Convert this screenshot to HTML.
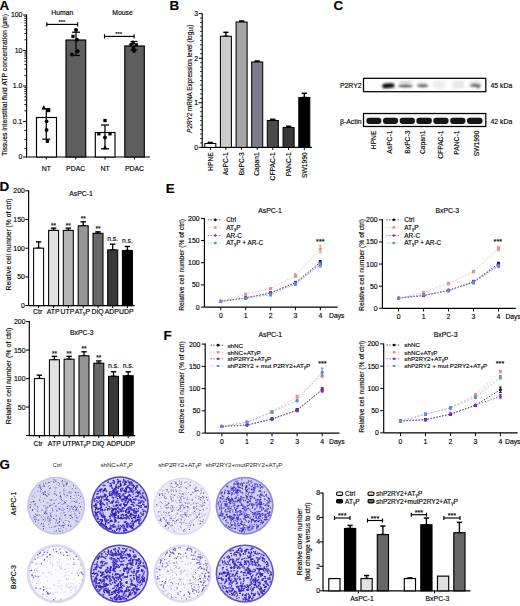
<!DOCTYPE html>
<html><head><meta charset="utf-8"><style>
html,body{margin:0;padding:0;background:#fff;width:520px;height:606px;overflow:hidden;}
svg{display:block;}
text{stroke:#000;stroke-width:0.14px;}
text[fill='#222']{stroke:none;}
</style></head><body>
<svg width="520" height="606" viewBox="0 0 520 606" font-family='"Liberation Sans", sans-serif'><defs>
<filter id="blur1" x="-20%" y="-80%" width="140%" height="260%"><feGaussianBlur stdDeviation="1.0"/></filter>
<filter id="blur2" x="-20%" y="-80%" width="140%" height="260%"><feGaussianBlur stdDeviation="0.6"/></filter>
<filter id="blur3" x="-20%" y="-80%" width="140%" height="260%"><feGaussianBlur stdDeviation="0.85"/></filter>
<filter id="soft" x="-10%" y="-10%" width="120%" height="120%"><feGaussianBlur stdDeviation="0.35"/></filter>
</defs>
<text x="-0.6" y="9.7" font-size="13.4" font-weight="bold">A</text>
<line x1="26.60" y1="14.50" x2="26.60" y2="157.50" stroke="#000" stroke-width="1.15"/>
<line x1="26.60" y1="157.00" x2="150.00" y2="157.00" stroke="#000" stroke-width="1.15"/>
<line x1="23.10" y1="15.00" x2="26.60" y2="15.00" stroke="#000" stroke-width="1"/>
<line x1="23.10" y1="50.50" x2="26.60" y2="50.50" stroke="#000" stroke-width="1"/>
<line x1="23.10" y1="86.00" x2="26.60" y2="86.00" stroke="#000" stroke-width="1"/>
<line x1="23.10" y1="121.50" x2="26.60" y2="121.50" stroke="#000" stroke-width="1"/>
<text x="22.4" y="17.45" font-size="6.9" text-anchor="end">100</text>
<text x="22.4" y="52.95" font-size="6.9" text-anchor="end">10</text>
<text x="22.4" y="88.45" font-size="6.9" text-anchor="end">1.0</text>
<text x="22.4" y="123.95" font-size="6.9" text-anchor="end">0.1</text>
<text x="22.4" y="159.45" font-size="6.9" text-anchor="end">0</text>
<line x1="23.10" y1="157.00" x2="26.60" y2="157.00" stroke="#000" stroke-width="1"/>
<line x1="24.30" y1="39.81" x2="26.60" y2="39.81" stroke="#000" stroke-width="0.85"/>
<line x1="24.30" y1="33.56" x2="26.60" y2="33.56" stroke="#000" stroke-width="0.85"/>
<line x1="24.30" y1="29.13" x2="26.60" y2="29.13" stroke="#000" stroke-width="0.85"/>
<line x1="24.30" y1="25.69" x2="26.60" y2="25.69" stroke="#000" stroke-width="0.85"/>
<line x1="24.30" y1="22.88" x2="26.60" y2="22.88" stroke="#000" stroke-width="0.85"/>
<line x1="24.30" y1="20.50" x2="26.60" y2="20.50" stroke="#000" stroke-width="0.85"/>
<line x1="24.30" y1="18.44" x2="26.60" y2="18.44" stroke="#000" stroke-width="0.85"/>
<line x1="24.30" y1="16.62" x2="26.60" y2="16.62" stroke="#000" stroke-width="0.85"/>
<line x1="24.30" y1="75.31" x2="26.60" y2="75.31" stroke="#000" stroke-width="0.85"/>
<line x1="24.30" y1="69.06" x2="26.60" y2="69.06" stroke="#000" stroke-width="0.85"/>
<line x1="24.30" y1="64.63" x2="26.60" y2="64.63" stroke="#000" stroke-width="0.85"/>
<line x1="24.30" y1="61.19" x2="26.60" y2="61.19" stroke="#000" stroke-width="0.85"/>
<line x1="24.30" y1="58.38" x2="26.60" y2="58.38" stroke="#000" stroke-width="0.85"/>
<line x1="24.30" y1="56.00" x2="26.60" y2="56.00" stroke="#000" stroke-width="0.85"/>
<line x1="24.30" y1="53.94" x2="26.60" y2="53.94" stroke="#000" stroke-width="0.85"/>
<line x1="24.30" y1="52.12" x2="26.60" y2="52.12" stroke="#000" stroke-width="0.85"/>
<line x1="24.30" y1="110.81" x2="26.60" y2="110.81" stroke="#000" stroke-width="0.85"/>
<line x1="24.30" y1="104.56" x2="26.60" y2="104.56" stroke="#000" stroke-width="0.85"/>
<line x1="24.30" y1="100.13" x2="26.60" y2="100.13" stroke="#000" stroke-width="0.85"/>
<line x1="24.30" y1="96.69" x2="26.60" y2="96.69" stroke="#000" stroke-width="0.85"/>
<line x1="24.30" y1="93.88" x2="26.60" y2="93.88" stroke="#000" stroke-width="0.85"/>
<line x1="24.30" y1="91.50" x2="26.60" y2="91.50" stroke="#000" stroke-width="0.85"/>
<line x1="24.30" y1="89.44" x2="26.60" y2="89.44" stroke="#000" stroke-width="0.85"/>
<line x1="24.30" y1="87.62" x2="26.60" y2="87.62" stroke="#000" stroke-width="0.85"/>
<line x1="24.30" y1="130.50" x2="26.60" y2="130.50" stroke="#000" stroke-width="0.85"/>
<line x1="24.30" y1="139.50" x2="26.60" y2="139.50" stroke="#000" stroke-width="0.85"/>
<line x1="24.30" y1="148.50" x2="26.60" y2="148.50" stroke="#000" stroke-width="0.85"/>
<text x="7.2" y="85" font-size="6.85" text-anchor="middle" transform="rotate(-90 7.2 85)">Tissues interstitial fluid ATP concentration (μm)</text>
<rect x="36.50" y="117.50" width="20.00" height="39.50" fill="#fff" stroke="#000" stroke-width="1.15"/>
<rect x="66.00" y="40.00" width="19.70" height="117.00" fill="#5e5e5e" stroke="#000" stroke-width="1.15"/>
<rect x="95.30" y="132.50" width="19.70" height="24.50" fill="#fff" stroke="#000" stroke-width="1.15"/>
<rect x="124.80" y="46.00" width="19.50" height="111.00" fill="#5e5e5e" stroke="#000" stroke-width="1.15"/>
<line x1="46.30" y1="108.80" x2="46.30" y2="139.20" stroke="#000" stroke-width="1.25"/>
<line x1="42.30" y1="108.80" x2="50.30" y2="108.80" stroke="#000" stroke-width="1.25"/>
<line x1="42.30" y1="139.20" x2="50.30" y2="139.20" stroke="#000" stroke-width="1.25"/>
<path d="M43.80 105.22L46.08 109.21L41.52 109.21Z" fill="#000"/>
<rect x="46.95" y="108.85" width="3.3" height="3.3" fill="#000"/>
<circle cx="46.60" cy="121.30" r="1.9" fill="#000"/>
<circle cx="46.60" cy="130.00" r="1.9" fill="#000"/>
<rect x="45.75" y="139.65" width="3.3" height="3.3" fill="#000"/>
<line x1="76.00" y1="32.20" x2="76.00" y2="55.50" stroke="#000" stroke-width="1.25"/>
<line x1="72.00" y1="32.20" x2="80.00" y2="32.20" stroke="#000" stroke-width="1.25"/>
<line x1="72.00" y1="55.50" x2="80.00" y2="55.50" stroke="#000" stroke-width="1.25"/>
<circle cx="76.00" cy="30.00" r="2.0" fill="#000"/>
<rect x="71.35" y="34.75" width="3.3" height="3.3" fill="#000"/>
<circle cx="77.00" cy="39.80" r="2.0" fill="#000"/>
<circle cx="77.50" cy="51.30" r="2.0" fill="#000"/>
<circle cx="72.00" cy="54.50" r="2.0" fill="#000"/>
<line x1="105.00" y1="125.00" x2="105.00" y2="148.80" stroke="#000" stroke-width="1.25"/>
<line x1="101.00" y1="125.00" x2="109.00" y2="125.00" stroke="#000" stroke-width="1.25"/>
<line x1="101.00" y1="148.80" x2="109.00" y2="148.80" stroke="#000" stroke-width="1.25"/>
<rect x="103.35" y="118.85" width="3.3" height="3.3" fill="#000"/>
<rect x="97.15" y="132.15" width="3.3" height="3.3" fill="#000"/>
<rect x="108.35" y="132.15" width="3.3" height="3.3" fill="#000"/>
<circle cx="105.00" cy="137.50" r="2.0" fill="#000"/>
<path d="M105.00 145.22L107.28 149.21L102.72 149.21Z" fill="#000"/>
<line x1="134.00" y1="41.50" x2="134.00" y2="50.00" stroke="#000" stroke-width="1.25"/>
<line x1="130.50" y1="41.50" x2="137.50" y2="41.50" stroke="#000" stroke-width="1.25"/>
<line x1="130.50" y1="50.00" x2="137.50" y2="50.00" stroke="#000" stroke-width="1.25"/>
<path d="M133.00 39.92L135.28 43.91L130.72 43.91Z" fill="#000"/>
<circle cx="131.00" cy="44.80" r="1.9" fill="#000"/>
<rect x="134.95" y="43.25" width="3.1" height="3.1" fill="#000"/>
<circle cx="133.50" cy="48.50" r="1.9" fill="#000"/>
<circle cx="134.00" cy="51.00" r="1.9" fill="#000"/>
<line x1="46.80" y1="24.40" x2="77.70" y2="24.40" stroke="#000" stroke-width="1.15"/>
<line x1="46.80" y1="22.20" x2="46.80" y2="26.60" stroke="#000" stroke-width="1.15"/>
<line x1="77.70" y1="22.20" x2="77.70" y2="26.60" stroke="#000" stroke-width="1.15"/>
<text x="61.8" y="24.3" font-size="5.8" text-anchor="middle">***</text>
<line x1="104.50" y1="36.40" x2="134.10" y2="36.40" stroke="#000" stroke-width="1.15"/>
<line x1="104.50" y1="34.20" x2="104.50" y2="38.60" stroke="#000" stroke-width="1.15"/>
<line x1="134.10" y1="34.20" x2="134.10" y2="38.60" stroke="#000" stroke-width="1.15"/>
<text x="118.7" y="36.3" font-size="5.8" text-anchor="middle">***</text>
<text x="62.3" y="15" font-size="6.8" text-anchor="middle">Human</text>
<text x="122.5" y="15" font-size="6.8" text-anchor="middle">Mouse</text>
<line x1="46.30" y1="157.00" x2="46.30" y2="159.50" stroke="#000" stroke-width="1"/>
<text x="46.3" y="170.5" font-size="6.9" text-anchor="middle">NT</text>
<line x1="75.70" y1="157.00" x2="75.70" y2="159.50" stroke="#000" stroke-width="1"/>
<text x="75.7" y="170.5" font-size="6.9" text-anchor="middle">PDAC</text>
<line x1="105.00" y1="157.00" x2="105.00" y2="159.50" stroke="#000" stroke-width="1"/>
<text x="105" y="170.5" font-size="6.9" text-anchor="middle">NT</text>
<line x1="134.50" y1="157.00" x2="134.50" y2="159.50" stroke="#000" stroke-width="1"/>
<text x="134.5" y="170.5" font-size="6.9" text-anchor="middle">PDAC</text>
<text x="169.6" y="10" font-size="13.4" font-weight="bold">B</text>
<line x1="202.20" y1="13.50" x2="202.20" y2="147.40" stroke="#000" stroke-width="1.15"/>
<line x1="202.20" y1="147.40" x2="312.00" y2="147.40" stroke="#000" stroke-width="1.15"/>
<line x1="198.70" y1="147.40" x2="202.20" y2="147.40" stroke="#000" stroke-width="1"/>
<text x="198" y="149.85" font-size="6.9" text-anchor="end">0</text>
<line x1="200.00" y1="142.94" x2="202.20" y2="142.94" stroke="#000" stroke-width="0.75"/>
<line x1="200.00" y1="138.48" x2="202.20" y2="138.48" stroke="#000" stroke-width="0.75"/>
<line x1="200.00" y1="134.02" x2="202.20" y2="134.02" stroke="#000" stroke-width="0.75"/>
<line x1="200.00" y1="129.56" x2="202.20" y2="129.56" stroke="#000" stroke-width="0.75"/>
<line x1="200.00" y1="125.10" x2="202.20" y2="125.10" stroke="#000" stroke-width="0.75"/>
<line x1="200.00" y1="120.64" x2="202.20" y2="120.64" stroke="#000" stroke-width="0.75"/>
<line x1="200.00" y1="116.18" x2="202.20" y2="116.18" stroke="#000" stroke-width="0.75"/>
<line x1="200.00" y1="111.72" x2="202.20" y2="111.72" stroke="#000" stroke-width="0.75"/>
<line x1="200.00" y1="107.26" x2="202.20" y2="107.26" stroke="#000" stroke-width="0.75"/>
<line x1="198.70" y1="102.80" x2="202.20" y2="102.80" stroke="#000" stroke-width="1"/>
<text x="198" y="105.25000000000001" font-size="6.9" text-anchor="end">1</text>
<line x1="200.00" y1="98.34" x2="202.20" y2="98.34" stroke="#000" stroke-width="0.75"/>
<line x1="200.00" y1="93.88" x2="202.20" y2="93.88" stroke="#000" stroke-width="0.75"/>
<line x1="200.00" y1="89.42" x2="202.20" y2="89.42" stroke="#000" stroke-width="0.75"/>
<line x1="200.00" y1="84.96" x2="202.20" y2="84.96" stroke="#000" stroke-width="0.75"/>
<line x1="200.00" y1="80.50" x2="202.20" y2="80.50" stroke="#000" stroke-width="0.75"/>
<line x1="200.00" y1="76.04" x2="202.20" y2="76.04" stroke="#000" stroke-width="0.75"/>
<line x1="200.00" y1="71.58" x2="202.20" y2="71.58" stroke="#000" stroke-width="0.75"/>
<line x1="200.00" y1="67.12" x2="202.20" y2="67.12" stroke="#000" stroke-width="0.75"/>
<line x1="200.00" y1="62.66" x2="202.20" y2="62.66" stroke="#000" stroke-width="0.75"/>
<line x1="198.70" y1="58.20" x2="202.20" y2="58.20" stroke="#000" stroke-width="1"/>
<text x="198" y="60.650000000000006" font-size="6.9" text-anchor="end">2</text>
<line x1="200.00" y1="53.74" x2="202.20" y2="53.74" stroke="#000" stroke-width="0.75"/>
<line x1="200.00" y1="49.28" x2="202.20" y2="49.28" stroke="#000" stroke-width="0.75"/>
<line x1="200.00" y1="44.82" x2="202.20" y2="44.82" stroke="#000" stroke-width="0.75"/>
<line x1="200.00" y1="40.36" x2="202.20" y2="40.36" stroke="#000" stroke-width="0.75"/>
<line x1="200.00" y1="35.90" x2="202.20" y2="35.90" stroke="#000" stroke-width="0.75"/>
<line x1="200.00" y1="31.44" x2="202.20" y2="31.44" stroke="#000" stroke-width="0.75"/>
<line x1="200.00" y1="26.98" x2="202.20" y2="26.98" stroke="#000" stroke-width="0.75"/>
<line x1="200.00" y1="22.52" x2="202.20" y2="22.52" stroke="#000" stroke-width="0.75"/>
<line x1="200.00" y1="18.06" x2="202.20" y2="18.06" stroke="#000" stroke-width="0.75"/>
<line x1="198.70" y1="13.60" x2="202.20" y2="13.60" stroke="#000" stroke-width="1"/>
<text x="198" y="16.049999999999994" font-size="6.9" text-anchor="end">3</text>
<text x="191.6" y="78.7" font-size="6.4" text-anchor="middle" transform="rotate(-90 191.6 78.7)"><tspan font-style="italic">P2RY2</tspan> mRNA Expression level (log<tspan font-size="4.5" dy="1.5">10</tspan><tspan dy="-1.5">)</tspan></text>
<line x1="210.30" y1="142.40" x2="210.30" y2="143.50" stroke="#000" stroke-width="1.4"/>
<line x1="207.70" y1="142.40" x2="212.90" y2="142.40" stroke="#000" stroke-width="1.5"/>
<line x1="207.70" y1="143.50" x2="212.90" y2="143.50" stroke="#000" stroke-width="1.5"/>
<rect x="204.80" y="143.50" width="11.00" height="3.90" fill="#ffffff" stroke="#000" stroke-width="1.05"/>
<line x1="210.30" y1="147.40" x2="210.30" y2="149.90" stroke="#000" stroke-width="1"/>
<text x="212.60000000000002" y="152.3" font-size="6.7" text-anchor="end" transform="rotate(-90 212.60000000000002 152.3)">HPNE</text>
<line x1="225.90" y1="32.30" x2="225.90" y2="36.30" stroke="#000" stroke-width="1.4"/>
<line x1="223.30" y1="32.30" x2="228.50" y2="32.30" stroke="#000" stroke-width="1.5"/>
<line x1="223.30" y1="36.30" x2="228.50" y2="36.30" stroke="#000" stroke-width="1.5"/>
<rect x="220.40" y="36.30" width="11.00" height="111.10" fill="#cbcbcb" stroke="#000" stroke-width="1.05"/>
<line x1="225.90" y1="147.40" x2="225.90" y2="149.90" stroke="#000" stroke-width="1"/>
<text x="228.20000000000002" y="152.3" font-size="6.7" text-anchor="end" transform="rotate(-90 228.20000000000002 152.3)">AsPC-1</text>
<line x1="241.60" y1="21.00" x2="241.60" y2="22.00" stroke="#000" stroke-width="1.4"/>
<line x1="239.00" y1="21.00" x2="244.20" y2="21.00" stroke="#000" stroke-width="1.5"/>
<line x1="239.00" y1="22.00" x2="244.20" y2="22.00" stroke="#000" stroke-width="1.5"/>
<rect x="236.10" y="22.00" width="11.00" height="125.40" fill="#a5a5a5" stroke="#000" stroke-width="1.05"/>
<line x1="241.60" y1="147.40" x2="241.60" y2="149.90" stroke="#000" stroke-width="1"/>
<text x="243.9" y="152.3" font-size="6.7" text-anchor="end" transform="rotate(-90 243.9 152.3)">BxPC-3</text>
<line x1="257.20" y1="61.00" x2="257.20" y2="62.00" stroke="#000" stroke-width="1.4"/>
<line x1="254.60" y1="61.00" x2="259.80" y2="61.00" stroke="#000" stroke-width="1.5"/>
<line x1="254.60" y1="62.00" x2="259.80" y2="62.00" stroke="#000" stroke-width="1.5"/>
<rect x="251.70" y="62.00" width="11.00" height="85.40" fill="#7c7c8e" stroke="#000" stroke-width="1.05"/>
<line x1="257.20" y1="147.40" x2="257.20" y2="149.90" stroke="#000" stroke-width="1"/>
<text x="259.5" y="152.3" font-size="6.7" text-anchor="end" transform="rotate(-90 259.5 152.3)">Capan1</text>
<line x1="272.80" y1="119.30" x2="272.80" y2="120.50" stroke="#000" stroke-width="1.4"/>
<line x1="270.20" y1="119.30" x2="275.40" y2="119.30" stroke="#000" stroke-width="1.5"/>
<line x1="270.20" y1="120.50" x2="275.40" y2="120.50" stroke="#000" stroke-width="1.5"/>
<rect x="267.30" y="120.50" width="11.00" height="26.90" fill="#4a4a4a" stroke="#000" stroke-width="1.05"/>
<line x1="272.80" y1="147.40" x2="272.80" y2="149.90" stroke="#000" stroke-width="1"/>
<text x="275.1" y="152.3" font-size="6.7" text-anchor="end" transform="rotate(-90 275.1 152.3)">CFPAC-1</text>
<line x1="288.60" y1="126.30" x2="288.60" y2="127.50" stroke="#000" stroke-width="1.4"/>
<line x1="286.00" y1="126.30" x2="291.20" y2="126.30" stroke="#000" stroke-width="1.5"/>
<line x1="286.00" y1="127.50" x2="291.20" y2="127.50" stroke="#000" stroke-width="1.5"/>
<rect x="283.10" y="127.50" width="11.00" height="19.90" fill="#383838" stroke="#000" stroke-width="1.05"/>
<line x1="288.60" y1="147.40" x2="288.60" y2="149.90" stroke="#000" stroke-width="1"/>
<text x="290.90000000000003" y="152.3" font-size="6.7" text-anchor="end" transform="rotate(-90 290.90000000000003 152.3)">PANC-1</text>
<line x1="304.30" y1="93.30" x2="304.30" y2="97.50" stroke="#000" stroke-width="1.4"/>
<line x1="301.70" y1="93.30" x2="306.90" y2="93.30" stroke="#000" stroke-width="1.5"/>
<line x1="301.70" y1="97.50" x2="306.90" y2="97.50" stroke="#000" stroke-width="1.5"/>
<rect x="298.80" y="97.50" width="11.00" height="49.90" fill="#000000" stroke="#000" stroke-width="1.05"/>
<line x1="304.30" y1="147.40" x2="304.30" y2="149.90" stroke="#000" stroke-width="1"/>
<text x="306.6" y="152.3" font-size="6.7" text-anchor="end" transform="rotate(-90 306.6 152.3)">SW1990</text>
<text x="333.6" y="10" font-size="13.4" font-weight="bold">C</text>
<rect x="363.50" y="78.30" width="122.30" height="13.40" fill="#fdfdfd" stroke="none" stroke-width="0"/>
<rect x="363.50" y="113.50" width="122.30" height="13.00" fill="#f6f6f6" stroke="none" stroke-width="0"/>
<g filter="url(#blur3)">
<path d="M382.5 84.2 Q388 82.6 394 83.6 L394.5 87.2 Q388 88.6 382.5 88 Z" fill="#111"/>
<ellipse cx="405.5" cy="82.6" rx="7.2" ry="1.7" fill="#d4d4d4"/>
<ellipse cx="405.5" cy="85.9" rx="7.4" ry="1.25" fill="#3a3a3a"/>
<ellipse cx="422.6" cy="82.8" rx="5.5" ry="1.4" fill="#e4e4e4"/>
<ellipse cx="422.6" cy="85.6" rx="5.6" ry="1.3" fill="#3e3e3e"/>
<rect x="433" y="81" width="12" height="7.5" rx="3" fill="#ececec"/>
<rect x="452.5" y="81" width="11.5" height="7.5" rx="3" fill="#e8e8e8"/>
<ellipse cx="475.3" cy="82.8" rx="5.8" ry="1.5" fill="#d8d8d8"/>
<ellipse cx="475.3" cy="85.3" rx="5.8" ry="1.2" fill="#333"/>
<circle cx="478.2" cy="87.6" r="1" fill="#222"/>
</g>
<g filter="url(#blur2)">
<rect x="366.4" y="117.8" width="14.9" height="6.1" rx="2.8" fill="#141414"/>
<rect x="383" y="117.8" width="15.0" height="6.1" rx="2.8" fill="#141414"/>
<rect x="399.7" y="117.8" width="15.2" height="6.1" rx="2.8" fill="#141414"/>
<rect x="416.4" y="117.8" width="15.4" height="6.1" rx="2.8" fill="#141414"/>
<rect x="433.3" y="117.8" width="15.3" height="6.1" rx="2.8" fill="#141414"/>
<rect x="450.2" y="117.8" width="15.2" height="6.1" rx="2.8" fill="#141414"/>
<rect x="467" y="117.8" width="15.5" height="6.1" rx="2.8" fill="#141414"/>
</g>
<rect x="363.50" y="78.30" width="122.30" height="13.40" fill="none" stroke="#000" stroke-width="1.25"/>
<rect x="363.50" y="113.50" width="122.30" height="13.00" fill="none" stroke="#000" stroke-width="1.25"/>
<text x="361.6" y="88.3" font-size="6.9" text-anchor="end">P2RY2</text>
<text x="361.6" y="123.5" font-size="6.9" text-anchor="end">β-Actin</text>
<text x="490.5" y="88.3" font-size="6.9">45 kDa</text>
<text x="490.5" y="124" font-size="6.9">42 kDa</text>
<text x="376.1" y="130.6" font-size="6.7" text-anchor="end" transform="rotate(-90 376.1 130.6)">HPNE</text>
<text x="392.3" y="130.6" font-size="6.7" text-anchor="end" transform="rotate(-90 392.3 130.6)">AsPC-1</text>
<text x="409.8" y="130.6" font-size="6.7" text-anchor="end" transform="rotate(-90 409.8 130.6)">BxPC-3</text>
<text x="425.1" y="130.6" font-size="6.7" text-anchor="end" transform="rotate(-90 425.1 130.6)">Capan1</text>
<text x="442.90000000000003" y="130.6" font-size="6.7" text-anchor="end" transform="rotate(-90 442.90000000000003 130.6)">CFPAC-1</text>
<text x="459.1" y="130.6" font-size="6.7" text-anchor="end" transform="rotate(-90 459.1 130.6)">PANC-1</text>
<text x="479.0" y="130.6" font-size="6.7" text-anchor="end" transform="rotate(-90 479.0 130.6)">SW1990</text>
<text x="-0.4" y="190.8" font-size="13.4" font-weight="bold">D</text>
<line x1="28.60" y1="190.30" x2="28.60" y2="305.60" stroke="#000" stroke-width="1.15"/>
<line x1="28.60" y1="305.60" x2="134.50" y2="305.60" stroke="#000" stroke-width="1.15"/>
<line x1="25.30" y1="305.60" x2="28.60" y2="305.60" stroke="#000" stroke-width="1"/>
<text x="24.8" y="308.05" font-size="6.9" text-anchor="end">0</text>
<line x1="25.30" y1="276.90" x2="28.60" y2="276.90" stroke="#000" stroke-width="1"/>
<text x="24.8" y="279.35" font-size="6.9" text-anchor="end">50</text>
<line x1="25.30" y1="248.20" x2="28.60" y2="248.20" stroke="#000" stroke-width="1"/>
<text x="24.8" y="250.65" font-size="6.9" text-anchor="end">100</text>
<line x1="25.30" y1="219.50" x2="28.60" y2="219.50" stroke="#000" stroke-width="1"/>
<text x="24.8" y="221.95" font-size="6.9" text-anchor="end">150</text>
<line x1="25.30" y1="190.80" x2="28.60" y2="190.80" stroke="#000" stroke-width="1"/>
<text x="24.8" y="193.25" font-size="6.9" text-anchor="end">200</text>
<text x="81" y="196.3" font-size="6.9" text-anchor="middle">AsPC-1</text>
<text x="11.1" y="244.5" font-size="6.75" text-anchor="middle" transform="rotate(-90 11.1 244.5)">Relative cell number (% of ctrl)</text>
<line x1="38.60" y1="241.89" x2="38.60" y2="248.20" stroke="#000" stroke-width="1.3"/>
<line x1="35.90" y1="241.89" x2="41.30" y2="241.89" stroke="#000" stroke-width="1.4"/>
<line x1="35.90" y1="248.20" x2="41.30" y2="248.20" stroke="#000" stroke-width="1.4"/>
<rect x="33.60" y="248.20" width="10.00" height="57.40" fill="#ffffff" stroke="#000" stroke-width="1.05"/>
<line x1="38.60" y1="305.60" x2="38.60" y2="308.10" stroke="#000" stroke-width="1"/>
<line x1="53.60" y1="228.11" x2="53.60" y2="230.41" stroke="#000" stroke-width="1.3"/>
<line x1="50.90" y1="228.11" x2="56.30" y2="228.11" stroke="#000" stroke-width="1.4"/>
<line x1="50.90" y1="230.41" x2="56.30" y2="230.41" stroke="#000" stroke-width="1.4"/>
<rect x="48.60" y="230.41" width="10.00" height="75.19" fill="#e2e2e2" stroke="#000" stroke-width="1.05"/>
<line x1="53.60" y1="305.60" x2="53.60" y2="308.10" stroke="#000" stroke-width="1"/>
<text x="53.6" y="227.51000000000002" font-size="6.4" text-anchor="middle">**</text>
<line x1="68.30" y1="228.11" x2="68.30" y2="230.41" stroke="#000" stroke-width="1.3"/>
<line x1="65.60" y1="228.11" x2="71.00" y2="228.11" stroke="#000" stroke-width="1.4"/>
<line x1="65.60" y1="230.41" x2="71.00" y2="230.41" stroke="#000" stroke-width="1.4"/>
<rect x="63.30" y="230.41" width="10.00" height="75.19" fill="#b4b4b4" stroke="#000" stroke-width="1.05"/>
<line x1="68.30" y1="305.60" x2="68.30" y2="308.10" stroke="#000" stroke-width="1"/>
<text x="68.3" y="227.51000000000002" font-size="6.4" text-anchor="middle">**</text>
<line x1="83.20" y1="221.80" x2="83.20" y2="225.81" stroke="#000" stroke-width="1.3"/>
<line x1="80.50" y1="221.80" x2="85.90" y2="221.80" stroke="#000" stroke-width="1.4"/>
<line x1="80.50" y1="225.81" x2="85.90" y2="225.81" stroke="#000" stroke-width="1.4"/>
<rect x="78.20" y="225.81" width="10.00" height="79.79" fill="#959595" stroke="#000" stroke-width="1.05"/>
<line x1="83.20" y1="305.60" x2="83.20" y2="308.10" stroke="#000" stroke-width="1"/>
<text x="83.2" y="221.196" font-size="6.4" text-anchor="middle">**</text>
<line x1="98.00" y1="231.84" x2="98.00" y2="233.28" stroke="#000" stroke-width="1.3"/>
<line x1="95.30" y1="231.84" x2="100.70" y2="231.84" stroke="#000" stroke-width="1.4"/>
<line x1="95.30" y1="233.28" x2="100.70" y2="233.28" stroke="#000" stroke-width="1.4"/>
<rect x="93.00" y="233.28" width="10.00" height="72.32" fill="#686868" stroke="#000" stroke-width="1.05"/>
<line x1="98.00" y1="305.60" x2="98.00" y2="308.10" stroke="#000" stroke-width="1"/>
<text x="98" y="231.241" font-size="6.4" text-anchor="middle">**</text>
<line x1="112.70" y1="244.18" x2="112.70" y2="249.92" stroke="#000" stroke-width="1.3"/>
<line x1="110.00" y1="244.18" x2="115.40" y2="244.18" stroke="#000" stroke-width="1.4"/>
<line x1="110.00" y1="249.92" x2="115.40" y2="249.92" stroke="#000" stroke-width="1.4"/>
<rect x="107.70" y="249.92" width="10.00" height="55.68" fill="#383838" stroke="#000" stroke-width="1.05"/>
<line x1="112.70" y1="305.60" x2="112.70" y2="308.10" stroke="#000" stroke-width="1"/>
<text x="112.7" y="240.782" font-size="6.8" text-anchor="middle">n.s.</text>
<line x1="127.40" y1="246.48" x2="127.40" y2="250.50" stroke="#000" stroke-width="1.3"/>
<line x1="124.70" y1="246.48" x2="130.10" y2="246.48" stroke="#000" stroke-width="1.4"/>
<line x1="124.70" y1="250.50" x2="130.10" y2="250.50" stroke="#000" stroke-width="1.4"/>
<rect x="122.40" y="250.50" width="10.00" height="55.10" fill="#000000" stroke="#000" stroke-width="1.05"/>
<line x1="127.40" y1="305.60" x2="127.40" y2="308.10" stroke="#000" stroke-width="1"/>
<text x="127.4" y="243.078" font-size="6.8" text-anchor="middle">n.s.</text>
<text x="37.6" y="314.1" font-size="6.9" text-anchor="middle">Ctr</text>
<text x="53.2" y="314.1" font-size="6.9" text-anchor="middle">ATP</text>
<text x="67.4" y="314.1" font-size="6.9" text-anchor="middle">UTP</text>
<text x="82.4" y="314.1" font-size="6.9" text-anchor="middle">AT<tspan font-size="72%" dy="0.9">γ</tspan><tspan dy="-0.9">P</tspan></text>
<text x="97.6" y="314.1" font-size="6.9" text-anchor="middle">DIQ</text>
<text x="111.8" y="314.1" font-size="6.9" text-anchor="middle">ADP</text>
<text x="126.4" y="314.1" font-size="6.9" text-anchor="middle">UDP</text>
<line x1="29.30" y1="321.10" x2="29.30" y2="435.60" stroke="#000" stroke-width="1.15"/>
<line x1="29.30" y1="435.60" x2="135.30" y2="435.60" stroke="#000" stroke-width="1.15"/>
<line x1="26.00" y1="435.60" x2="29.30" y2="435.60" stroke="#000" stroke-width="1"/>
<line x1="26.00" y1="407.10" x2="29.30" y2="407.10" stroke="#000" stroke-width="1"/>
<text x="25.5" y="409.55" font-size="6.9" text-anchor="end">50</text>
<line x1="26.00" y1="378.60" x2="29.30" y2="378.60" stroke="#000" stroke-width="1"/>
<text x="25.5" y="381.05" font-size="6.9" text-anchor="end">100</text>
<line x1="26.00" y1="350.10" x2="29.30" y2="350.10" stroke="#000" stroke-width="1"/>
<text x="25.5" y="352.55" font-size="6.9" text-anchor="end">150</text>
<line x1="26.00" y1="321.60" x2="29.30" y2="321.60" stroke="#000" stroke-width="1"/>
<text x="25.5" y="324.05" font-size="6.9" text-anchor="end">200</text>
<text x="81.8" y="334.8" font-size="6.9" text-anchor="middle">BxPC-3</text>
<text x="11.1" y="376" font-size="7.1" text-anchor="middle" transform="rotate(-90 11.1 376)">Relative cell number (% of ctrl)</text>
<line x1="39.40" y1="375.18" x2="39.40" y2="378.60" stroke="#000" stroke-width="1.3"/>
<line x1="36.70" y1="375.18" x2="42.10" y2="375.18" stroke="#000" stroke-width="1.4"/>
<line x1="36.70" y1="378.60" x2="42.10" y2="378.60" stroke="#000" stroke-width="1.4"/>
<rect x="34.40" y="378.60" width="10.00" height="57.00" fill="#ffffff" stroke="#000" stroke-width="1.05"/>
<line x1="39.40" y1="435.60" x2="39.40" y2="438.10" stroke="#000" stroke-width="1"/>
<line x1="54.40" y1="356.37" x2="54.40" y2="359.79" stroke="#000" stroke-width="1.3"/>
<line x1="51.70" y1="356.37" x2="57.10" y2="356.37" stroke="#000" stroke-width="1.4"/>
<line x1="51.70" y1="359.79" x2="57.10" y2="359.79" stroke="#000" stroke-width="1.4"/>
<rect x="49.40" y="359.79" width="10.00" height="75.81" fill="#e2e2e2" stroke="#000" stroke-width="1.05"/>
<line x1="54.40" y1="435.60" x2="54.40" y2="438.10" stroke="#000" stroke-width="1"/>
<text x="54.4" y="355.77" font-size="6.4" text-anchor="middle">**</text>
<line x1="69.10" y1="356.37" x2="69.10" y2="359.22" stroke="#000" stroke-width="1.3"/>
<line x1="66.40" y1="356.37" x2="71.80" y2="356.37" stroke="#000" stroke-width="1.4"/>
<line x1="66.40" y1="359.22" x2="71.80" y2="359.22" stroke="#000" stroke-width="1.4"/>
<rect x="64.10" y="359.22" width="10.00" height="76.38" fill="#b4b4b4" stroke="#000" stroke-width="1.05"/>
<line x1="69.10" y1="435.60" x2="69.10" y2="438.10" stroke="#000" stroke-width="1"/>
<text x="69.1" y="355.77" font-size="6.4" text-anchor="middle">**</text>
<line x1="84.00" y1="351.81" x2="84.00" y2="355.80" stroke="#000" stroke-width="1.3"/>
<line x1="81.30" y1="351.81" x2="86.70" y2="351.81" stroke="#000" stroke-width="1.4"/>
<line x1="81.30" y1="355.80" x2="86.70" y2="355.80" stroke="#000" stroke-width="1.4"/>
<rect x="79.00" y="355.80" width="10.00" height="79.80" fill="#959595" stroke="#000" stroke-width="1.05"/>
<line x1="84.00" y1="435.60" x2="84.00" y2="438.10" stroke="#000" stroke-width="1"/>
<text x="84.0" y="351.21000000000004" font-size="6.4" text-anchor="middle">**</text>
<line x1="98.80" y1="360.93" x2="98.80" y2="363.21" stroke="#000" stroke-width="1.3"/>
<line x1="96.10" y1="360.93" x2="101.50" y2="360.93" stroke="#000" stroke-width="1.4"/>
<line x1="96.10" y1="363.21" x2="101.50" y2="363.21" stroke="#000" stroke-width="1.4"/>
<rect x="93.80" y="363.21" width="10.00" height="72.39" fill="#686868" stroke="#000" stroke-width="1.05"/>
<line x1="98.80" y1="435.60" x2="98.80" y2="438.10" stroke="#000" stroke-width="1"/>
<text x="98.8" y="360.33000000000004" font-size="6.4" text-anchor="middle">**</text>
<line x1="113.50" y1="371.76" x2="113.50" y2="376.32" stroke="#000" stroke-width="1.3"/>
<line x1="110.80" y1="371.76" x2="116.20" y2="371.76" stroke="#000" stroke-width="1.4"/>
<line x1="110.80" y1="376.32" x2="116.20" y2="376.32" stroke="#000" stroke-width="1.4"/>
<rect x="108.50" y="376.32" width="10.00" height="59.28" fill="#383838" stroke="#000" stroke-width="1.05"/>
<line x1="113.50" y1="435.60" x2="113.50" y2="438.10" stroke="#000" stroke-width="1"/>
<text x="113.5" y="368.36000000000007" font-size="6.8" text-anchor="middle">n.s.</text>
<line x1="128.20" y1="371.76" x2="128.20" y2="375.75" stroke="#000" stroke-width="1.3"/>
<line x1="125.50" y1="371.76" x2="130.90" y2="371.76" stroke="#000" stroke-width="1.4"/>
<line x1="125.50" y1="375.75" x2="130.90" y2="375.75" stroke="#000" stroke-width="1.4"/>
<rect x="123.20" y="375.75" width="10.00" height="59.85" fill="#000000" stroke="#000" stroke-width="1.05"/>
<line x1="128.20" y1="435.60" x2="128.20" y2="438.10" stroke="#000" stroke-width="1"/>
<text x="128.2" y="368.36000000000007" font-size="6.8" text-anchor="middle">n.s.</text>
<text x="38" y="445.8" font-size="6.9" text-anchor="middle">Ctr</text>
<text x="54.3" y="445.8" font-size="6.9" text-anchor="middle">ATP</text>
<text x="69.3" y="445.8" font-size="6.9" text-anchor="middle">UTP</text>
<text x="83" y="445.8" font-size="6.9" text-anchor="middle">AT<tspan font-size="72%" dy="0.9">γ</tspan><tspan dy="-0.9">P</tspan></text>
<text x="98.3" y="445.8" font-size="6.9" text-anchor="middle">DIQ</text>
<text x="113.5" y="445.8" font-size="6.9" text-anchor="middle">ADP</text>
<text x="127.9" y="445.8" font-size="6.9" text-anchor="middle">UDP</text>
<text x="165.8" y="192.8" font-size="13.4" font-weight="bold">E</text>
<line x1="204.40" y1="217.90" x2="204.40" y2="307.10" stroke="#000" stroke-width="1.15"/>
<line x1="204.40" y1="307.10" x2="337.60" y2="307.10" stroke="#000" stroke-width="1.15"/>
<line x1="200.90" y1="307.10" x2="204.40" y2="307.10" stroke="#000" stroke-width="1"/>
<text x="199.6" y="309.55" font-size="6.9" text-anchor="end">0</text>
<line x1="200.90" y1="284.93" x2="204.40" y2="284.93" stroke="#000" stroke-width="1"/>
<text x="199.6" y="287.375" font-size="6.9" text-anchor="end">50</text>
<line x1="200.90" y1="262.75" x2="204.40" y2="262.75" stroke="#000" stroke-width="1"/>
<text x="199.6" y="265.2" font-size="6.9" text-anchor="end">100</text>
<line x1="200.90" y1="240.58" x2="204.40" y2="240.58" stroke="#000" stroke-width="1"/>
<text x="199.6" y="243.025" font-size="6.9" text-anchor="end">150</text>
<line x1="200.90" y1="218.40" x2="204.40" y2="218.40" stroke="#000" stroke-width="1"/>
<text x="199.6" y="220.85" font-size="6.9" text-anchor="end">200</text>
<line x1="220.80" y1="307.10" x2="220.80" y2="310.30" stroke="#000" stroke-width="1"/>
<text x="220.8" y="317.70000000000005" font-size="6.9" text-anchor="middle">0</text>
<line x1="245.70" y1="307.10" x2="245.70" y2="310.30" stroke="#000" stroke-width="1"/>
<text x="245.7" y="317.70000000000005" font-size="6.9" text-anchor="middle">1</text>
<line x1="270.60" y1="307.10" x2="270.60" y2="310.30" stroke="#000" stroke-width="1"/>
<text x="270.6" y="317.70000000000005" font-size="6.9" text-anchor="middle">2</text>
<line x1="295.40" y1="307.10" x2="295.40" y2="310.30" stroke="#000" stroke-width="1"/>
<text x="295.4" y="317.70000000000005" font-size="6.9" text-anchor="middle">3</text>
<line x1="320.30" y1="307.10" x2="320.30" y2="310.30" stroke="#000" stroke-width="1"/>
<text x="320.3" y="317.70000000000005" font-size="6.9" text-anchor="middle">4</text>
<text x="329.0" y="317.70000000000005" font-size="6.8">Days</text>
<text x="184.3" y="264.9" font-size="6.75" text-anchor="middle" transform="rotate(-90 184.3 264.9)">Relative cell number (% of ctrl)</text>
<text x="270" y="213.3" font-size="6.9" text-anchor="middle">AsPC-1</text>
<text x="320.3" y="243.8" font-size="7.2" text-anchor="middle">***</text>
<path d="M220.8 301.3 L245.7 297.8 L270.6 292.9 L295.4 282.7 L320.3 262.3" fill="none" stroke="#222" stroke-width="0.85" stroke-dasharray="1.4,1.6"/>
<path d="M220.8 301.3 L245.7 294.2 L270.6 288.5 L295.4 275.6 L320.3 249.0" fill="none" stroke="#f2b4ac" stroke-width="0.85" stroke-dasharray="2,1.5"/>
<path d="M220.8 301.3 L245.7 298.2 L270.6 292.9 L295.4 283.2 L320.3 264.1" fill="none" stroke="#8a45c8" stroke-width="0.85" stroke-dasharray="1.4,1.6"/>
<path d="M220.8 301.3 L245.7 298.2 L270.6 294.7 L295.4 284.0 L320.3 265.0" fill="none" stroke="#98b8e6" stroke-width="0.85" stroke-dasharray="2,1.5"/>
<circle cx="220.80" cy="301.33" r="1.6" fill="#111111"/>
<line x1="245.70" y1="296.90" x2="245.70" y2="298.67" stroke="#111111" stroke-width="1.0"/>
<line x1="244.30" y1="296.90" x2="247.10" y2="296.90" stroke="#111111" stroke-width="1.0"/>
<line x1="244.30" y1="298.67" x2="247.10" y2="298.67" stroke="#111111" stroke-width="1.0"/>
<circle cx="245.70" cy="297.79" r="1.6" fill="#111111"/>
<line x1="270.60" y1="292.02" x2="270.60" y2="293.80" stroke="#111111" stroke-width="1.0"/>
<line x1="269.20" y1="292.02" x2="272.00" y2="292.02" stroke="#111111" stroke-width="1.0"/>
<line x1="269.20" y1="293.80" x2="272.00" y2="293.80" stroke="#111111" stroke-width="1.0"/>
<circle cx="270.60" cy="292.91" r="1.6" fill="#111111"/>
<line x1="295.40" y1="281.38" x2="295.40" y2="284.04" stroke="#111111" stroke-width="1.0"/>
<line x1="294.00" y1="281.38" x2="296.80" y2="281.38" stroke="#111111" stroke-width="1.0"/>
<line x1="294.00" y1="284.04" x2="296.80" y2="284.04" stroke="#111111" stroke-width="1.0"/>
<circle cx="295.40" cy="282.71" r="1.6" fill="#111111"/>
<line x1="320.30" y1="260.53" x2="320.30" y2="264.08" stroke="#111111" stroke-width="1.0"/>
<line x1="318.90" y1="260.53" x2="321.70" y2="260.53" stroke="#111111" stroke-width="1.0"/>
<line x1="318.90" y1="264.08" x2="321.70" y2="264.08" stroke="#111111" stroke-width="1.0"/>
<circle cx="320.30" cy="262.31" r="1.6" fill="#111111"/>
<rect x="219.30" y="299.83" width="3.0" height="3.0" fill="#ec8f86"/>
<line x1="245.70" y1="293.35" x2="245.70" y2="295.13" stroke="#ec8f86" stroke-width="1.0"/>
<line x1="244.30" y1="293.35" x2="247.10" y2="293.35" stroke="#ec8f86" stroke-width="1.0"/>
<line x1="244.30" y1="295.13" x2="247.10" y2="295.13" stroke="#ec8f86" stroke-width="1.0"/>
<rect x="244.20" y="292.74" width="3.0" height="3.0" fill="#ec8f86"/>
<line x1="270.60" y1="287.59" x2="270.60" y2="289.36" stroke="#ec8f86" stroke-width="1.0"/>
<line x1="269.20" y1="287.59" x2="272.00" y2="287.59" stroke="#ec8f86" stroke-width="1.0"/>
<line x1="269.20" y1="289.36" x2="272.00" y2="289.36" stroke="#ec8f86" stroke-width="1.0"/>
<rect x="269.10" y="286.97" width="3.0" height="3.0" fill="#ec8f86"/>
<line x1="295.40" y1="273.84" x2="295.40" y2="277.39" stroke="#ec8f86" stroke-width="1.0"/>
<line x1="294.00" y1="273.84" x2="296.80" y2="273.84" stroke="#ec8f86" stroke-width="1.0"/>
<line x1="294.00" y1="277.39" x2="296.80" y2="277.39" stroke="#ec8f86" stroke-width="1.0"/>
<rect x="293.90" y="274.11" width="3.0" height="3.0" fill="#ec8f86"/>
<line x1="320.30" y1="245.45" x2="320.30" y2="252.55" stroke="#ec8f86" stroke-width="1.0"/>
<line x1="318.90" y1="245.45" x2="321.70" y2="245.45" stroke="#ec8f86" stroke-width="1.0"/>
<line x1="318.90" y1="252.55" x2="321.70" y2="252.55" stroke="#ec8f86" stroke-width="1.0"/>
<rect x="318.80" y="247.50" width="3.0" height="3.0" fill="#ec8f86"/>
<path d="M220.80 299.43L222.70 301.33L220.80 303.23L218.90 301.33Z" fill="#7b2fc4"/>
<line x1="245.70" y1="297.34" x2="245.70" y2="299.12" stroke="#7b2fc4" stroke-width="1.0"/>
<line x1="244.30" y1="297.34" x2="247.10" y2="297.34" stroke="#7b2fc4" stroke-width="1.0"/>
<line x1="244.30" y1="299.12" x2="247.10" y2="299.12" stroke="#7b2fc4" stroke-width="1.0"/>
<path d="M245.70 296.33L247.60 298.23L245.70 300.13L243.80 298.23Z" fill="#7b2fc4"/>
<line x1="270.60" y1="292.02" x2="270.60" y2="293.80" stroke="#7b2fc4" stroke-width="1.0"/>
<line x1="269.20" y1="292.02" x2="272.00" y2="292.02" stroke="#7b2fc4" stroke-width="1.0"/>
<line x1="269.20" y1="293.80" x2="272.00" y2="293.80" stroke="#7b2fc4" stroke-width="1.0"/>
<path d="M270.60 291.01L272.50 292.91L270.60 294.81L268.70 292.91Z" fill="#7b2fc4"/>
<line x1="295.40" y1="281.82" x2="295.40" y2="284.48" stroke="#7b2fc4" stroke-width="1.0"/>
<line x1="294.00" y1="281.82" x2="296.80" y2="281.82" stroke="#7b2fc4" stroke-width="1.0"/>
<line x1="294.00" y1="284.48" x2="296.80" y2="284.48" stroke="#7b2fc4" stroke-width="1.0"/>
<path d="M295.40 281.25L297.30 283.15L295.40 285.05L293.50 283.15Z" fill="#7b2fc4"/>
<line x1="320.30" y1="262.75" x2="320.30" y2="265.41" stroke="#7b2fc4" stroke-width="1.0"/>
<line x1="318.90" y1="262.75" x2="321.70" y2="262.75" stroke="#7b2fc4" stroke-width="1.0"/>
<line x1="318.90" y1="265.41" x2="321.70" y2="265.41" stroke="#7b2fc4" stroke-width="1.0"/>
<path d="M320.30 262.18L322.20 264.08L320.30 265.98L318.40 264.08Z" fill="#7b2fc4"/>
<circle cx="220.80" cy="301.33" r="1.6" fill="#5b8fe0"/>
<line x1="245.70" y1="297.34" x2="245.70" y2="299.12" stroke="#5b8fe0" stroke-width="1.0"/>
<line x1="244.30" y1="297.34" x2="247.10" y2="297.34" stroke="#5b8fe0" stroke-width="1.0"/>
<line x1="244.30" y1="299.12" x2="247.10" y2="299.12" stroke="#5b8fe0" stroke-width="1.0"/>
<circle cx="245.70" cy="298.23" r="1.6" fill="#5b8fe0"/>
<line x1="270.60" y1="293.35" x2="270.60" y2="296.01" stroke="#5b8fe0" stroke-width="1.0"/>
<line x1="269.20" y1="293.35" x2="272.00" y2="293.35" stroke="#5b8fe0" stroke-width="1.0"/>
<line x1="269.20" y1="296.01" x2="272.00" y2="296.01" stroke="#5b8fe0" stroke-width="1.0"/>
<circle cx="270.60" cy="294.68" r="1.6" fill="#5b8fe0"/>
<line x1="295.40" y1="282.71" x2="295.40" y2="285.37" stroke="#5b8fe0" stroke-width="1.0"/>
<line x1="294.00" y1="282.71" x2="296.80" y2="282.71" stroke="#5b8fe0" stroke-width="1.0"/>
<line x1="294.00" y1="285.37" x2="296.80" y2="285.37" stroke="#5b8fe0" stroke-width="1.0"/>
<circle cx="295.40" cy="284.04" r="1.6" fill="#5b8fe0"/>
<line x1="320.30" y1="262.75" x2="320.30" y2="267.19" stroke="#5b8fe0" stroke-width="1.0"/>
<line x1="318.90" y1="262.75" x2="321.70" y2="262.75" stroke="#5b8fe0" stroke-width="1.0"/>
<line x1="318.90" y1="267.19" x2="321.70" y2="267.19" stroke="#5b8fe0" stroke-width="1.0"/>
<circle cx="320.30" cy="264.97" r="1.6" fill="#5b8fe0"/>
<line x1="207.80" y1="219.80" x2="221.30" y2="219.80" stroke="#222" stroke-width="0.8" stroke-dasharray="1.4,1.4"/>
<circle cx="215.30" cy="219.80" r="1.36" fill="#111111"/>
<text x="226.2" y="222.10" font-size="6.45">Ctrl</text>
<line x1="207.80" y1="227.50" x2="221.30" y2="227.50" stroke="#f2b4ac" stroke-width="0.8" stroke-dasharray="1.4,1.4"/>
<rect x="214.03" y="226.22" width="2.55" height="2.55" fill="#ec8f86"/>
<text x="226.2" y="229.80" font-size="6.45">AT<tspan font-size="72%" dy="0.9">γ</tspan><tspan dy="-0.9">P</tspan></text>
<line x1="207.80" y1="235.50" x2="221.30" y2="235.50" stroke="#8a45c8" stroke-width="0.8" stroke-dasharray="1.4,1.4"/>
<path d="M215.30 233.88L216.92 235.50L215.30 237.12L213.69 235.50Z" fill="#7b2fc4"/>
<text x="226.2" y="237.80" font-size="6.45">AR-C</text>
<line x1="207.80" y1="243.10" x2="221.30" y2="243.10" stroke="#98b8e6" stroke-width="0.8" stroke-dasharray="1.4,1.4"/>
<circle cx="215.30" cy="243.10" r="1.36" fill="#5b8fe0"/>
<text x="226.2" y="245.40" font-size="6.45">AT<tspan font-size="72%" dy="0.9">γ</tspan><tspan dy="-0.9">P</tspan> + AR-C</text>
<line x1="382.40" y1="219.30" x2="382.40" y2="308.30" stroke="#000" stroke-width="1.15"/>
<line x1="382.40" y1="308.30" x2="515.80" y2="308.30" stroke="#000" stroke-width="1.15"/>
<line x1="378.90" y1="308.30" x2="382.40" y2="308.30" stroke="#000" stroke-width="1"/>
<text x="377.59999999999997" y="310.75" font-size="6.9" text-anchor="end">0</text>
<line x1="378.90" y1="286.18" x2="382.40" y2="286.18" stroke="#000" stroke-width="1"/>
<text x="377.59999999999997" y="288.625" font-size="6.9" text-anchor="end">50</text>
<line x1="378.90" y1="264.05" x2="382.40" y2="264.05" stroke="#000" stroke-width="1"/>
<text x="377.59999999999997" y="266.5" font-size="6.9" text-anchor="end">100</text>
<line x1="378.90" y1="241.93" x2="382.40" y2="241.93" stroke="#000" stroke-width="1"/>
<text x="377.59999999999997" y="244.375" font-size="6.9" text-anchor="end">150</text>
<line x1="378.90" y1="219.80" x2="382.40" y2="219.80" stroke="#000" stroke-width="1"/>
<text x="377.59999999999997" y="222.25" font-size="6.9" text-anchor="end">200</text>
<line x1="398.60" y1="308.30" x2="398.60" y2="311.50" stroke="#000" stroke-width="1"/>
<text x="398.6" y="318.90000000000003" font-size="6.9" text-anchor="middle">0</text>
<line x1="423.60" y1="308.30" x2="423.60" y2="311.50" stroke="#000" stroke-width="1"/>
<text x="423.6" y="318.90000000000003" font-size="6.9" text-anchor="middle">1</text>
<line x1="448.50" y1="308.30" x2="448.50" y2="311.50" stroke="#000" stroke-width="1"/>
<text x="448.5" y="318.90000000000003" font-size="6.9" text-anchor="middle">2</text>
<line x1="473.50" y1="308.30" x2="473.50" y2="311.50" stroke="#000" stroke-width="1"/>
<text x="473.5" y="318.90000000000003" font-size="6.9" text-anchor="middle">3</text>
<line x1="498.50" y1="308.30" x2="498.50" y2="311.50" stroke="#000" stroke-width="1"/>
<text x="498.5" y="318.90000000000003" font-size="6.9" text-anchor="middle">4</text>
<text x="505.4" y="318.90000000000003" font-size="6.8">Days</text>
<text x="363.8" y="265" font-size="6.75" text-anchor="middle" transform="rotate(-90 363.8 265)">Relative cell number (% of ctrl)</text>
<text x="447.3" y="213.2" font-size="6.9" text-anchor="middle">BxPC-3</text>
<text x="497.8" y="243.8" font-size="7.2" text-anchor="middle">***</text>
<path d="M398.6 298.1 L423.6 295.5 L448.5 290.6 L473.5 281.8 L498.5 263.6" fill="none" stroke="#222" stroke-width="0.85" stroke-dasharray="1.4,1.6"/>
<path d="M398.6 298.1 L423.6 292.4 L448.5 283.5 L473.5 271.6 L498.5 248.6" fill="none" stroke="#f2b4ac" stroke-width="0.85" stroke-dasharray="2,1.5"/>
<path d="M398.6 298.1 L423.6 295.5 L448.5 290.2 L473.5 281.8 L498.5 265.4" fill="none" stroke="#8a45c8" stroke-width="0.85" stroke-dasharray="1.4,1.6"/>
<path d="M398.6 298.1 L423.6 294.6 L448.5 291.0 L473.5 282.6 L498.5 266.3" fill="none" stroke="#98b8e6" stroke-width="0.85" stroke-dasharray="2,1.5"/>
<circle cx="398.60" cy="298.12" r="1.6" fill="#111111"/>
<line x1="423.60" y1="294.58" x2="423.60" y2="296.35" stroke="#111111" stroke-width="1.0"/>
<line x1="422.20" y1="294.58" x2="425.00" y2="294.58" stroke="#111111" stroke-width="1.0"/>
<line x1="422.20" y1="296.35" x2="425.00" y2="296.35" stroke="#111111" stroke-width="1.0"/>
<circle cx="423.60" cy="295.47" r="1.6" fill="#111111"/>
<line x1="448.50" y1="289.72" x2="448.50" y2="291.49" stroke="#111111" stroke-width="1.0"/>
<line x1="447.10" y1="289.72" x2="449.90" y2="289.72" stroke="#111111" stroke-width="1.0"/>
<line x1="447.10" y1="291.49" x2="449.90" y2="291.49" stroke="#111111" stroke-width="1.0"/>
<circle cx="448.50" cy="290.60" r="1.6" fill="#111111"/>
<line x1="473.50" y1="280.42" x2="473.50" y2="283.08" stroke="#111111" stroke-width="1.0"/>
<line x1="472.10" y1="280.42" x2="474.90" y2="280.42" stroke="#111111" stroke-width="1.0"/>
<line x1="472.10" y1="283.08" x2="474.90" y2="283.08" stroke="#111111" stroke-width="1.0"/>
<circle cx="473.50" cy="281.75" r="1.6" fill="#111111"/>
<line x1="498.50" y1="262.28" x2="498.50" y2="264.94" stroke="#111111" stroke-width="1.0"/>
<line x1="497.10" y1="262.28" x2="499.90" y2="262.28" stroke="#111111" stroke-width="1.0"/>
<line x1="497.10" y1="264.94" x2="499.90" y2="264.94" stroke="#111111" stroke-width="1.0"/>
<circle cx="498.50" cy="263.61" r="1.6" fill="#111111"/>
<rect x="397.10" y="296.62" width="3.0" height="3.0" fill="#ec8f86"/>
<line x1="423.60" y1="291.49" x2="423.60" y2="293.25" stroke="#ec8f86" stroke-width="1.0"/>
<line x1="422.20" y1="291.49" x2="425.00" y2="291.49" stroke="#ec8f86" stroke-width="1.0"/>
<line x1="422.20" y1="293.25" x2="425.00" y2="293.25" stroke="#ec8f86" stroke-width="1.0"/>
<rect x="422.10" y="290.87" width="3.0" height="3.0" fill="#ec8f86"/>
<line x1="448.50" y1="282.19" x2="448.50" y2="284.85" stroke="#ec8f86" stroke-width="1.0"/>
<line x1="447.10" y1="282.19" x2="449.90" y2="282.19" stroke="#ec8f86" stroke-width="1.0"/>
<line x1="447.10" y1="284.85" x2="449.90" y2="284.85" stroke="#ec8f86" stroke-width="1.0"/>
<rect x="447.00" y="282.02" width="3.0" height="3.0" fill="#ec8f86"/>
<line x1="473.50" y1="270.25" x2="473.50" y2="272.90" stroke="#ec8f86" stroke-width="1.0"/>
<line x1="472.10" y1="270.25" x2="474.90" y2="270.25" stroke="#ec8f86" stroke-width="1.0"/>
<line x1="472.10" y1="272.90" x2="474.90" y2="272.90" stroke="#ec8f86" stroke-width="1.0"/>
<rect x="472.00" y="270.07" width="3.0" height="3.0" fill="#ec8f86"/>
<line x1="498.50" y1="246.35" x2="498.50" y2="250.78" stroke="#ec8f86" stroke-width="1.0"/>
<line x1="497.10" y1="246.35" x2="499.90" y2="246.35" stroke="#ec8f86" stroke-width="1.0"/>
<line x1="497.10" y1="250.78" x2="499.90" y2="250.78" stroke="#ec8f86" stroke-width="1.0"/>
<rect x="497.00" y="247.06" width="3.0" height="3.0" fill="#ec8f86"/>
<path d="M398.60 296.22L400.50 298.12L398.60 300.02L396.70 298.12Z" fill="#7b2fc4"/>
<line x1="423.60" y1="294.58" x2="423.60" y2="296.35" stroke="#7b2fc4" stroke-width="1.0"/>
<line x1="422.20" y1="294.58" x2="425.00" y2="294.58" stroke="#7b2fc4" stroke-width="1.0"/>
<line x1="422.20" y1="296.35" x2="425.00" y2="296.35" stroke="#7b2fc4" stroke-width="1.0"/>
<path d="M423.60 293.57L425.50 295.47L423.60 297.37L421.70 295.47Z" fill="#7b2fc4"/>
<line x1="448.50" y1="289.27" x2="448.50" y2="291.04" stroke="#7b2fc4" stroke-width="1.0"/>
<line x1="447.10" y1="289.27" x2="449.90" y2="289.27" stroke="#7b2fc4" stroke-width="1.0"/>
<line x1="447.10" y1="291.04" x2="449.90" y2="291.04" stroke="#7b2fc4" stroke-width="1.0"/>
<path d="M448.50 288.26L450.40 290.16L448.50 292.06L446.60 290.16Z" fill="#7b2fc4"/>
<line x1="473.50" y1="280.42" x2="473.50" y2="283.08" stroke="#7b2fc4" stroke-width="1.0"/>
<line x1="472.10" y1="280.42" x2="474.90" y2="280.42" stroke="#7b2fc4" stroke-width="1.0"/>
<line x1="472.10" y1="283.08" x2="474.90" y2="283.08" stroke="#7b2fc4" stroke-width="1.0"/>
<path d="M473.50 279.85L475.40 281.75L473.50 283.65L471.60 281.75Z" fill="#7b2fc4"/>
<line x1="498.50" y1="264.05" x2="498.50" y2="266.70" stroke="#7b2fc4" stroke-width="1.0"/>
<line x1="497.10" y1="264.05" x2="499.90" y2="264.05" stroke="#7b2fc4" stroke-width="1.0"/>
<line x1="497.10" y1="266.70" x2="499.90" y2="266.70" stroke="#7b2fc4" stroke-width="1.0"/>
<path d="M498.50 263.48L500.40 265.38L498.50 267.28L496.60 265.38Z" fill="#7b2fc4"/>
<circle cx="398.60" cy="298.12" r="1.6" fill="#5b8fe0"/>
<line x1="423.60" y1="293.70" x2="423.60" y2="295.47" stroke="#5b8fe0" stroke-width="1.0"/>
<line x1="422.20" y1="293.70" x2="425.00" y2="293.70" stroke="#5b8fe0" stroke-width="1.0"/>
<line x1="422.20" y1="295.47" x2="425.00" y2="295.47" stroke="#5b8fe0" stroke-width="1.0"/>
<circle cx="423.60" cy="294.58" r="1.6" fill="#5b8fe0"/>
<line x1="448.50" y1="290.16" x2="448.50" y2="291.93" stroke="#5b8fe0" stroke-width="1.0"/>
<line x1="447.10" y1="290.16" x2="449.90" y2="290.16" stroke="#5b8fe0" stroke-width="1.0"/>
<line x1="447.10" y1="291.93" x2="449.90" y2="291.93" stroke="#5b8fe0" stroke-width="1.0"/>
<circle cx="448.50" cy="291.04" r="1.6" fill="#5b8fe0"/>
<line x1="473.50" y1="281.31" x2="473.50" y2="283.96" stroke="#5b8fe0" stroke-width="1.0"/>
<line x1="472.10" y1="281.31" x2="474.90" y2="281.31" stroke="#5b8fe0" stroke-width="1.0"/>
<line x1="472.10" y1="283.96" x2="474.90" y2="283.96" stroke="#5b8fe0" stroke-width="1.0"/>
<circle cx="473.50" cy="282.63" r="1.6" fill="#5b8fe0"/>
<line x1="498.50" y1="264.94" x2="498.50" y2="267.59" stroke="#5b8fe0" stroke-width="1.0"/>
<line x1="497.10" y1="264.94" x2="499.90" y2="264.94" stroke="#5b8fe0" stroke-width="1.0"/>
<line x1="497.10" y1="267.59" x2="499.90" y2="267.59" stroke="#5b8fe0" stroke-width="1.0"/>
<circle cx="498.50" cy="266.26" r="1.6" fill="#5b8fe0"/>
<line x1="386.30" y1="219.80" x2="399.80" y2="219.80" stroke="#222" stroke-width="0.8" stroke-dasharray="1.4,1.4"/>
<circle cx="393.80" cy="219.80" r="1.36" fill="#111111"/>
<text x="404.3" y="222.10" font-size="6.45">Ctrl</text>
<line x1="386.30" y1="227.50" x2="399.80" y2="227.50" stroke="#f2b4ac" stroke-width="0.8" stroke-dasharray="1.4,1.4"/>
<rect x="392.53" y="226.22" width="2.55" height="2.55" fill="#ec8f86"/>
<text x="404.3" y="229.80" font-size="6.45">AT<tspan font-size="72%" dy="0.9">γ</tspan><tspan dy="-0.9">P</tspan></text>
<line x1="386.30" y1="235.50" x2="399.80" y2="235.50" stroke="#8a45c8" stroke-width="0.8" stroke-dasharray="1.4,1.4"/>
<path d="M393.80 233.88L395.42 235.50L393.80 237.12L392.19 235.50Z" fill="#7b2fc4"/>
<text x="404.3" y="237.80" font-size="6.45">AR-C</text>
<line x1="386.30" y1="243.10" x2="399.80" y2="243.10" stroke="#98b8e6" stroke-width="0.8" stroke-dasharray="1.4,1.4"/>
<circle cx="393.80" cy="243.10" r="1.36" fill="#5b8fe0"/>
<text x="404.3" y="245.40" font-size="6.45">AT<tspan font-size="72%" dy="0.9">γ</tspan><tspan dy="-0.9">P</tspan> + AR-C</text>
<text x="163.4" y="340.4" font-size="13.4" font-weight="bold">F</text>
<line x1="205.20" y1="343.60" x2="205.20" y2="433.10" stroke="#000" stroke-width="1.15"/>
<line x1="205.20" y1="433.10" x2="339.50" y2="433.10" stroke="#000" stroke-width="1.15"/>
<line x1="201.70" y1="433.10" x2="205.20" y2="433.10" stroke="#000" stroke-width="1"/>
<text x="200.39999999999998" y="435.55" font-size="6.9" text-anchor="end">0</text>
<line x1="201.70" y1="410.85" x2="205.20" y2="410.85" stroke="#000" stroke-width="1"/>
<text x="200.39999999999998" y="413.3" font-size="6.9" text-anchor="end">50</text>
<line x1="201.70" y1="388.60" x2="205.20" y2="388.60" stroke="#000" stroke-width="1"/>
<text x="200.39999999999998" y="391.05" font-size="6.9" text-anchor="end">100</text>
<line x1="201.70" y1="366.35" x2="205.20" y2="366.35" stroke="#000" stroke-width="1"/>
<text x="200.39999999999998" y="368.8" font-size="6.9" text-anchor="end">150</text>
<line x1="201.70" y1="344.10" x2="205.20" y2="344.10" stroke="#000" stroke-width="1"/>
<text x="200.39999999999998" y="346.55" font-size="6.9" text-anchor="end">200</text>
<line x1="221.90" y1="433.10" x2="221.90" y2="436.30" stroke="#000" stroke-width="1"/>
<text x="221.9" y="443.70000000000005" font-size="6.9" text-anchor="middle">0</text>
<line x1="247.00" y1="433.10" x2="247.00" y2="436.30" stroke="#000" stroke-width="1"/>
<text x="247" y="443.70000000000005" font-size="6.9" text-anchor="middle">1</text>
<line x1="272.00" y1="433.10" x2="272.00" y2="436.30" stroke="#000" stroke-width="1"/>
<text x="272" y="443.70000000000005" font-size="6.9" text-anchor="middle">2</text>
<line x1="297.10" y1="433.10" x2="297.10" y2="436.30" stroke="#000" stroke-width="1"/>
<text x="297.1" y="443.70000000000005" font-size="6.9" text-anchor="middle">3</text>
<line x1="322.20" y1="433.10" x2="322.20" y2="436.30" stroke="#000" stroke-width="1"/>
<text x="322.2" y="443.70000000000005" font-size="6.9" text-anchor="middle">4</text>
<text x="329.09999999999997" y="443.70000000000005" font-size="6.8">Days</text>
<text x="183.8" y="387.3" font-size="6.75" text-anchor="middle" transform="rotate(-90 183.8 387.3)">Relative cell number (% of ctrl)</text>
<text x="270.3" y="337.3" font-size="6.9" text-anchor="middle">AsPC-1</text>
<text x="322.4" y="366.29999999999995" font-size="7.2" text-anchor="middle">***</text>
<path d="M221.9 426.4 L247.0 425.1 L272.0 418.9 L297.1 410.0 L322.2 389.5" fill="none" stroke="#222" stroke-width="0.85" stroke-dasharray="1.4,1.6"/>
<path d="M221.9 426.4 L247.0 422.0 L272.0 411.7 L297.1 396.6 L322.2 375.2" fill="none" stroke="#f2b4ac" stroke-width="0.85" stroke-dasharray="2,1.5"/>
<path d="M221.9 426.4 L247.0 425.1 L272.0 419.3 L297.1 410.4 L322.2 389.9" fill="none" stroke="#8a45c8" stroke-width="0.85" stroke-dasharray="1.4,1.6"/>
<path d="M221.9 426.4 L247.0 422.4 L272.0 412.2 L297.1 400.6 L322.2 372.1" fill="none" stroke="#98b8e6" stroke-width="0.85" stroke-dasharray="2,1.5"/>
<circle cx="221.90" cy="426.43" r="1.6" fill="#111111"/>
<circle cx="247.00" cy="425.09" r="1.6" fill="#111111"/>
<line x1="272.00" y1="417.97" x2="272.00" y2="419.75" stroke="#111111" stroke-width="1.0"/>
<line x1="270.60" y1="417.97" x2="273.40" y2="417.97" stroke="#111111" stroke-width="1.0"/>
<line x1="270.60" y1="419.75" x2="273.40" y2="419.75" stroke="#111111" stroke-width="1.0"/>
<circle cx="272.00" cy="418.86" r="1.6" fill="#111111"/>
<line x1="297.10" y1="408.63" x2="297.10" y2="411.30" stroke="#111111" stroke-width="1.0"/>
<line x1="295.70" y1="408.63" x2="298.50" y2="408.63" stroke="#111111" stroke-width="1.0"/>
<line x1="295.70" y1="411.30" x2="298.50" y2="411.30" stroke="#111111" stroke-width="1.0"/>
<circle cx="297.10" cy="409.96" r="1.6" fill="#111111"/>
<line x1="322.20" y1="387.71" x2="322.20" y2="391.27" stroke="#111111" stroke-width="1.0"/>
<line x1="320.80" y1="387.71" x2="323.60" y2="387.71" stroke="#111111" stroke-width="1.0"/>
<line x1="320.80" y1="391.27" x2="323.60" y2="391.27" stroke="#111111" stroke-width="1.0"/>
<circle cx="322.20" cy="389.49" r="1.6" fill="#111111"/>
<rect x="220.40" y="424.93" width="3.0" height="3.0" fill="#ec8f86"/>
<line x1="247.00" y1="421.09" x2="247.00" y2="422.87" stroke="#ec8f86" stroke-width="1.0"/>
<line x1="245.60" y1="421.09" x2="248.40" y2="421.09" stroke="#ec8f86" stroke-width="1.0"/>
<line x1="245.60" y1="422.87" x2="248.40" y2="422.87" stroke="#ec8f86" stroke-width="1.0"/>
<rect x="245.50" y="420.48" width="3.0" height="3.0" fill="#ec8f86"/>
<line x1="272.00" y1="410.41" x2="272.00" y2="413.07" stroke="#ec8f86" stroke-width="1.0"/>
<line x1="270.60" y1="410.41" x2="273.40" y2="410.41" stroke="#ec8f86" stroke-width="1.0"/>
<line x1="270.60" y1="413.07" x2="273.40" y2="413.07" stroke="#ec8f86" stroke-width="1.0"/>
<rect x="270.50" y="410.24" width="3.0" height="3.0" fill="#ec8f86"/>
<line x1="297.10" y1="395.28" x2="297.10" y2="397.94" stroke="#ec8f86" stroke-width="1.0"/>
<line x1="295.70" y1="395.28" x2="298.50" y2="395.28" stroke="#ec8f86" stroke-width="1.0"/>
<line x1="295.70" y1="397.94" x2="298.50" y2="397.94" stroke="#ec8f86" stroke-width="1.0"/>
<rect x="295.60" y="395.11" width="3.0" height="3.0" fill="#ec8f86"/>
<line x1="322.20" y1="372.58" x2="322.20" y2="377.92" stroke="#ec8f86" stroke-width="1.0"/>
<line x1="320.80" y1="372.58" x2="323.60" y2="372.58" stroke="#ec8f86" stroke-width="1.0"/>
<line x1="320.80" y1="377.92" x2="323.60" y2="377.92" stroke="#ec8f86" stroke-width="1.0"/>
<rect x="320.70" y="373.75" width="3.0" height="3.0" fill="#ec8f86"/>
<path d="M221.90 424.53L223.80 426.43L221.90 428.32L220.00 426.43Z" fill="#7b2fc4"/>
<path d="M247.00 423.19L248.90 425.09L247.00 426.99L245.10 425.09Z" fill="#7b2fc4"/>
<line x1="272.00" y1="418.42" x2="272.00" y2="420.19" stroke="#7b2fc4" stroke-width="1.0"/>
<line x1="270.60" y1="418.42" x2="273.40" y2="418.42" stroke="#7b2fc4" stroke-width="1.0"/>
<line x1="270.60" y1="420.19" x2="273.40" y2="420.19" stroke="#7b2fc4" stroke-width="1.0"/>
<path d="M272.00 417.41L273.90 419.31L272.00 421.20L270.10 419.31Z" fill="#7b2fc4"/>
<line x1="297.10" y1="409.07" x2="297.10" y2="411.74" stroke="#7b2fc4" stroke-width="1.0"/>
<line x1="295.70" y1="409.07" x2="298.50" y2="409.07" stroke="#7b2fc4" stroke-width="1.0"/>
<line x1="295.70" y1="411.74" x2="298.50" y2="411.74" stroke="#7b2fc4" stroke-width="1.0"/>
<path d="M297.10 408.51L299.00 410.41L297.10 412.31L295.20 410.41Z" fill="#7b2fc4"/>
<line x1="322.20" y1="387.71" x2="322.20" y2="392.16" stroke="#7b2fc4" stroke-width="1.0"/>
<line x1="320.80" y1="387.71" x2="323.60" y2="387.71" stroke="#7b2fc4" stroke-width="1.0"/>
<line x1="320.80" y1="392.16" x2="323.60" y2="392.16" stroke="#7b2fc4" stroke-width="1.0"/>
<path d="M322.20 388.04L324.10 389.94L322.20 391.83L320.30 389.94Z" fill="#7b2fc4"/>
<circle cx="221.90" cy="426.43" r="1.6" fill="#5b8fe0"/>
<line x1="247.00" y1="421.53" x2="247.00" y2="423.31" stroke="#5b8fe0" stroke-width="1.0"/>
<line x1="245.60" y1="421.53" x2="248.40" y2="421.53" stroke="#5b8fe0" stroke-width="1.0"/>
<line x1="245.60" y1="423.31" x2="248.40" y2="423.31" stroke="#5b8fe0" stroke-width="1.0"/>
<circle cx="247.00" cy="422.42" r="1.6" fill="#5b8fe0"/>
<line x1="272.00" y1="411.30" x2="272.00" y2="413.07" stroke="#5b8fe0" stroke-width="1.0"/>
<line x1="270.60" y1="411.30" x2="273.40" y2="411.30" stroke="#5b8fe0" stroke-width="1.0"/>
<line x1="270.60" y1="413.07" x2="273.40" y2="413.07" stroke="#5b8fe0" stroke-width="1.0"/>
<circle cx="272.00" cy="412.19" r="1.6" fill="#5b8fe0"/>
<line x1="297.10" y1="399.28" x2="297.10" y2="401.95" stroke="#5b8fe0" stroke-width="1.0"/>
<line x1="295.70" y1="399.28" x2="298.50" y2="399.28" stroke="#5b8fe0" stroke-width="1.0"/>
<line x1="295.70" y1="401.95" x2="298.50" y2="401.95" stroke="#5b8fe0" stroke-width="1.0"/>
<circle cx="297.10" cy="400.62" r="1.6" fill="#5b8fe0"/>
<line x1="322.20" y1="368.13" x2="322.20" y2="376.14" stroke="#5b8fe0" stroke-width="1.0"/>
<line x1="320.80" y1="368.13" x2="323.60" y2="368.13" stroke="#5b8fe0" stroke-width="1.0"/>
<line x1="320.80" y1="376.14" x2="323.60" y2="376.14" stroke="#5b8fe0" stroke-width="1.0"/>
<circle cx="322.20" cy="372.13" r="1.6" fill="#5b8fe0"/>
<line x1="210.60" y1="345.20" x2="224.10" y2="345.20" stroke="#222" stroke-width="0.8" stroke-dasharray="1.4,1.4"/>
<circle cx="218.10" cy="345.20" r="1.36" fill="#111111"/>
<text x="227.4" y="347.50" font-size="6.25">shNC</text>
<line x1="210.60" y1="352.20" x2="224.10" y2="352.20" stroke="#f2b4ac" stroke-width="0.8" stroke-dasharray="1.4,1.4"/>
<rect x="216.82" y="350.93" width="2.55" height="2.55" fill="#ec8f86"/>
<text x="227.4" y="354.50" font-size="6.25">shNC+AT<tspan font-size="72%" dy="0.9">γ</tspan><tspan dy="-0.9">P</tspan></text>
<line x1="210.60" y1="358.80" x2="224.10" y2="358.80" stroke="#8a45c8" stroke-width="0.8" stroke-dasharray="1.4,1.4"/>
<path d="M218.10 357.19L219.72 358.80L218.10 360.42L216.48 358.80Z" fill="#7b2fc4"/>
<text x="227.4" y="361.10" font-size="6.25">shP2RY2+AT<tspan font-size="72%" dy="0.9">γ</tspan><tspan dy="-0.9">P</tspan></text>
<line x1="210.60" y1="366.00" x2="224.10" y2="366.00" stroke="#98b8e6" stroke-width="0.8" stroke-dasharray="1.4,1.4"/>
<circle cx="218.10" cy="366.00" r="1.36" fill="#5b8fe0"/>
<text x="227.4" y="368.30" font-size="6.25">shP2RY2 + mut P2RY2+AT<tspan font-size="72%" dy="0.9">γ</tspan><tspan dy="-0.9">P</tspan></text>
<line x1="383.70" y1="343.40" x2="383.70" y2="432.90" stroke="#000" stroke-width="1.15"/>
<line x1="383.70" y1="432.90" x2="517.70" y2="432.90" stroke="#000" stroke-width="1.15"/>
<line x1="380.20" y1="432.90" x2="383.70" y2="432.90" stroke="#000" stroke-width="1"/>
<text x="378.9" y="435.34999999999997" font-size="6.9" text-anchor="end">0</text>
<line x1="380.20" y1="410.65" x2="383.70" y2="410.65" stroke="#000" stroke-width="1"/>
<text x="378.9" y="413.09999999999997" font-size="6.9" text-anchor="end">50</text>
<line x1="380.20" y1="388.40" x2="383.70" y2="388.40" stroke="#000" stroke-width="1"/>
<text x="378.9" y="390.84999999999997" font-size="6.9" text-anchor="end">100</text>
<line x1="380.20" y1="366.15" x2="383.70" y2="366.15" stroke="#000" stroke-width="1"/>
<text x="378.9" y="368.59999999999997" font-size="6.9" text-anchor="end">150</text>
<line x1="380.20" y1="343.90" x2="383.70" y2="343.90" stroke="#000" stroke-width="1"/>
<text x="378.9" y="346.34999999999997" font-size="6.9" text-anchor="end">200</text>
<line x1="400.50" y1="432.90" x2="400.50" y2="436.10" stroke="#000" stroke-width="1"/>
<text x="400.5" y="443.5" font-size="6.9" text-anchor="middle">0</text>
<line x1="425.50" y1="432.90" x2="425.50" y2="436.10" stroke="#000" stroke-width="1"/>
<text x="425.5" y="443.5" font-size="6.9" text-anchor="middle">1</text>
<line x1="450.50" y1="432.90" x2="450.50" y2="436.10" stroke="#000" stroke-width="1"/>
<text x="450.5" y="443.5" font-size="6.9" text-anchor="middle">2</text>
<line x1="475.40" y1="432.90" x2="475.40" y2="436.10" stroke="#000" stroke-width="1"/>
<text x="475.4" y="443.5" font-size="6.9" text-anchor="middle">3</text>
<line x1="500.40" y1="432.90" x2="500.40" y2="436.10" stroke="#000" stroke-width="1"/>
<text x="500.4" y="443.5" font-size="6.9" text-anchor="middle">4</text>
<text x="505.0" y="443.5" font-size="6.8">Days</text>
<text x="364.2" y="386.8" font-size="6.75" text-anchor="middle" transform="rotate(-90 364.2 386.8)">Relative cell number (% of ctrl)</text>
<text x="445.6" y="337.3" font-size="6.9" text-anchor="middle">BxPC-3</text>
<text x="500" y="366.29999999999995" font-size="7.2" text-anchor="middle">***</text>
<path d="M400.5 420.9 L425.5 419.5 L450.5 414.2 L475.4 405.3 L500.4 389.7" fill="none" stroke="#222" stroke-width="0.85" stroke-dasharray="1.4,1.6"/>
<path d="M400.5 420.9 L425.5 414.2 L450.5 407.5 L475.4 395.1 L500.4 371.5" fill="none" stroke="#f2b4ac" stroke-width="0.85" stroke-dasharray="2,1.5"/>
<path d="M400.5 420.9 L425.5 420.0 L450.5 414.2 L475.4 405.3 L500.4 396.4" fill="none" stroke="#8a45c8" stroke-width="0.85" stroke-dasharray="1.4,1.6"/>
<path d="M400.5 420.9 L425.5 414.2 L450.5 408.0 L475.4 397.3 L500.4 377.3" fill="none" stroke="#98b8e6" stroke-width="0.85" stroke-dasharray="2,1.5"/>
<line x1="400.50" y1="420.00" x2="400.50" y2="421.77" stroke="#111111" stroke-width="1.0"/>
<line x1="399.10" y1="420.00" x2="401.90" y2="420.00" stroke="#111111" stroke-width="1.0"/>
<line x1="399.10" y1="421.77" x2="401.90" y2="421.77" stroke="#111111" stroke-width="1.0"/>
<circle cx="400.50" cy="420.88" r="1.6" fill="#111111"/>
<line x1="425.50" y1="418.66" x2="425.50" y2="420.44" stroke="#111111" stroke-width="1.0"/>
<line x1="424.10" y1="418.66" x2="426.90" y2="418.66" stroke="#111111" stroke-width="1.0"/>
<line x1="424.10" y1="420.44" x2="426.90" y2="420.44" stroke="#111111" stroke-width="1.0"/>
<circle cx="425.50" cy="419.55" r="1.6" fill="#111111"/>
<line x1="450.50" y1="413.32" x2="450.50" y2="415.10" stroke="#111111" stroke-width="1.0"/>
<line x1="449.10" y1="413.32" x2="451.90" y2="413.32" stroke="#111111" stroke-width="1.0"/>
<line x1="449.10" y1="415.10" x2="451.90" y2="415.10" stroke="#111111" stroke-width="1.0"/>
<circle cx="450.50" cy="414.21" r="1.6" fill="#111111"/>
<line x1="475.40" y1="404.42" x2="475.40" y2="406.20" stroke="#111111" stroke-width="1.0"/>
<line x1="474.00" y1="404.42" x2="476.80" y2="404.42" stroke="#111111" stroke-width="1.0"/>
<line x1="474.00" y1="406.20" x2="476.80" y2="406.20" stroke="#111111" stroke-width="1.0"/>
<circle cx="475.40" cy="405.31" r="1.6" fill="#111111"/>
<line x1="500.40" y1="387.06" x2="500.40" y2="392.40" stroke="#111111" stroke-width="1.0"/>
<line x1="499.00" y1="387.06" x2="501.80" y2="387.06" stroke="#111111" stroke-width="1.0"/>
<line x1="499.00" y1="392.40" x2="501.80" y2="392.40" stroke="#111111" stroke-width="1.0"/>
<circle cx="500.40" cy="389.73" r="1.6" fill="#111111"/>
<line x1="400.50" y1="420.00" x2="400.50" y2="421.77" stroke="#ec8f86" stroke-width="1.0"/>
<line x1="399.10" y1="420.00" x2="401.90" y2="420.00" stroke="#ec8f86" stroke-width="1.0"/>
<line x1="399.10" y1="421.77" x2="401.90" y2="421.77" stroke="#ec8f86" stroke-width="1.0"/>
<rect x="399.00" y="419.38" width="3.0" height="3.0" fill="#ec8f86"/>
<line x1="425.50" y1="413.32" x2="425.50" y2="415.10" stroke="#ec8f86" stroke-width="1.0"/>
<line x1="424.10" y1="413.32" x2="426.90" y2="413.32" stroke="#ec8f86" stroke-width="1.0"/>
<line x1="424.10" y1="415.10" x2="426.90" y2="415.10" stroke="#ec8f86" stroke-width="1.0"/>
<rect x="424.00" y="412.71" width="3.0" height="3.0" fill="#ec8f86"/>
<line x1="450.50" y1="406.64" x2="450.50" y2="408.42" stroke="#ec8f86" stroke-width="1.0"/>
<line x1="449.10" y1="406.64" x2="451.90" y2="406.64" stroke="#ec8f86" stroke-width="1.0"/>
<line x1="449.10" y1="408.42" x2="451.90" y2="408.42" stroke="#ec8f86" stroke-width="1.0"/>
<rect x="449.00" y="406.03" width="3.0" height="3.0" fill="#ec8f86"/>
<line x1="475.40" y1="393.74" x2="475.40" y2="396.41" stroke="#ec8f86" stroke-width="1.0"/>
<line x1="474.00" y1="393.74" x2="476.80" y2="393.74" stroke="#ec8f86" stroke-width="1.0"/>
<line x1="474.00" y1="396.41" x2="476.80" y2="396.41" stroke="#ec8f86" stroke-width="1.0"/>
<rect x="473.90" y="393.57" width="3.0" height="3.0" fill="#ec8f86"/>
<line x1="500.40" y1="370.15" x2="500.40" y2="372.82" stroke="#ec8f86" stroke-width="1.0"/>
<line x1="499.00" y1="370.15" x2="501.80" y2="370.15" stroke="#ec8f86" stroke-width="1.0"/>
<line x1="499.00" y1="372.82" x2="501.80" y2="372.82" stroke="#ec8f86" stroke-width="1.0"/>
<rect x="498.90" y="369.99" width="3.0" height="3.0" fill="#ec8f86"/>
<line x1="400.50" y1="420.00" x2="400.50" y2="421.77" stroke="#7b2fc4" stroke-width="1.0"/>
<line x1="399.10" y1="420.00" x2="401.90" y2="420.00" stroke="#7b2fc4" stroke-width="1.0"/>
<line x1="399.10" y1="421.77" x2="401.90" y2="421.77" stroke="#7b2fc4" stroke-width="1.0"/>
<path d="M400.50 418.99L402.40 420.88L400.50 422.78L398.60 420.88Z" fill="#7b2fc4"/>
<line x1="425.50" y1="419.11" x2="425.50" y2="420.88" stroke="#7b2fc4" stroke-width="1.0"/>
<line x1="424.10" y1="419.11" x2="426.90" y2="419.11" stroke="#7b2fc4" stroke-width="1.0"/>
<line x1="424.10" y1="420.88" x2="426.90" y2="420.88" stroke="#7b2fc4" stroke-width="1.0"/>
<path d="M425.50 418.10L427.40 420.00L425.50 421.89L423.60 420.00Z" fill="#7b2fc4"/>
<line x1="450.50" y1="413.32" x2="450.50" y2="415.10" stroke="#7b2fc4" stroke-width="1.0"/>
<line x1="449.10" y1="413.32" x2="451.90" y2="413.32" stroke="#7b2fc4" stroke-width="1.0"/>
<line x1="449.10" y1="415.10" x2="451.90" y2="415.10" stroke="#7b2fc4" stroke-width="1.0"/>
<path d="M450.50 412.31L452.40 414.21L450.50 416.11L448.60 414.21Z" fill="#7b2fc4"/>
<line x1="475.40" y1="404.42" x2="475.40" y2="406.20" stroke="#7b2fc4" stroke-width="1.0"/>
<line x1="474.00" y1="404.42" x2="476.80" y2="404.42" stroke="#7b2fc4" stroke-width="1.0"/>
<line x1="474.00" y1="406.20" x2="476.80" y2="406.20" stroke="#7b2fc4" stroke-width="1.0"/>
<path d="M475.40 403.41L477.30 405.31L475.40 407.21L473.50 405.31Z" fill="#7b2fc4"/>
<line x1="500.40" y1="394.63" x2="500.40" y2="398.19" stroke="#7b2fc4" stroke-width="1.0"/>
<line x1="499.00" y1="394.63" x2="501.80" y2="394.63" stroke="#7b2fc4" stroke-width="1.0"/>
<line x1="499.00" y1="398.19" x2="501.80" y2="398.19" stroke="#7b2fc4" stroke-width="1.0"/>
<path d="M500.40 394.51L502.30 396.41L500.40 398.31L498.50 396.41Z" fill="#7b2fc4"/>
<line x1="400.50" y1="420.00" x2="400.50" y2="421.77" stroke="#5b8fe0" stroke-width="1.0"/>
<line x1="399.10" y1="420.00" x2="401.90" y2="420.00" stroke="#5b8fe0" stroke-width="1.0"/>
<line x1="399.10" y1="421.77" x2="401.90" y2="421.77" stroke="#5b8fe0" stroke-width="1.0"/>
<circle cx="400.50" cy="420.88" r="1.6" fill="#5b8fe0"/>
<line x1="425.50" y1="412.88" x2="425.50" y2="415.54" stroke="#5b8fe0" stroke-width="1.0"/>
<line x1="424.10" y1="412.88" x2="426.90" y2="412.88" stroke="#5b8fe0" stroke-width="1.0"/>
<line x1="424.10" y1="415.54" x2="426.90" y2="415.54" stroke="#5b8fe0" stroke-width="1.0"/>
<circle cx="425.50" cy="414.21" r="1.6" fill="#5b8fe0"/>
<line x1="450.50" y1="406.64" x2="450.50" y2="409.31" stroke="#5b8fe0" stroke-width="1.0"/>
<line x1="449.10" y1="406.64" x2="451.90" y2="406.64" stroke="#5b8fe0" stroke-width="1.0"/>
<line x1="449.10" y1="409.31" x2="451.90" y2="409.31" stroke="#5b8fe0" stroke-width="1.0"/>
<circle cx="450.50" cy="407.98" r="1.6" fill="#5b8fe0"/>
<line x1="475.40" y1="395.96" x2="475.40" y2="398.63" stroke="#5b8fe0" stroke-width="1.0"/>
<line x1="474.00" y1="395.96" x2="476.80" y2="395.96" stroke="#5b8fe0" stroke-width="1.0"/>
<line x1="474.00" y1="398.63" x2="476.80" y2="398.63" stroke="#5b8fe0" stroke-width="1.0"/>
<circle cx="475.40" cy="397.30" r="1.6" fill="#5b8fe0"/>
<line x1="500.40" y1="375.50" x2="500.40" y2="379.05" stroke="#5b8fe0" stroke-width="1.0"/>
<line x1="499.00" y1="375.50" x2="501.80" y2="375.50" stroke="#5b8fe0" stroke-width="1.0"/>
<line x1="499.00" y1="379.05" x2="501.80" y2="379.05" stroke="#5b8fe0" stroke-width="1.0"/>
<circle cx="500.40" cy="377.27" r="1.6" fill="#5b8fe0"/>
<line x1="386.60" y1="345.00" x2="400.10" y2="345.00" stroke="#222" stroke-width="0.8" stroke-dasharray="1.4,1.4"/>
<circle cx="394.10" cy="345.00" r="1.36" fill="#111111"/>
<text x="404.3" y="347.30" font-size="6.25">shNC</text>
<line x1="386.60" y1="352.20" x2="400.10" y2="352.20" stroke="#f2b4ac" stroke-width="0.8" stroke-dasharray="1.4,1.4"/>
<rect x="392.83" y="350.93" width="2.55" height="2.55" fill="#ec8f86"/>
<text x="404.3" y="354.50" font-size="6.25">shNC+AT<tspan font-size="72%" dy="0.9">γ</tspan><tspan dy="-0.9">P</tspan></text>
<line x1="386.60" y1="358.80" x2="400.10" y2="358.80" stroke="#8a45c8" stroke-width="0.8" stroke-dasharray="1.4,1.4"/>
<path d="M394.10 357.19L395.72 358.80L394.10 360.42L392.49 358.80Z" fill="#7b2fc4"/>
<text x="404.3" y="361.10" font-size="6.25">shP2RY2+AT<tspan font-size="72%" dy="0.9">γ</tspan><tspan dy="-0.9">P</tspan></text>
<line x1="386.60" y1="366.00" x2="400.10" y2="366.00" stroke="#98b8e6" stroke-width="0.8" stroke-dasharray="1.4,1.4"/>
<circle cx="394.10" cy="366.00" r="1.36" fill="#5b8fe0"/>
<text x="404.3" y="368.30" font-size="6.25">shP2RY2 + mut P2RY2+AT<tspan font-size="72%" dy="0.9">γ</tspan><tspan dy="-0.9">P</tspan></text>
<text x="-0.5" y="468.9" font-size="13.4" font-weight="bold">G</text>
<text x="57.2" y="466.8" font-size="5.6" text-anchor="middle" fill="#222">Ctrl</text>
<text x="116.7" y="467" font-size="6.1" text-anchor="middle" fill="#222">shNC+AT<tspan font-size="72%" dy="0.9">γ</tspan><tspan dy="-0.9">P</tspan></text>
<text x="180" y="467" font-size="6.2" text-anchor="middle" fill="#222">shP2RY2+AT<tspan font-size="72%" dy="0.9">γ</tspan><tspan dy="-0.9">P</tspan></text>
<text x="243.9" y="467" font-size="6.2" text-anchor="middle" fill="#222">shP2RY2+mutP2RY2+AT<tspan font-size="72%" dy="0.9">γ</tspan><tspan dy="-0.9">P</tspan></text>
<text x="15.6" y="503.5" font-size="6.9" text-anchor="middle" transform="rotate(-90 15.6 503.5)">AsPC-1</text>
<text x="15.6" y="577" font-size="6.9" text-anchor="middle" transform="rotate(-90 15.6 577)">BxPC-3</text>
<circle cx="56.2" cy="505.7" r="29.0" fill="#c4c4e6"/>
<circle cx="56.2" cy="505.7" r="27.4" fill="#dadaf2"/>
<path d="M51.6 514.9l-0.0 0.0M40.6 502.1l0.1 0.0M73.1 509.8l0.0 0.0M34.8 516.7l0.1 0.0M38.3 487.3l-0.0 0.1M61.8 504.9l-0.1 0.0M61.8 512.8l0.1 0.2M64.7 524.0l-0.0 0.1M49.9 503.7l0.1 0.0M48.9 490.1l0.1 0.1M42.4 509.9l-0.2 0.1M56.9 525.7l-0.0 0.3M54.4 491.7l-0.0 0.0M36.2 517.0l0.1 0.1M77.1 511.0l-0.1 0.1M66.7 495.3l-0.1 0.1M40.6 497.1l-0.2 0.1M35.0 509.2l0.2 0.0M40.4 484.7l-0.1 0.0M39.9 519.9l0.1 0.0M60.6 513.6l0.2 0.0M65.2 515.2l0.1 0.2M71.7 514.3l-0.0 0.3M66.5 483.4l0.1 0.1M40.5 524.9l-0.0 0.0M61.9 517.1l0.1 0.1M44.7 498.5l0.1 0.0M42.7 520.2l-0.2 0.0M35.6 503.7l-0.0 0.0M75.0 491.9l-0.2 0.1M43.2 516.1l0.2 0.1M62.5 508.3l0.0 0.0M53.0 510.8l0.0 0.0M69.0 515.2l0.3 0.0M48.5 499.0l0.1 0.1M50.1 512.7l-0.3 0.1M38.3 509.6l0.0 0.0M48.7 517.0l-0.0 0.0M81.7 509.4l-0.0 0.0M52.0 504.5l-0.0 0.3M70.6 489.0l0.1 0.1M67.8 525.8l-0.0 0.2M50.2 516.6l-0.2 0.2M70.4 486.8l-0.2 0.1M59.0 524.5l0.0 0.0M69.9 508.1l0.1 0.2M73.2 500.9l-0.3 0.1M71.5 501.3l0.1 0.0M60.1 517.0l-0.1 0.2M66.0 490.3l-0.1 0.2M74.7 516.6l-0.2 0.1M56.2 487.4l0.2 0.1M44.5 526.2l-0.1 0.0M35.3 520.6l-0.0 0.0M63.4 513.0l-0.2 0.1M70.8 524.8l-0.2 0.0M44.7 521.5l0.0 0.0M77.1 501.8l-0.0 0.3M33.7 515.7l-0.1 0.0M56.0 520.0l0.1 0.1M55.2 522.8l0.3 0.1M45.4 519.9l-0.1 0.3M34.0 517.8l-0.0 0.2M52.6 505.2l0.0 0.1M79.8 506.3l0.1 0.1M53.1 486.2l0.1 0.1M34.2 497.7l0.2 0.1M56.3 519.6l-0.1 0.1M34.9 497.0l-0.1 0.0M41.9 493.5l-0.0 0.2M37.8 511.4l0.0 0.3M48.4 482.2l-0.1 0.0M32.3 496.3l-0.0 0.0M68.9 517.8l0.1 0.0M75.6 515.3l-0.2 0.2M68.8 524.1l-0.0 0.0M75.4 488.3l0.2 0.2M41.4 516.7l-0.2 0.0M65.4 520.4l-0.0 0.1M61.2 519.7l-0.0 0.0M39.7 499.9l0.1 0.0M42.7 492.4l0.3 0.1M62.4 480.4l0.1 0.0M78.8 511.4l0.0 0.0M33.9 517.5l-0.1 0.0M71.2 526.1l-0.0 0.2M61.6 509.1l-0.1 0.1M79.2 516.9l-0.1 0.2M77.3 518.0l0.3 0.1M41.5 510.1l-0.0 0.3M55.1 515.1l-0.0 0.1M64.4 512.4l0.1 0.0M50.7 519.2l-0.1 0.1M45.1 505.7l0.0 0.0M56.2 509.0l-0.1 0.1M63.0 522.6l-0.0 0.0M63.5 489.9l0.0 0.3M41.5 517.4l-0.2 0.2M43.0 525.8l-0.1 0.2M43.3 514.5l0.0 0.0M76.7 515.5l0.0 0.0M77.1 518.0l-0.2 0.1M53.6 518.4l0.1 0.1M65.9 520.4l0.2 0.2M75.4 502.4l0.2 0.2M50.4 520.4l0.1 0.0M37.7 508.7l0.1 0.1M69.8 506.1l0.1 0.0M60.0 506.7l0.0 0.1M39.7 495.9l-0.1 0.1M51.0 481.5l0.0 0.1M66.4 504.7l-0.1 0.1M79.4 512.3l-0.2 0.1M53.8 482.0l0.1 0.1M32.1 505.0l-0.2 0.1M34.7 493.1l-0.1 0.2M56.8 510.3l0.1 0.0M75.3 520.5l-0.0 0.2M40.9 490.2l0.0 0.0M62.9 483.9l-0.0 0.2M52.5 500.0l-0.1 0.1M68.3 511.8l-0.0 0.0M54.5 479.7l0.0 0.1M34.6 508.6l-0.1 0.1M51.6 500.0l0.1 0.0M55.6 491.1l-0.0 0.0M68.9 510.8l-0.1 0.2M49.8 493.0l-0.0 0.1M47.3 507.6l-0.1 0.0M81.5 502.2l0.1 0.0M67.2 482.2l0.0 0.1M62.6 530.6l0.1 0.1M68.2 520.6l-0.0 0.0M64.2 488.7l-0.2 0.1M59.1 530.5l0.0 0.0M74.7 506.1l0.0 0.1M66.0 517.7l0.1 0.2M79.1 506.0l-0.0 0.0M76.2 495.8l-0.1 0.0M44.7 517.6l-0.2 0.0M45.1 519.0l0.0 0.0M75.6 520.1l0.2 0.2M56.3 519.3l-0.0 0.1M38.1 524.1l-0.2 0.1M39.0 487.2l-0.2 0.0M55.1 499.9l-0.1 0.1M56.6 484.5l0.0 0.0M64.6 501.5l0.0 0.1M49.5 527.4l-0.1 0.0M48.1 493.7l-0.0 0.1M61.5 514.9l0.2 0.2M43.8 505.9l-0.3 0.1M46.8 508.8l0.0 0.0M51.8 512.4l0.1 0.1M33.7 495.2l-0.1 0.1M39.8 515.5l0.0 0.1M69.1 511.0l-0.0 0.0M35.3 505.3l-0.1 0.0M54.5 518.7l0.0 0.1M79.5 498.8l-0.0 0.0M78.0 510.2l-0.1 0.0M55.9 505.5l0.1 0.3M67.4 484.0l-0.1 0.0M64.2 512.3l-0.0 0.2M77.1 497.6l-0.1 0.2M37.3 510.9l0.2 0.0M59.0 530.9l-0.0 0.1M65.4 515.2l-0.1 0.2M61.5 510.2l-0.0 0.2M46.7 513.8l-0.0 0.0M50.5 522.7l-0.2 0.0M69.8 493.6l0.1 0.0M77.7 500.3l0.0 0.0M34.5 505.9l0.0 0.1M43.6 483.7l0.0 0.0M47.2 520.3l-0.0 0.0M62.8 484.0l-0.0 0.1M70.7 502.9l-0.1 0.0M60.3 528.4l0.2 0.2M44.8 506.0l0.1 0.1M43.2 483.5l0.1 0.1M62.2 531.1l0.0 0.0M71.6 511.8l-0.3 0.1M53.3 479.5l-0.1 0.0M66.3 529.2l-0.0 0.0M47.9 491.7l0.0 0.1M56.9 506.9l0.1 0.1M65.1 503.1l-0.1 0.0M41.3 524.5l-0.1 0.1M73.5 511.2l0.1 0.3M61.8 520.6l-0.0 0.0M36.1 518.3l-0.0 0.0M62.6 507.1l-0.1 0.0M55.8 480.7l0.0 0.1M76.2 500.3l0.1 0.2M50.6 518.4l0.2 0.0M74.4 495.2l-0.0 0.0M58.0 523.8l-0.3 0.0M46.2 514.4l0.0 0.1M66.4 500.8l-0.2 0.1" stroke="#8482d0" stroke-width="0.9" stroke-linecap="round" fill="none"/>
<path d="M66.4 484.9l-0.0 0.1M49.5 520.1l-0.0 0.0M63.6 527.4l0.0 0.0M75.4 509.8l0.2 0.3M75.7 488.2l0.0 0.0M71.5 516.3l-0.1 0.1M57.9 522.7l-0.1 0.3M55.9 481.4l-0.0 0.0M63.9 493.7l-0.0 0.1M55.3 494.0l0.1 0.1M70.4 526.1l-0.0 0.1M35.3 521.7l-0.0 0.1M63.9 485.8l-0.0 0.0M32.6 509.5l-0.3 0.2M70.0 509.3l0.1 0.0M76.1 502.3l-0.1 0.0M68.0 492.5l0.2 0.2M64.3 502.8l-0.1 0.2M59.4 521.4l0.1 0.0M55.6 526.1l-0.0 0.1M71.3 506.8l-0.0 0.1M51.7 516.7l-0.2 0.1M64.0 509.0l0.1 0.2M51.1 499.6l0.2 0.1M44.3 513.2l0.2 0.3M48.6 524.1l0.1 0.2M73.5 485.8l0.0 0.1M54.6 493.9l0.4 0.0M35.0 516.7l0.1 0.3M45.9 508.3l0.2 0.0M40.2 486.2l0.2 0.1M43.3 519.3l0.1 0.1M31.0 502.3l0.2 0.1M65.0 481.3l0.0 0.0M80.6 496.6l0.0 0.0M70.9 498.3l-0.2 0.1M61.0 496.3l-0.1 0.1M36.2 519.4l-0.1 0.0M59.5 522.1l-0.0 0.2M65.6 514.9l-0.2 0.3M75.3 510.8l-0.0 0.0M61.0 498.0l-0.1 0.2M46.0 495.2l0.1 0.2M37.1 515.3l0.0 0.2M76.7 508.7l0.0 0.1M58.2 482.5l0.0 0.1M47.7 507.1l0.2 0.1M70.9 515.3l-0.0 0.0M51.2 500.0l-0.2 0.2M50.1 505.3l-0.0 0.2M65.5 502.7l-0.4 0.2M53.5 482.0l0.3 0.2M30.4 507.0l-0.1 0.0M62.3 481.0l0.1 0.0M56.6 495.2l-0.1 0.0M60.2 496.5l-0.0 0.4M59.7 518.8l-0.0 0.1M67.2 508.3l0.3 0.2M45.5 483.1l0.3 0.2M70.6 518.4l-0.1 0.1M69.9 491.6l-0.1 0.3M77.0 521.8l-0.1 0.1M60.2 492.7l-0.2 0.0M41.5 523.5l0.0 0.1M56.0 499.9l-0.1 0.1M39.4 485.6l-0.1 0.3M55.8 506.7l0.1 0.0M43.3 494.1l-0.0 0.4M64.7 515.0l-0.0 0.0M71.9 506.0l0.1 0.0M59.4 525.6l-0.0 0.1M43.2 492.9l0.3 0.2M56.6 515.9l0.2 0.1M72.3 488.8l0.0 0.1M77.3 507.2l-0.0 0.1M45.5 491.8l-0.3 0.1M56.4 530.8l0.2 0.0M45.5 512.9l0.3 0.1M75.7 507.2l-0.1 0.0M62.6 525.3l-0.0 0.3M60.5 495.5l0.1 0.1M80.0 513.2l-0.2 0.2M80.4 506.7l-0.1 0.1M55.3 488.0l0.0 0.0M56.8 510.9l0.1 0.3M48.0 482.9l-0.1 0.1M39.8 499.9l-0.2 0.1M54.2 526.8l-0.1 0.0M58.6 503.5l0.1 0.1M55.2 480.1l-0.1 0.1M67.2 495.4l0.3 0.2M41.2 489.6l-0.2 0.3M32.5 510.3l-0.2 0.3M35.5 514.3l-0.0 0.1M61.1 525.9l0.4 0.1M58.9 509.1l0.4 0.1M50.6 513.9l0.0 0.0M48.8 486.0l-0.2 0.2M74.8 513.8l0.1 0.3M66.8 483.1l0.3 0.1M78.2 492.6l0.1 0.0M59.9 508.9l-0.3 0.1M40.2 487.8l-0.0 0.1M62.9 510.5l-0.1 0.1M49.0 521.3l0.1 0.0M51.7 527.6l0.1 0.1M74.5 501.5l-0.2 0.1M72.8 509.0l0.1 0.3M43.5 523.9l-0.0 0.1M61.4 499.6l-0.1 0.0M68.1 505.8l-0.3 0.3M74.7 506.2l0.0 0.3M63.6 522.7l0.2 0.3M54.5 531.3l0.1 0.1M50.4 488.0l0.2 0.1M76.7 517.1l-0.2 0.3M45.3 494.4l0.0 0.2M62.2 500.8l-0.0 0.0M59.9 518.7l-0.2 0.1M38.2 522.8l0.1 0.1M33.7 501.2l-0.2 0.2M47.4 518.0l0.3 0.2M44.3 486.3l0.2 0.1M59.1 485.8l0.2 0.1M65.9 497.2l0.1 0.1M49.2 482.5l0.1 0.0M56.4 520.8l-0.0 0.1M50.8 515.8l-0.3 0.0M77.0 521.2l0.1 0.0M79.6 503.3l-0.1 0.1M63.2 525.6l0.1 0.0M52.5 508.8l0.1 0.3M49.7 488.2l-0.1 0.2M69.1 521.7l0.1 0.3M70.7 496.2l-0.1 0.3M45.1 511.7l-0.2 0.3M59.5 483.9l-0.2 0.1M45.0 491.9l0.1 0.2M70.2 515.6l-0.2 0.2M47.1 496.1l0.0 0.2M44.0 494.0l-0.2 0.3M64.9 525.2l-0.1 0.1M30.2 507.4l0.2 0.0M68.6 525.5l-0.2 0.0M72.3 517.6l-0.0 0.3M35.2 504.1l-0.2 0.1M34.5 519.4l0.2 0.2M38.2 520.1l0.4 0.1M52.3 510.7l0.1 0.1M73.2 507.1l0.1 0.3M48.1 516.6l0.2 0.2M74.0 498.6l0.2 0.2M46.7 513.3l0.3 0.1M63.9 486.1l0.0 0.2M60.1 531.3l0.1 0.2M66.2 484.0l0.0 0.1M47.3 502.9l-0.1 0.1M64.3 494.7l0.0 0.1M46.0 510.8l0.3 0.0M53.7 518.5l0.1 0.2M37.2 514.9l-0.1 0.1M78.2 495.1l0.3 0.1M75.6 492.7l0.3 0.1M54.0 503.3l0.4 0.0M48.8 494.7l0.1 0.0M58.6 528.8l0.0 0.1M75.6 492.4l0.3 0.2M38.1 491.0l-0.2 0.3M61.9 482.2l0.2 0.2M33.9 501.3l0.1 0.3M43.4 501.1l0.0 0.0M49.8 506.0l0.0 0.1M37.6 506.7l-0.0 0.3M80.4 506.7l0.0 0.2M43.9 484.8l0.1 0.2M63.2 503.9l-0.1 0.2M76.5 509.4l-0.2 0.3M43.5 528.6l-0.0 0.2M60.1 502.8l-0.2 0.2M43.3 526.5l0.1 0.2M33.3 502.0l0.1 0.1M38.8 514.9l-0.1 0.1M64.1 490.9l-0.0 0.1M30.2 504.6l-0.1 0.3M49.0 518.7l0.1 0.2M40.7 488.2l0.3 0.0M70.9 492.9l0.1 0.0M67.7 506.1l-0.2 0.1M43.4 486.1l-0.2 0.1M40.7 491.7l-0.1 0.2" stroke="#3e3898" stroke-width="1.0" stroke-linecap="round" fill="none"/>
<circle cx="120" cy="505.2" r="29.0" fill="#5244c6"/>
<circle cx="120" cy="505.2" r="27.4" fill="#d4d2f8"/>
<path d="M114.9 494.2l-0.4 0.7M120.7 496.8l0.1 0.0M123.9 480.3l-0.3 0.6M130.3 484.2l-0.1 0.5M114.5 521.4l0.4 0.7M104.0 485.4l1.0 0.2M128.8 507.4l-0.9 0.6M135.4 496.6l0.7 0.0M98.6 491.2l-0.9 0.1M112.8 509.6l-0.2 0.3M121.9 507.9l1.2 0.0M138.7 523.2l1.5 0.4M122.4 507.8l-0.3 0.3M118.8 493.8l1.4 0.2M114.5 481.4l-0.1 0.1M104.6 489.1l0.2 1.7M119.3 531.1l-0.0 0.0M141.2 507.2l-0.1 0.1M111.6 526.1l1.3 0.8M113.6 505.8l0.4 0.9M99.9 513.4l1.3 0.6M106.2 521.3l-0.3 0.7M102.4 520.6l-1.4 0.2M107.0 499.4l1.7 0.3M113.0 482.2l0.5 0.9M143.8 501.8l-0.2 0.5M97.6 516.0l0.5 1.1M99.9 490.3l-0.4 0.3M133.5 505.3l0.3 1.0M130.0 482.4l1.5 0.2M129.3 482.4l-0.1 0.5M134.1 486.1l-0.9 1.4M115.6 511.5l-0.2 1.4M127.0 527.0l-0.4 0.1M103.0 491.7l0.0 0.4M119.3 528.1l-0.7 0.5M140.2 517.6l-0.3 0.3M98.1 493.2l-0.9 0.3M100.0 508.2l0.3 0.2M129.3 525.2l0.4 0.9M104.5 516.1l0.1 0.0M136.1 504.9l1.1 0.4M122.4 495.1l-0.2 0.6M116.2 504.7l1.8 0.2M132.3 491.5l-0.1 0.5M123.1 488.3l-1.4 0.2M130.9 481.7l0.0 0.0M123.4 515.9l0.1 0.0M96.9 496.5l0.2 1.7M125.6 501.6l-0.2 0.7M138.9 522.9l0.7 0.7M103.6 485.2l-0.4 0.6M110.0 508.6l-1.8 0.2M120.9 510.3l0.4 0.5M140.6 490.8l-0.1 0.0M125.0 483.5l-0.8 1.6M129.4 508.6l-1.2 1.2M113.6 492.3l-0.4 1.3M131.8 514.4l0.2 0.2M109.2 506.5l0.2 0.2M118.7 502.5l-0.2 0.3M144.8 510.9l1.3 1.1M136.7 486.7l0.7 0.3M140.9 519.8l-1.0 0.5M105.3 509.7l-0.7 0.5M113.1 498.0l0.1 0.1M115.6 486.1l1.4 0.7M118.3 522.1l0.4 0.2M128.1 492.3l0.8 0.4M109.6 528.0l1.6 0.6M143.4 513.9l-0.2 0.3M106.0 507.2l0.3 0.3M102.7 525.0l-1.7 0.0M131.6 513.4l-0.1 0.0M117.9 491.1l-0.0 0.0M125.4 490.8l0.0 0.0M129.5 488.5l0.7 0.4M130.5 498.7l-0.1 0.2M129.8 526.2l-0.2 0.3M126.9 508.9l-0.3 0.8M118.2 517.0l-0.4 1.2M127.6 486.5l0.1 0.1M118.2 488.4l-0.1 0.1M125.7 491.0l-1.4 0.7M116.7 505.3l-0.8 0.2M129.5 495.4l1.2 0.8M112.8 513.1l0.4 1.0M139.0 505.8l0.2 0.9M136.2 520.6l-1.3 0.8M110.4 525.3l0.5 1.3M142.9 514.5l-0.9 0.1M100.8 503.6l-0.0 0.0M132.2 502.7l0.2 0.1M119.9 529.1l0.2 0.0M116.3 494.1l1.1 0.1M103.1 496.4l-0.1 0.1M135.3 488.9l0.2 0.0M101.3 506.0l0.1 0.2M111.9 510.7l-0.4 1.5M132.0 521.2l-0.2 0.2M131.8 482.5l0.3 0.7M130.2 489.0l0.5 1.6M122.6 490.1l0.4 0.4M96.0 515.5l-1.3 0.9M129.7 482.9l0.9 0.2M144.6 498.5l0.5 0.5M109.3 493.4l-0.0 0.1M102.9 512.9l0.3 0.0M142.8 500.8l-1.1 0.2M129.0 482.1l-0.1 0.0M111.4 494.6l-0.3 0.4M95.5 498.5l-0.2 0.4M102.8 503.0l-0.5 0.1M112.8 525.2l1.0 0.4M138.2 500.0l0.6 0.6M110.1 503.1l0.2 0.1M115.4 521.4l0.3 0.3M136.6 515.4l-1.0 0.5M100.7 496.1l1.0 0.8M101.0 510.0l-0.3 0.8M115.2 517.3l0.7 0.6M105.0 518.7l0.6 0.0M128.3 495.4l-0.2 0.9M114.3 530.8l0.8 1.1M123.7 510.9l-0.7 0.3M135.2 511.4l0.2 1.3M129.7 513.1l-1.3 0.2M128.7 517.8l0.5 1.1M101.9 489.0l-0.8 0.5M118.4 482.5l-0.6 0.6M124.8 483.5l-0.2 0.1M121.2 503.9l-0.8 0.7M94.1 505.5l-0.2 0.7M125.2 481.1l-0.2 0.6M102.9 510.5l-0.3 0.4M104.8 517.7l0.2 0.5M125.6 481.5l0.0 0.8M125.8 518.5l0.9 0.5M113.2 501.4l-0.6 0.1M133.4 485.1l-0.4 0.0M97.5 516.4l0.1 0.0M102.9 497.8l-1.3 0.3M94.4 498.9l-0.1 0.9M113.5 490.1l0.5 1.0M104.7 525.9l-0.5 0.8M133.1 514.6l0.3 1.0M97.9 494.1l-0.9 0.1M100.6 512.9l-0.6 0.0M96.6 500.7l0.5 0.3M143.8 502.0l-0.0 0.2M137.3 491.7l-1.5 1.0M133.1 494.1l0.5 0.2M101.3 503.8l0.3 0.2M106.0 490.2l0.8 1.6M116.4 501.1l0.4 1.4M112.3 525.8l0.5 0.0M131.1 488.3l-0.2 0.3M100.4 505.5l0.8 0.9M94.2 500.0l-0.2 0.7M127.6 512.4l-0.1 0.1M128.8 511.6l-0.1 1.5M102.0 489.7l0.0 0.0M121.9 490.3l-0.4 0.5M126.6 517.1l1.5 0.5M106.4 497.5l0.1 0.7M143.5 513.6l-0.4 1.7M100.7 512.9l0.1 0.1M142.1 494.9l0.9 1.4M125.9 491.9l-0.5 1.6M94.3 505.9l0.5 0.5M117.6 493.0l0.9 1.3M96.6 507.5l0.2 0.2M112.8 514.1l-0.5 0.0M111.7 501.8l-0.1 0.7M114.5 509.1l1.4 0.6M112.2 515.7l0.4 0.3M120.4 510.1l-0.3 0.5M132.4 523.6l0.5 0.1M124.8 497.1l0.3 1.5M123.6 495.3l0.6 1.2M101.5 523.3l1.4 1.0M107.4 504.8l0.0 0.2M116.4 492.2l-1.0 0.3M111.2 514.9l-0.1 0.4M126.4 498.6l-0.0 1.0M117.0 528.2l0.4 1.1M106.6 499.1l0.1 0.1M130.8 527.0l0.6 1.0M135.3 517.7l0.4 0.8M118.0 511.7l0.2 0.3M135.7 521.1l0.5 0.6M139.5 492.6l-1.4 0.6M129.4 515.4l1.2 0.1M111.9 491.8l0.3 1.1M115.9 492.7l-0.6 0.3M112.2 497.1l1.5 0.6M117.8 483.0l0.1 0.0M126.2 515.2l0.4 0.6M134.3 508.8l-0.1 0.3M130.6 488.3l-0.3 0.4M100.0 513.9l0.0 0.0M131.8 485.1l0.0 0.1M132.5 488.9l0.4 0.1M138.0 520.3l1.3 1.0M120.0 497.5l-0.4 0.6M119.6 481.2l0.1 0.1M136.2 499.5l-1.2 0.3M118.3 481.2l-0.3 0.7M140.8 512.6l0.2 0.9M128.5 501.1l-0.1 0.1M113.1 482.5l0.7 0.7M140.7 501.2l-0.1 0.4M134.7 511.0l0.1 0.3M116.4 514.3l-0.7 1.0M121.0 518.1l-0.0 0.8M134.4 499.1l0.9 1.3M132.4 520.6l0.7 1.3M98.0 498.3l1.0 0.6M105.4 494.8l-1.1 1.0M130.7 514.6l0.2 0.3M133.0 510.4l1.0 0.7M111.6 508.0l0.4 0.7M112.9 513.4l0.0 0.0M142.8 504.1l1.2 0.3M139.7 502.7l0.8 0.3M109.5 509.8l-0.0 0.0M138.5 494.9l-0.7 1.5M112.4 494.4l0.2 0.2M142.9 509.2l-0.5 0.3M128.3 524.6l-1.5 0.8M131.5 525.6l-1.2 0.7M114.7 515.3l-0.5 0.3M106.7 519.6l0.6 1.4M120.4 510.6l-0.2 1.1M129.4 485.1l-1.6 0.5M101.4 505.9l0.5 0.3M113.5 501.6l-0.2 0.2M95.6 514.3l0.1 0.0M109.3 509.5l-0.0 0.0M133.2 484.7l-0.6 0.5M115.5 526.2l-0.0 0.8M110.8 520.0l-0.7 1.3M128.8 499.1l0.5 0.6M105.6 499.2l0.1 0.1M112.0 521.2l-1.6 0.1M137.3 485.7l-1.1 0.1M122.4 499.2l-0.6 0.9M114.2 524.3l-0.9 0.1M111.3 493.7l0.8 1.4M131.3 507.2l-0.4 0.7M138.5 516.1l0.4 1.0M103.4 514.8l-0.1 0.7M128.4 512.6l-0.9 0.3M138.7 521.1l0.1 0.1M107.0 502.7l0.0 1.0M122.9 525.0l0.9 0.3M113.6 501.3l0.0 0.1M97.2 514.3l-0.2 1.3M120.4 496.3l-1.3 0.0M139.3 519.6l0.1 0.3M139.2 500.3l-0.2 0.2M121.0 499.0l0.5 0.5M140.3 507.1l0.4 0.3M115.4 488.6l-1.1 0.4M133.8 490.9l-1.5 0.4M131.2 525.0l0.7 1.2M109.9 483.5l0.6 0.3M117.9 479.6l-0.1 0.1M113.4 500.1l-0.2 1.4M139.3 521.8l-0.2 0.4M126.2 521.7l-0.9 0.5M122.9 507.7l1.4 0.5M127.8 523.3l0.8 1.0M112.7 512.0l-0.9 0.4M111.2 483.2l-0.0 0.0M114.4 513.8l-0.0 1.6M121.5 500.5l1.2 0.8M112.9 490.3l0.0 0.3M129.3 491.5l-1.0 0.4M133.5 512.2l1.3 1.0M115.3 502.3l0.6 0.3M100.4 509.2l0.2 0.6M140.1 506.0l0.0 0.0M94.6 511.8l0.3 0.0M113.4 493.1l0.6 0.7M118.5 525.1l-0.2 1.7M124.9 505.0l-0.3 1.4M136.2 488.5l-0.5 1.0M110.9 515.8l-1.3 0.9M140.2 497.0l0.8 1.1" stroke="#5040cc" stroke-width="1.5" stroke-linecap="round" fill="none"/>
<path d="M118.8 486.4l-0.2 0.5M104.0 499.9l0.6 0.1M108.3 528.7l0.0 0.6M120.5 518.0l0.1 0.2M144.6 506.3l0.1 0.7M106.8 499.1l0.1 0.1M115.3 519.1l-0.6 0.7M134.2 499.3l-1.0 0.2M129.8 510.6l-0.4 1.6M105.5 523.4l0.3 1.4M136.7 512.8l-0.4 0.1M119.8 509.2l0.4 0.2M116.5 493.4l0.1 0.3M100.4 490.4l-0.2 0.3M117.4 479.4l-0.0 0.1M129.0 482.2l0.1 0.2M127.3 523.1l-1.0 0.4M130.8 499.5l0.7 1.1M110.0 491.7l-0.3 0.5M135.9 511.2l1.1 0.2M110.6 521.2l-0.1 0.4M117.0 505.9l-0.9 0.2M126.2 504.7l-0.4 1.2M116.1 512.3l0.2 0.1M120.9 497.3l-0.6 0.4M100.3 500.3l-0.2 1.1M107.8 496.2l-0.3 0.3M114.5 482.8l-0.4 0.3M123.7 479.4l0.1 0.5M94.7 501.5l0.0 0.0M98.9 508.4l-0.5 0.4M132.6 504.4l-0.1 0.1M129.5 506.9l0.8 0.2M109.4 501.4l-0.6 0.1M126.6 514.2l-1.1 1.1M122.4 509.0l-0.3 0.3M138.5 503.1l-0.2 0.5M125.6 488.2l0.8 1.3M137.6 519.4l1.1 0.2M100.0 519.4l0.9 0.2M98.6 518.8l-1.1 0.2M122.1 518.3l0.5 0.5M121.4 517.0l-0.8 0.8M112.1 530.3l0.8 0.6M133.6 525.6l-0.4 0.2M120.2 481.3l0.4 0.4M95.2 507.5l1.0 0.6M105.5 495.0l-0.4 1.5M126.2 529.2l0.6 1.2M127.4 496.7l-1.5 0.7M118.8 509.1l1.6 0.6M145.2 506.7l1.1 0.6M128.9 511.4l-0.1 0.1M106.5 526.6l-0.9 1.2M124.8 504.6l1.0 0.9M118.1 500.4l-0.0 0.4M112.3 508.8l1.7 0.1M110.0 527.8l0.8 0.3M131.4 518.2l1.0 0.6M133.6 523.4l-0.0 0.2M108.7 520.0l-0.6 0.2M125.6 530.5l-1.2 0.4M118.4 516.2l0.1 0.1M138.1 510.2l0.3 0.9M118.2 507.3l-0.6 0.9M101.2 499.9l-0.9 1.4M135.7 489.3l0.2 0.5M97.2 517.9l0.2 0.6M111.6 510.6l-0.0 0.0M100.2 489.3l0.7 0.7M110.7 514.2l0.2 0.1M132.9 485.7l-0.1 0.0M114.8 491.1l-0.4 0.8M109.6 529.0l1.3 0.0M131.4 490.2l-0.5 1.6M122.0 526.0l-0.4 0.5M116.1 489.1l-0.1 1.0M113.4 491.8l-0.4 0.8M123.5 525.6l1.0 1.1M97.9 508.9l-0.1 0.8M121.8 515.0l-0.9 0.2M101.0 502.3l-0.3 0.2M131.2 526.3l0.1 1.1M131.7 483.1l-0.1 0.0M102.3 521.5l-0.2 0.1M127.5 516.1l0.6 0.2M126.3 487.2l0.0 0.1M99.1 521.3l-0.4 0.6M96.6 508.4l-0.2 0.2M113.2 490.7l-0.0 0.4M109.4 516.4l0.0 0.0M126.1 524.2l0.3 0.1M117.3 491.6l0.2 0.3M124.0 498.3l-0.6 1.3M125.1 521.6l-0.8 0.6M116.2 509.2l0.1 0.6M116.7 491.3l0.3 1.1M125.8 490.7l0.3 0.9M130.3 499.9l-1.2 0.1M105.0 520.7l0.1 0.1M120.6 489.0l-0.1 0.8M138.7 491.9l1.0 0.1M102.5 509.4l-0.6 0.3M95.4 509.3l0.2 0.8M96.1 503.4l-0.6 1.1M115.7 508.3l-0.5 0.8M122.8 482.2l0.3 0.1M141.1 516.3l0.1 0.0M120.4 485.4l1.1 0.2M115.6 487.4l1.2 0.2M102.4 515.1l-1.4 0.0M127.0 497.9l0.4 0.8M146.2 506.2l0.3 0.3M114.9 517.5l-0.9 0.4M102.9 504.0l0.5 0.1M135.8 487.6l-0.4 0.2M121.8 511.0l-0.1 0.6M102.0 509.3l-0.2 0.6M123.8 494.0l-0.9 0.2M134.0 509.9l-0.1 0.7M106.2 499.2l0.9 1.0M114.3 526.7l-0.8 0.6M95.5 512.4l0.3 1.5M136.3 511.4l-0.0 0.1M124.6 499.8l-0.1 0.3M137.5 495.9l-0.7 0.5M110.0 485.9l0.2 0.3M125.3 496.6l-0.3 0.1M126.6 510.0l-1.3 1.0M101.6 516.1l1.1 1.1M115.9 495.6l1.2 0.2M143.3 511.5l0.2 0.3M107.0 497.9l-0.0 0.3M132.8 497.3l-0.2 0.1M128.0 480.3l0.0 0.1M104.6 519.7l0.7 0.6M135.0 515.2l-0.5 0.6M116.1 497.1l-0.2 0.1M143.3 493.0l-0.9 0.2M116.1 520.3l-0.6 0.6M127.3 501.8l0.1 1.5M104.1 494.0l0.2 0.1M116.7 529.9l-0.3 0.2M124.2 503.0l-0.5 1.6M105.7 526.5l-0.0 0.1M111.2 520.5l0.9 0.9M130.1 526.3l0.1 0.1M112.4 502.2l-0.2 1.3M105.2 495.1l0.9 0.1M137.4 517.4l0.9 0.4M110.3 518.1l-0.1 0.2M132.4 527.6l0.7 1.2M132.8 492.1l0.1 0.1M126.5 499.0l0.0 0.9M133.3 517.4l0.8 0.4M104.0 504.5l0.6 0.4M122.7 514.2l1.1 1.0M95.1 504.9l1.6 0.1M96.6 506.9l-0.3 1.1M123.0 527.9l0.4 0.2M136.2 508.4l-0.0 0.5M125.9 500.3l-0.1 0.4M100.7 492.0l-0.1 0.1M120.5 525.6l-0.1 0.0M103.8 490.3l-0.5 0.3M126.7 488.5l-0.0 0.0M135.8 499.0l0.0 0.1M120.7 527.8l-0.1 0.2M114.5 513.4l0.3 0.2M107.3 528.0l-1.3 0.0M101.5 507.6l-1.2 1.0M120.2 484.1l0.9 0.6M133.2 485.9l1.2 0.3M113.8 513.8l-1.1 0.1M119.7 495.5l-1.4 0.8M138.8 492.4l-1.2 0.7M105.3 495.8l-1.1 0.7M129.9 494.7l-0.9 0.1M128.5 502.2l-1.3 0.1M119.7 529.4l0.3 0.2M107.6 508.6l0.0 1.5M111.2 484.8l0.4 1.3M125.9 484.2l-1.4 0.3M113.5 509.5l-0.7 1.3M109.1 522.4l-1.2 0.7M138.5 505.7l0.2 0.0M126.5 489.4l-0.3 0.7M113.8 515.7l0.6 1.3M109.6 495.5l0.4 0.1M114.7 488.5l-0.7 1.2M135.8 520.2l1.4 0.2M125.5 517.8l-0.6 0.1M124.0 529.8l-0.5 1.4M105.3 516.7l-0.9 0.1M131.5 504.4l-0.2 0.1M119.5 505.1l1.4 0.8M97.2 511.9l0.4 0.4M135.8 516.8l-0.8 0.4M101.8 523.0l-1.1 0.4M138.5 514.8l0.3 1.6M106.1 521.6l-0.3 0.6M98.5 502.2l-0.8 0.2M102.9 524.9l1.4 0.3M112.0 487.2l0.2 1.3M137.5 491.0l-0.0 0.0M115.6 513.9l-1.5 0.2M132.5 521.2l-0.0 0.1M102.2 519.5l-0.2 0.4M121.1 491.0l-0.1 0.7M141.1 502.3l-0.9 0.7M101.1 522.9l-0.7 0.9M118.2 515.7l-0.3 1.4M124.2 490.2l0.8 0.4M127.6 497.8l-0.2 0.2M117.7 510.8l0.4 0.5M145.3 499.9l0.4 0.3M131.0 501.1l0.4 0.6M130.5 513.7l0.2 0.6M133.3 502.1l1.2 0.9M97.0 512.6l-0.6 1.2M115.9 514.7l-0.6 0.6M99.8 497.4l-0.3 0.3M103.5 524.4l-0.0 0.5M110.8 495.4l-0.1 0.0M129.2 487.6l0.7 1.4M118.7 518.2l0.9 0.2M120.5 483.5l0.4 1.3M131.2 514.6l-0.7 1.5M105.4 488.8l-0.5 0.4M141.2 496.9l0.3 0.6M125.4 490.5l1.2 0.8M101.3 501.4l-0.8 1.3M130.3 516.6l0.7 0.1M95.6 504.9l-0.5 0.8M103.6 516.6l0.9 1.1M125.8 481.7l1.0 0.5M120.5 486.5l-1.5 0.5M118.9 481.3l-0.7 1.3M135.0 521.5l-0.6 0.8M118.9 512.0l-0.4 1.3M118.2 517.3l0.1 0.1M108.3 481.9l-0.5 0.4M117.8 498.5l-0.5 0.3M140.9 505.7l0.4 0.2M136.4 511.6l-0.2 1.4M143.3 511.1l0.4 0.1M109.4 494.0l0.5 0.8M124.7 528.2l1.1 0.9M127.0 487.2l1.3 0.1M138.5 508.5l0.0 0.1M104.6 488.8l-0.2 0.7M99.8 503.7l1.1 1.0M143.7 504.6l-0.6 0.1M127.0 504.6l0.0 0.2M99.1 511.4l-0.5 0.6M113.7 514.8l0.1 0.5M127.8 526.5l-0.0 0.7M127.1 526.2l0.4 0.3M99.5 497.0l-1.3 0.1M144.0 497.1l-0.8 0.9M131.1 509.8l1.5 0.1M116.3 484.6l0.4 0.4M130.8 523.2l-0.5 0.0M130.6 508.2l0.7 1.4M126.0 488.4l0.2 0.1M133.2 524.4l0.2 1.7M140.0 492.8l0.1 1.4M126.0 511.5l-0.2 0.8M123.4 518.0l1.5 0.1M113.7 480.3l-0.7 0.0" stroke="#2e18b8" stroke-width="1.3" stroke-linecap="round" fill="none"/>
<circle cx="182" cy="506.4" r="28.8" fill="#dcdcf0"/>
<circle cx="182" cy="506.4" r="27.2" fill="#ececf8"/>
<path d="M180.2 490.3l-0.2 0.1M184.0 508.6l0.1 0.1M180.2 508.1l-0.2 0.1M176.7 507.6l-0.2 0.1M195.4 512.8l-0.1 0.2M161.1 508.4l0.1 0.0M195.4 497.4l0.2 0.1M190.2 514.7l0.0 0.2M167.6 489.7l0.0 0.0M181.0 500.4l0.0 0.1M171.7 486.8l0.1 0.1M175.6 489.6l0.2 0.1M176.7 502.6l0.2 0.2M184.2 522.7l-0.2 0.2M167.0 489.6l0.0 0.0M205.2 502.9l0.0 0.0M183.5 531.6l0.2 0.1M201.0 497.5l-0.1 0.0M184.0 509.3l-0.0 0.0M203.8 502.7l0.2 0.1M191.8 522.4l0.2 0.1M201.3 490.4l0.3 0.0M159.7 498.2l-0.0 0.2M162.6 493.3l0.0 0.0M168.4 502.4l0.0 0.0M181.9 502.3l-0.2 0.1M173.2 508.8l-0.0 0.1M174.1 510.2l-0.2 0.0M177.2 512.8l-0.2 0.2M186.8 499.6l0.0 0.1M182.8 496.4l-0.1 0.3M182.3 504.2l0.0 0.0M174.8 487.4l-0.0 0.1M164.9 517.7l-0.1 0.2M179.5 483.2l-0.2 0.1M181.0 501.9l-0.1 0.2M159.7 516.7l0.2 0.2M161.4 514.3l0.1 0.1M173.3 518.6l0.1 0.0M203.0 503.9l-0.2 0.0M195.6 484.1l-0.1 0.1M182.0 523.2l0.1 0.0M201.0 489.9l0.1 0.2M185.9 482.0l-0.1 0.1M200.8 521.0l0.1 0.2M169.1 520.6l-0.0 0.0M161.3 502.3l-0.0 0.3M161.1 520.1l-0.2 0.2M192.2 512.8l0.2 0.2M195.3 507.5l-0.2 0.2M189.7 521.9l-0.1 0.2M181.4 483.7l0.1 0.1M203.5 510.2l0.1 0.0M202.5 501.7l-0.1 0.2M164.2 493.8l0.0 0.0M184.9 507.7l0.0 0.0M196.0 518.4l-0.2 0.0M178.6 529.1l0.0 0.0M176.5 522.2l-0.1 0.1M180.9 498.4l-0.1 0.0M184.3 502.4l-0.1 0.0M196.4 487.9l-0.0 0.1M193.4 507.1l-0.0 0.0M171.2 489.5l-0.0 0.0M187.1 512.8l-0.1 0.0M170.6 490.2l0.0 0.0M206.1 508.6l0.3 0.1M167.4 523.2l0.2 0.1M181.8 522.3l-0.0 0.0M182.3 529.8l0.1 0.1M183.2 494.1l0.1 0.0M170.2 516.9l-0.1 0.1M186.0 502.1l-0.1 0.2M182.4 510.9l0.0 0.0M160.6 511.9l0.0 0.0M171.2 507.8l0.1 0.1M187.0 511.0l0.1 0.1M200.0 498.8l0.1 0.0M181.3 486.8l-0.3 0.1M187.5 499.6l-0.2 0.0M182.7 517.2l-0.1 0.0M193.7 513.1l-0.1 0.0M181.2 499.3l0.0 0.1M187.9 526.9l0.0 0.0M200.1 504.6l0.0 0.0M171.2 491.0l0.1 0.0M180.8 487.2l0.1 0.1M165.3 493.4l0.2 0.1M203.2 498.8l-0.1 0.0M191.1 500.0l0.1 0.1M188.1 502.1l0.0 0.0M172.9 510.1l0.2 0.1M160.0 493.7l0.1 0.2M207.4 508.4l0.1 0.1M156.6 504.5l0.0 0.3M173.2 498.0l-0.1 0.0M199.7 506.4l0.2 0.2M174.7 521.4l0.1 0.2M197.9 508.7l0.2 0.1M202.4 506.4l0.1 0.1M161.5 498.0l0.1 0.0M200.7 524.0l0.0 0.0M162.2 503.6l-0.0 0.0M183.1 517.1l-0.0 0.1M161.2 519.8l-0.1 0.2M195.1 502.8l-0.1 0.0M205.8 514.4l0.0 0.0M178.5 520.0l-0.3 0.0M165.3 515.6l-0.2 0.1M171.3 491.0l0.1 0.0M171.1 489.6l-0.2 0.2M193.2 503.7l0.3 0.1M171.9 501.6l-0.0 0.1M183.3 522.2l-0.0 0.2M202.2 516.4l-0.1 0.1M171.0 485.7l0.1 0.0M172.3 486.6l-0.0 0.0M204.4 500.4l0.1 0.1M193.5 503.3l0.1 0.3M192.2 499.0l-0.1 0.1M170.1 486.8l0.1 0.0M185.0 519.6l0.0 0.0M167.9 515.9l0.2 0.0M200.6 499.4l0.1 0.2M171.9 510.6l0.0 0.0M177.3 497.0l0.1 0.3M184.5 482.6l-0.1 0.2M174.8 481.7l0.2 0.1M177.8 519.0l-0.2 0.1M196.4 486.5l-0.0 0.1M201.1 508.2l-0.1 0.1M183.6 507.2l0.2 0.1M194.6 506.7l0.1 0.2M185.6 506.1l0.3 0.1M191.9 504.5l0.1 0.1M174.8 521.7l0.0 0.1M189.1 509.0l0.0 0.0M166.4 491.0l0.2 0.2M180.0 491.2l0.0 0.1M199.7 497.9l0.0 0.0M176.3 491.2l-0.0 0.1M188.9 484.0l0.2 0.1M189.9 527.0l-0.2 0.1M182.9 514.3l-0.1 0.1M189.4 515.2l-0.0 0.0M173.4 496.8l0.1 0.1M160.2 501.8l0.2 0.0M184.6 520.3l-0.1 0.2M163.3 490.0l0.1 0.1M175.0 495.0l0.1 0.0M185.2 482.8l-0.2 0.2M186.0 492.4l0.1 0.2M201.2 513.4l0.0 0.0M171.8 505.5l-0.3 0.1M170.7 509.2l0.1 0.1M166.4 504.3l-0.1 0.1M183.4 498.0l0.1 0.0M168.9 507.8l-0.0 0.1M174.5 522.9l-0.1 0.2M169.9 519.0l-0.3 0.1M175.8 500.6l0.0 0.2M181.1 511.4l-0.3 0.0M194.3 519.4l-0.0 0.1M202.6 515.9l-0.1 0.1M196.1 514.8l0.3 0.1M195.3 510.8l-0.0 0.0M187.5 510.7l0.1 0.1M187.4 497.1l0.2 0.1M168.4 513.2l0.1 0.0M190.8 504.8l0.2 0.2M201.4 490.7l0.0 0.3M170.8 497.8l0.0 0.2M181.1 497.0l0.2 0.2M200.5 521.1l0.0 0.1M181.4 524.3l-0.0 0.0M191.1 494.6l0.2 0.1M175.8 515.9l0.1 0.2M195.0 491.3l0.2 0.0M162.5 491.0l-0.1 0.0M195.8 487.1l0.1 0.1M171.0 517.4l0.0 0.0M185.6 531.1l0.1 0.2M199.3 491.6l0.2 0.2M190.7 481.8l-0.1 0.2M187.1 494.2l-0.1 0.1M187.1 498.3l-0.0 0.1M188.6 492.5l-0.2 0.1M189.1 499.7l-0.2 0.0M172.6 487.4l0.3 0.0M165.1 501.2l0.1 0.2M186.9 482.5l0.1 0.1M182.0 514.7l0.0 0.0M185.6 494.4l0.0 0.0M181.3 494.7l0.0 0.1M190.3 482.2l0.1 0.2M196.2 495.4l-0.2 0.1M172.8 529.1l-0.0 0.0M161.7 493.9l-0.0 0.1M160.7 518.7l-0.0 0.1M171.8 518.4l-0.2 0.0M199.7 524.1l0.2 0.0M161.8 515.5l0.0 0.0M158.5 502.9l-0.1 0.1M185.9 528.7l-0.1 0.0M201.4 488.9l0.0 0.1M175.7 481.9l0.1 0.1M171.3 526.1l0.1 0.1M160.6 506.4l0.3 0.1M201.6 506.4l-0.0 0.0M198.4 496.0l-0.2 0.2M165.7 525.6l0.0 0.0M157.2 506.0l-0.3 0.1M156.8 504.7l-0.0 0.0M166.0 489.2l0.0 0.2M181.2 520.1l0.0 0.1M174.2 508.0l0.1 0.0M177.3 484.2l0.1 0.1M171.1 505.3l-0.1 0.3M188.0 525.5l-0.1 0.2M176.8 484.9l0.2 0.2M187.4 503.7l-0.1 0.0M187.9 510.0l-0.2 0.1M193.1 520.2l-0.1 0.3M170.2 526.1l0.0 0.0M190.9 520.6l-0.0 0.1M188.4 516.8l0.1 0.0M174.5 523.4l0.1 0.1M158.0 515.9l0.0 0.3M170.5 508.5l-0.0 0.0M185.4 512.6l-0.2 0.2" stroke="#8c8ad4" stroke-width="0.9" stroke-linecap="round" fill="none"/>
<path d="M169.2 515.3l0.1 0.2M176.0 491.1l0.5 0.3M180.1 505.5l-0.5 0.2M169.3 522.9l-0.3 0.1M169.0 512.3l-0.1 0.5M179.6 481.0l0.2 0.1M195.9 487.7l-0.1 0.5M168.3 527.9l-0.0 0.3M185.7 514.5l-0.5 0.2M196.7 508.9l0.0 0.3M165.8 525.2l0.2 0.3M200.9 497.4l0.0 0.2M166.5 519.7l-0.1 0.1M170.8 518.3l0.3 0.6M168.6 503.1l0.3 0.5M193.6 524.8l0.1 0.0M203.9 515.0l0.1 0.1M194.6 511.2l-0.3 0.4M203.6 492.8l-0.1 0.6M203.3 519.8l0.0 0.1M181.7 482.1l0.0 0.1M197.9 490.1l-0.2 0.7M188.0 507.9l0.0 0.0M176.6 486.3l0.1 0.0M190.6 525.0l-0.4 0.6M165.4 526.3l0.1 0.3M181.7 519.0l-0.7 0.1M179.0 495.9l0.1 0.1M168.7 524.5l0.4 0.1M180.0 502.0l0.1 0.5M166.3 498.3l-0.4 0.2M173.4 520.5l-0.6 0.1M198.9 496.4l0.1 0.1M165.8 521.0l0.6 0.0M186.2 488.1l0.6 0.0M163.6 517.4l-0.1 0.5M160.4 520.3l-0.6 0.1M171.0 496.6l0.1 0.2M201.2 493.1l-0.5 0.4M203.7 505.1l0.3 0.4M180.4 526.8l0.5 0.3M168.3 507.4l-0.1 0.0M202.6 496.7l0.5 0.2M159.6 495.3l-0.1 0.3M189.1 503.3l-0.1 0.0M180.5 515.1l-0.3 0.1M180.0 493.3l-0.3 0.3M197.1 517.0l-0.1 0.1M174.2 495.0l0.3 0.6M206.5 497.2l0.1 0.4M190.2 485.1l0.1 0.6M161.2 521.2l0.0 0.1M181.9 496.4l-0.0 0.0M201.2 505.0l-0.1 0.1M171.5 494.2l0.4 0.4M199.7 510.2l0.6 0.2M185.8 503.4l0.0 0.3M177.6 484.5l0.3 0.6M185.8 515.3l-0.1 0.0M189.3 523.4l0.1 0.1M198.3 498.7l-0.1 0.1M192.5 500.0l-0.4 0.1M204.6 502.2l-0.1 0.3M192.7 492.6l0.6 0.2M189.4 486.1l-0.1 0.1M158.9 511.8l-0.6 0.1M193.6 524.7l-0.0 0.3M186.8 514.8l0.0 0.3M180.2 522.2l-0.1 0.5M173.1 500.8l-0.2 0.1M207.1 499.9l0.4 0.2M197.9 503.0l-0.0 0.2M193.7 508.5l0.2 0.1M168.5 492.1l-0.5 0.1M165.4 525.8l-0.2 0.3M195.9 490.1l0.2 0.4M174.0 530.9l0.5 0.5M184.4 507.4l-0.0 0.1M173.0 506.0l-0.4 0.2M171.9 483.3l-0.5 0.0M181.7 505.3l0.3 0.0M196.4 503.6l-0.0 0.0M160.5 519.0l-0.2 0.6M193.8 507.4l0.5 0.3M202.3 521.5l0.4 0.5M167.2 504.9l-0.3 0.0M179.8 500.0l-0.6 0.3M199.4 520.9l0.1 0.1M168.0 522.5l-0.7 0.1M202.7 505.6l-0.1 0.1M179.1 487.2l0.3 0.6M181.7 516.3l0.1 0.0M162.1 494.0l0.3 0.2M164.5 497.6l0.1 0.4M188.3 507.0l0.0 0.2M182.6 493.5l-0.1 0.1M197.1 516.3l0.1 0.2M183.2 494.1l-0.3 0.5M164.2 511.9l-0.4 0.1M184.9 512.7l0.2 0.1M199.9 517.6l0.1 0.2M156.7 504.5l0.1 0.1M176.9 520.4l-0.5 0.1M172.4 511.0l0.1 0.0M194.1 489.1l0.4 0.2M199.4 513.1l0.0 0.1M181.0 484.2l-0.0 0.1M173.7 491.3l-0.0 0.1M183.3 505.5l0.2 0.2M184.5 513.8l-0.4 0.6M175.1 518.0l-0.1 0.1M164.4 519.1l0.0 0.1M199.4 514.7l-0.6 0.0M197.0 517.3l0.0 0.1M173.1 490.2l-0.2 0.1M203.6 496.9l0.0 0.1M172.7 507.4l-0.3 0.4M159.2 494.2l0.5 0.1M184.8 498.0l0.0 0.0M162.7 495.3l0.2 0.4M167.2 522.8l0.4 0.5M180.5 507.0l0.5 0.1M195.8 490.7l0.5 0.3M180.2 497.7l0.2 0.4M187.4 506.5l0.3 0.5M196.8 506.1l-0.5 0.2M195.3 491.3l-0.4 0.0M200.7 500.1l0.3 0.2M166.9 508.0l0.1 0.3M171.5 499.9l0.2 0.3M165.1 506.0l-0.1 0.1M168.5 503.7l-0.4 0.3M185.7 487.9l0.5 0.5M166.0 505.3l0.2 0.2M175.9 483.5l0.0 0.5M186.1 523.5l0.1 0.2M167.6 524.0l-0.1 0.1M184.4 529.5l-0.2 0.4M167.6 490.0l0.0 0.0M179.0 510.0l-0.4 0.0M169.6 483.8l-0.1 0.1M177.5 513.8l-0.4 0.3M166.1 507.6l0.2 0.3M176.1 482.3l-0.5 0.3M166.2 512.7l0.4 0.6M186.2 515.9l0.4 0.5M191.1 494.4l-0.6 0.3M171.7 511.5l-0.2 0.2M200.2 523.4l0.1 0.3M171.1 498.9l0.3 0.0M180.0 508.3l0.2 0.5M171.2 525.1l-0.1 0.1M203.3 509.1l-0.1 0.2M189.5 529.5l-0.2 0.0M165.0 496.2l0.0 0.0M172.4 525.1l-0.1 0.3M190.7 514.8l0.2 0.2M165.8 525.3l0.6 0.2M183.5 530.6l0.3 0.3M178.3 510.0l-0.5 0.3" stroke="#5552b0" stroke-width="1.0" stroke-linecap="round" fill="none"/>
<circle cx="244.6" cy="505.7" r="29.0" fill="#8e86e0"/>
<circle cx="244.6" cy="505.7" r="27.4" fill="#d2d0f6"/>
<path d="M241.8 528.8l0.1 1.1M259.9 511.2l0.5 0.5M248.8 481.8l-0.1 0.4M247.2 497.6l0.6 0.6M220.1 515.3l0.5 0.1M244.9 506.9l0.1 0.0M232.8 518.4l-0.0 0.3M239.0 487.6l-0.2 0.0M226.1 504.5l0.4 0.9M250.8 529.6l0.2 0.3M229.7 492.6l0.1 0.1M260.0 501.2l0.7 0.3M229.8 502.7l0.5 0.8M235.6 520.2l-0.4 0.1M235.9 511.8l-0.4 0.6M228.7 511.3l0.6 0.6M221.4 512.1l0.3 0.7M256.8 507.9l-0.7 0.1M236.2 489.1l0.0 0.2M254.5 524.5l-0.2 0.2M238.6 498.0l-0.1 0.2M229.8 504.8l-0.0 0.1M224.0 507.9l0.3 0.1M236.1 488.1l-0.3 0.8M233.4 500.3l0.2 0.9M223.7 496.4l0.2 0.4M268.1 501.2l-0.1 0.1M240.9 502.6l-1.0 0.2M242.7 492.2l-0.2 0.1M253.6 488.9l1.0 0.0M222.2 514.6l-0.3 0.5M252.3 496.7l-0.4 0.1M259.7 508.2l0.1 0.0M238.1 499.2l0.3 0.2M240.1 530.6l-0.9 0.3M262.1 504.6l-0.2 0.2M265.9 495.1l-0.2 0.2M265.9 519.5l-0.1 0.7M251.1 498.1l-0.3 0.4M248.6 488.3l0.9 0.6M240.2 528.0l-0.2 0.1M239.0 490.1l0.2 0.2M260.0 501.1l-0.0 0.6M267.2 509.5l-0.7 0.7M237.1 515.2l0.4 0.7M235.4 491.6l-0.0 0.2M260.4 496.8l-0.0 0.9M251.8 526.9l0.4 0.8M256.1 513.4l-0.2 0.5M230.2 519.7l0.4 0.3M268.2 506.0l0.6 0.7M225.2 499.1l-0.1 0.1M247.0 491.6l-0.8 0.4M234.2 484.3l0.1 0.7M255.6 502.3l0.4 0.1M234.4 505.1l0.7 0.6M236.8 512.3l0.5 0.3M251.3 522.6l-0.1 0.5M220.5 505.1l1.0 0.1M246.2 510.6l-0.5 0.4M232.6 502.8l-0.3 0.2M242.8 493.2l-0.2 0.7M231.9 518.9l0.7 0.1M240.9 496.1l-0.1 0.8M264.1 520.0l-0.1 0.0M244.7 513.4l0.1 0.1M231.4 506.6l0.3 0.4M228.4 522.6l-0.1 0.1M245.0 508.1l0.1 0.1M237.0 483.7l-0.2 0.0M267.0 510.9l0.3 1.0M233.1 514.9l1.0 0.2M227.1 504.4l0.2 0.8M253.5 489.8l0.4 0.2M257.7 495.1l-0.3 0.5M225.2 510.5l0.4 0.4M249.5 500.1l0.4 0.9M247.6 505.3l-0.3 0.6M254.6 490.6l0.3 0.1M239.4 483.8l0.6 0.4M232.8 487.9l0.5 0.0M235.3 523.9l0.1 0.1M237.8 493.3l-0.3 0.2M221.8 499.0l0.8 0.3M267.8 516.3l0.8 0.1M237.0 513.9l0.2 0.5M236.7 510.4l-0.0 0.3M260.6 502.4l0.1 0.2M259.3 502.8l-0.4 0.8M226.6 520.0l0.1 0.1M261.7 510.3l-0.2 0.1M223.1 514.1l0.1 0.1M227.5 503.6l-1.0 0.2M246.1 525.4l0.0 0.0M220.9 514.4l0.4 0.5M243.0 499.3l-0.1 0.0M237.5 526.9l0.4 0.0M257.3 518.7l0.2 0.0M245.9 513.1l0.2 0.1M234.9 504.6l-0.4 0.2M244.4 518.7l-0.0 0.0M244.2 497.5l-0.4 0.1M224.5 491.6l0.1 0.0M237.6 486.7l-0.2 0.2M233.2 505.9l0.1 0.3M232.2 498.3l0.5 0.5M264.9 517.8l0.0 0.3M258.7 518.1l-0.0 0.8M232.7 517.8l-0.3 0.1M269.4 502.7l-1.0 0.0M243.5 529.5l-0.1 0.2M265.8 505.4l-0.5 0.3M266.1 517.5l0.2 0.1M235.9 497.9l0.1 0.8M262.3 517.9l0.5 0.2M231.7 488.0l0.2 0.0M260.6 501.6l0.1 0.4M237.1 484.3l-0.2 0.4M227.4 497.7l0.9 0.6M267.3 500.6l-0.5 0.0M251.5 494.7l-0.5 0.6M266.9 496.6l-0.3 0.1M248.8 488.0l0.2 0.3M251.9 482.6l-0.7 0.3M249.6 514.8l-0.0 0.2M240.2 512.9l0.7 0.4M248.6 529.7l0.5 0.8M240.2 518.6l0.0 0.0M229.6 512.1l0.9 0.0M244.2 506.1l-0.2 0.0M244.5 509.8l0.7 0.2M228.3 496.5l0.2 0.2M260.4 502.7l-1.0 0.0M261.8 522.8l0.8 0.1M252.7 485.2l-0.1 0.9M255.6 521.7l0.3 0.3M252.6 526.4l-0.2 0.8M230.4 491.0l-0.9 0.2M230.8 499.6l-0.4 0.1M256.8 514.8l-0.6 0.8M231.5 488.7l-0.8 0.2M227.7 511.7l-0.3 0.2M260.6 518.9l-0.2 0.2M234.5 482.9l0.1 0.1M229.3 506.4l-1.1 0.2M222.4 513.6l-0.1 0.2M255.5 503.8l0.5 0.1M262.8 507.7l0.3 1.0M223.8 518.3l-0.5 0.4M245.7 520.2l0.0 0.4M233.2 490.8l0.4 0.6M256.5 505.4l0.0 0.0M249.8 509.2l0.2 0.9M236.2 481.1l-0.6 0.3M242.0 504.3l0.1 0.3M239.7 501.1l-0.1 0.4M227.8 506.5l0.8 0.3M251.0 486.3l0.6 0.2M262.7 486.7l-0.0 0.0M260.2 490.8l0.7 0.8M256.1 483.5l0.5 0.4M234.2 515.6l-0.5 0.5M235.0 522.6l-0.6 0.1M261.6 495.4l-0.0 0.0M225.6 510.6l-0.7 0.8M231.6 492.9l-0.2 0.5M237.4 481.0l0.4 0.0M249.2 501.2l-0.0 0.0M230.5 486.8l0.3 0.3M247.9 527.6l-0.1 0.7M235.4 523.7l-0.8 0.1M257.1 501.8l-0.0 0.4M231.2 525.2l0.5 0.3M248.4 480.5l0.3 0.0M219.1 506.8l0.8 0.5M229.0 517.5l-0.1 0.0M239.6 514.8l0.3 0.1M238.5 486.5l0.8 0.3M234.6 505.2l-0.8 0.5M249.9 530.7l-0.2 0.1M269.2 505.9l-0.1 0.1M247.0 482.6l-0.4 0.8M259.6 504.3l-0.9 0.5M236.1 525.8l-0.5 0.8M231.9 500.0l0.4 0.4M260.7 524.1l-0.3 0.1M237.5 485.2l0.8 0.3M246.1 491.2l0.3 0.1M247.0 487.8l-0.1 0.1M256.8 515.4l-0.2 0.1M265.1 515.9l0.7 0.2M256.0 512.3l-0.5 0.8M229.7 515.3l0.4 0.0M245.8 529.1l-0.5 0.7M223.0 501.3l0.4 0.2M240.9 519.2l-0.2 0.2M238.2 518.2l-0.6 0.3M228.4 507.7l-1.0 0.3M225.7 511.9l-0.3 0.1M244.1 514.2l-0.0 0.8M254.2 520.2l-0.5 0.0M226.7 522.0l-0.4 0.1M259.6 520.5l-0.7 0.7M236.8 493.3l-0.0 0.3M227.6 511.7l-1.0 0.3M260.9 497.5l-0.2 0.0M263.2 495.6l-0.4 0.2M248.8 505.5l-0.8 0.4M227.7 522.8l0.6 0.5M228.0 509.0l0.7 0.5M243.7 497.9l-0.2 0.0M232.6 517.7l-0.2 1.0M264.4 498.6l0.0 0.1M261.9 513.7l-0.1 0.5M261.5 503.8l0.2 0.4M256.7 528.3l-0.2 0.6M232.8 511.6l0.3 0.5M219.9 514.4l-0.0 0.2M254.5 509.2l0.4 0.8M254.5 497.5l-0.4 0.3M225.9 501.2l0.1 0.0M233.7 486.7l0.4 0.9M250.8 492.6l0.6 0.1M237.5 495.4l0.5 0.1M266.7 510.5l-0.1 0.3M232.6 510.0l0.2 0.1M251.7 489.4l-0.2 0.3M251.7 486.6l-0.2 0.4M233.9 501.3l-0.7 0.1M223.9 501.4l0.3 0.1M247.5 529.8l0.5 0.0M260.4 488.5l-0.2 0.3M247.1 527.7l0.5 0.6M231.1 524.3l-0.2 0.9M260.8 504.2l-0.0 0.0M247.9 502.5l-0.1 0.4M246.4 491.0l0.7 0.5M222.8 498.6l0.0 0.0M246.2 493.5l0.0 0.0M243.4 527.2l-0.5 0.5M223.4 513.6l-0.1 0.2M224.7 501.2l-0.1 0.2M238.8 520.0l0.4 0.1M242.0 485.8l0.7 0.4M261.6 521.0l0.1 0.0M244.4 524.6l0.6 0.7M257.6 500.4l-0.5 0.5M232.2 500.7l-1.0 0.2M259.7 507.0l0.1 0.2M221.9 516.3l0.9 0.1M243.5 508.6l-0.3 0.1M246.7 514.5l0.1 0.1M250.2 517.6l-0.1 0.5M238.1 523.7l-0.6 0.5M230.6 526.8l-0.5 0.4M229.6 508.0l0.9 0.4M238.2 500.5l-0.9 0.2M266.2 510.3l0.4 0.4M252.5 492.2l0.0 0.7M252.0 525.2l0.3 1.1M253.1 526.3l0.3 0.0M252.1 512.6l-0.0 0.2M246.9 497.8l-0.4 0.9M253.2 514.5l-0.4 0.3M258.6 499.4l0.3 1.0M230.2 527.3l-0.2 0.1M220.0 498.4l0.9 0.3M248.1 483.1l-0.0 0.1M252.8 503.5l-0.6 0.5M235.6 525.6l0.2 0.8M269.2 512.6l0.3 0.8M221.2 509.9l0.4 0.5M262.8 508.6l0.9 0.2M237.0 490.3l-1.0 0.1M251.9 503.7l-0.5 0.6M242.0 503.7l-0.5 0.1M224.9 492.3l0.0 0.0M256.8 499.3l0.1 0.0M267.3 505.0l0.1 0.1M261.8 492.8l-0.0 0.1M222.6 519.0l0.5 0.0M269.3 514.9l1.0 0.3M256.8 486.7l0.8 0.1M226.1 506.5l0.5 0.2M247.7 496.6l-0.4 0.2M243.3 518.5l0.1 0.7M222.1 495.1l-0.0 0.6M256.8 504.8l0.4 0.0M241.0 514.3l0.0 0.0M260.7 496.9l-0.7 0.3M241.7 482.9l0.5 0.7M250.0 524.6l-0.3 0.8M252.3 519.2l-0.8 0.5M253.6 504.4l0.1 0.1M240.9 483.2l-0.4 0.8M224.9 503.7l-0.7 0.2M233.3 488.9l0.0 0.8M236.1 501.5l0.1 0.5M226.6 513.9l0.2 0.4M230.2 512.8l-0.1 0.0M266.9 508.1l0.2 0.5M231.2 497.0l0.0 0.0M262.6 487.5l0.3 0.4M241.7 511.4l-0.9 0.3M245.3 519.0l-0.5 0.7M228.5 508.8l0.7 0.6M260.6 487.2l0.6 0.2M266.8 503.6l0.0 0.2M265.6 514.1l0.9 0.2M235.4 490.0l-1.0 0.3M238.4 500.1l-0.1 0.4M244.7 531.1l-0.1 0.1M246.6 521.0l-0.1 0.3M222.5 514.5l0.7 0.4M232.1 528.1l-0.4 0.1M237.7 500.3l0.2 0.7M234.6 493.9l0.1 0.0M234.5 501.6l0.4 0.6M260.0 494.6l0.4 0.5M240.9 528.7l0.3 0.1M221.3 515.2l0.2 0.1M252.9 514.7l0.2 0.4M245.6 489.0l0.0 0.4M248.4 480.9l0.2 1.0M244.5 531.8l-0.1 0.7M234.5 515.0l0.9 0.4M230.6 522.7l0.1 0.6M247.6 516.4l0.4 0.7M243.4 505.4l-0.3 0.4M256.8 511.3l0.7 0.6M230.2 501.0l0.2 0.2M241.7 521.0l-0.7 0.5M236.6 482.2l-0.1 0.1M254.9 508.7l0.4 0.4M253.4 487.5l0.1 0.3M267.4 503.1l0.0 0.0M257.9 504.2l-0.1 0.1M235.6 492.8l-0.3 0.1M254.1 512.7l-0.9 0.6M231.0 488.6l0.2 0.2M267.0 519.3l0.7 0.1M237.9 514.9l0.2 1.0M244.8 516.4l-0.3 0.7M233.4 505.0l-0.1 0.0M250.6 517.2l-0.0 0.5M223.4 498.3l-0.5 0.2M267.8 512.0l0.3 0.0M257.4 521.7l-0.1 0.1M237.9 529.1l-0.1 0.1M235.5 484.0l0.0 0.2M236.5 493.2l0.2 0.1M236.9 511.1l0.2 0.6M228.7 500.3l-0.1 0.1M232.3 528.1l-0.9 0.4M246.5 486.5l-0.5 0.4M254.5 514.7l0.9 0.3M237.2 520.9l-0.0 0.1M238.1 483.1l-0.8 0.6M240.5 514.9l-0.6 0.5M233.9 516.9l0.8 0.4" stroke="#6a5ed8" stroke-width="1.2" stroke-linecap="round" fill="none"/>
<path d="M221.5 511.5l0.2 0.3M221.9 503.8l-0.4 0.2M238.8 490.0l-0.8 0.4M229.7 500.3l0.7 0.8M249.2 491.9l0.2 0.1M249.7 504.5l-0.5 0.4M226.3 499.2l0.2 0.6M266.0 519.3l0.2 0.1M234.7 487.0l-0.7 0.5M250.0 503.2l0.3 0.0M246.5 495.6l-0.1 0.9M255.3 521.6l-0.9 0.3M230.0 516.6l0.7 0.9M249.0 484.4l0.5 0.7M221.1 507.7l0.4 1.0M237.5 489.5l-0.2 0.9M219.2 501.0l1.1 0.0M240.5 487.7l-0.2 0.1M232.9 524.7l-0.4 0.2M265.8 504.9l0.1 0.0M262.3 514.9l0.2 0.3M237.6 508.1l-1.0 0.3M228.2 499.4l0.4 0.6M229.7 527.1l-0.9 0.1M247.9 499.3l0.4 0.2M256.6 517.9l-1.0 0.0M256.6 502.5l0.0 0.0M243.7 511.9l-0.0 0.4M235.5 488.2l-0.1 0.3M242.5 483.9l-0.4 0.4M230.8 508.9l0.6 0.1M236.1 498.1l-1.0 0.4M259.0 486.7l0.0 0.2M241.6 528.2l-0.1 0.0M260.3 506.3l0.3 0.6M263.1 521.4l0.5 1.0M237.6 518.5l1.0 0.6M224.3 492.9l0.6 0.1M241.8 479.7l-0.1 0.0M226.2 524.6l-0.1 1.1M244.5 509.9l-0.3 0.1M229.9 499.8l-0.3 1.1M268.0 497.6l0.7 0.7M261.5 507.7l-0.3 0.1M231.1 520.6l0.6 0.6M239.9 499.0l-0.1 0.0M239.5 491.0l0.1 0.0M268.2 505.4l0.1 0.9M269.6 500.9l-0.0 0.3M218.6 502.7l-0.5 0.6M253.9 491.6l-0.2 1.0M252.3 528.9l0.6 0.0M235.6 501.1l-0.5 0.1M251.3 521.2l-0.1 0.5M252.6 505.8l-0.1 0.1M243.8 529.4l-1.0 0.4M245.5 507.4l-0.5 0.5M242.2 508.4l0.1 0.3M222.3 492.0l0.1 0.1M241.6 497.6l0.4 0.3M259.6 504.4l0.3 0.5M253.4 520.0l-0.2 0.3M247.9 494.8l0.7 0.2M220.4 513.1l0.8 0.3M236.8 491.6l0.7 0.3M245.5 487.6l0.1 0.8M231.3 494.8l0.5 0.3M220.8 498.0l-0.7 0.0M238.7 516.7l-0.4 0.8M244.9 527.6l-0.5 0.0M260.8 499.2l-0.5 0.9M249.1 520.6l-0.1 0.0M238.3 522.8l-0.5 0.5M264.1 496.5l0.1 0.0M261.5 509.7l0.6 0.1M236.6 496.9l-0.4 0.2M259.9 501.8l-0.2 0.6M242.7 528.9l0.3 0.0M233.9 528.1l-0.0 0.0M238.3 525.3l-0.1 0.1M247.6 489.5l-0.0 0.5M220.3 515.6l-1.1 0.3M242.6 483.7l0.0 0.0M255.1 486.8l-0.1 0.3M241.9 530.9l-0.0 0.0M236.2 518.8l1.1 0.2M264.1 492.1l0.5 0.0M261.8 520.2l-0.8 0.5M247.0 496.8l0.1 0.0M257.8 485.6l-0.0 0.3M250.3 498.5l0.0 0.0M261.5 503.9l-0.7 0.6M221.7 492.9l-0.8 0.7M252.0 504.0l-0.2 0.2M237.6 519.5l-0.1 0.0M235.9 509.5l-0.6 0.0M238.9 487.5l-0.3 0.3M225.1 517.5l-0.6 0.9M235.8 528.3l-0.5 0.5M227.9 516.5l0.1 0.0M241.1 514.3l0.9 0.1M242.2 485.1l0.7 0.5M254.1 487.2l0.5 0.4M233.8 514.1l0.9 0.5M227.4 486.9l0.3 0.2M238.2 505.3l0.4 0.5M219.6 508.6l-0.2 0.7M224.5 493.8l0.0 0.0M267.9 502.8l0.1 0.1M248.3 526.8l0.0 0.0M242.5 505.8l0.3 0.3M245.0 507.0l0.2 0.2M237.0 520.9l0.2 0.4M268.6 508.6l-0.4 0.4M257.3 505.9l-0.5 0.2M251.2 528.7l-0.1 0.0M224.8 505.6l0.4 0.1M228.6 491.0l-0.3 0.7M239.6 510.5l1.0 0.1M261.2 486.8l0.9 0.2M251.9 519.4l0.8 0.6M254.7 483.8l0.4 1.0M243.3 525.7l-0.1 0.2M238.4 511.4l-0.2 0.1M253.7 516.2l-0.3 0.7M220.5 501.9l-0.2 0.2M234.0 503.4l0.1 0.1M258.4 513.0l-0.7 0.3M255.1 512.2l-0.2 0.6M252.6 507.0l-0.1 0.7M264.9 516.9l0.5 0.5M229.5 502.8l-0.5 0.1M227.4 514.7l-1.0 0.6M247.0 486.5l-0.5 0.6M269.8 499.1l-0.2 0.2M228.7 498.4l0.7 0.6M248.6 527.6l0.0 0.5M238.6 484.1l-1.2 0.0M248.8 492.8l-0.3 0.5M261.0 499.2l0.0 0.0M225.7 509.3l0.1 0.1M237.6 506.4l0.5 0.3M233.8 520.9l-0.0 0.5M247.0 508.4l-0.2 1.1M241.5 521.1l0.5 0.8M221.1 506.7l0.2 0.0M249.0 521.1l0.1 0.4M261.7 502.0l-0.3 1.1M231.8 489.9l-0.3 0.2M269.8 511.5l-0.1 0.7M265.4 515.0l0.3 0.7M239.3 530.4l0.1 0.3M254.4 498.0l0.4 0.4M253.5 504.6l0.8 0.6M259.7 513.4l-0.7 0.5M247.0 497.0l-0.4 0.1M251.7 489.0l-0.5 0.2M244.1 515.9l0.0 0.1M257.3 526.9l-0.2 1.0M255.3 520.6l0.0 0.1M242.5 531.0l-0.4 0.5M225.7 490.1l-0.7 0.1M268.0 513.4l0.3 0.1M256.9 520.0l-0.1 0.5M234.9 507.6l-0.4 0.5M235.9 528.2l-1.1 0.2M251.5 505.0l0.2 0.5M243.7 528.4l-0.2 0.0M218.7 504.7l-0.5 0.2M258.7 516.6l-0.1 0.9M250.1 518.5l-0.0 0.0M238.4 500.5l-0.4 0.4M255.7 500.1l-0.3 0.1M252.0 508.0l0.5 0.1M260.1 502.9l-0.0 0.0M225.3 503.8l0.7 0.2M230.4 510.7l-0.7 0.4M250.9 511.6l0.3 0.1M227.6 486.0l-1.0 0.1M261.3 522.2l-0.4 0.4M265.0 505.1l0.2 0.1M258.8 520.7l-0.4 1.0M247.2 505.9l-0.3 0.0M242.4 530.2l0.9 0.3M260.4 493.7l-0.0 0.0M228.4 492.9l-0.5 0.4M254.0 513.9l-0.0 0.1M255.0 513.9l-0.5 0.4M228.5 526.0l-0.1 0.3M222.2 495.9l0.2 0.5M221.4 493.4l-0.1 0.2M231.6 498.3l0.1 0.9M263.3 508.1l0.4 0.6M252.4 489.4l-0.1 0.3M243.9 524.5l-0.0 0.3M246.4 487.1l0.1 0.3M257.6 484.3l-0.3 0.1M263.5 514.8l1.0 0.1M238.0 491.9l0.1 0.8M253.1 519.2l-0.6 0.5M237.3 501.4l0.2 0.2M265.3 509.8l-0.3 1.1M220.8 497.2l0.1 0.6M241.1 523.3l-0.6 0.1M260.3 505.9l0.6 0.4M226.4 504.6l-0.9 0.2M248.5 508.1l-0.4 0.6M233.9 490.4l0.5 0.1M255.1 488.1l0.1 0.0M260.7 494.7l0.7 0.4M266.5 494.5l-0.4 0.9M259.9 515.1l-0.3 0.2M259.8 525.0l-0.0 0.0M262.8 513.4l-0.7 0.1M250.7 499.7l-0.1 0.2M239.6 514.6l0.0 0.1M232.8 488.0l-0.9 0.3M266.5 516.9l-0.2 1.1M237.1 506.1l-0.1 0.2M263.9 503.8l-0.6 0.2M234.7 524.8l-0.3 0.4M241.9 522.6l-0.2 0.2M254.6 521.1l-0.0 0.1M241.1 531.5l0.6 0.7M242.0 513.0l0.0 1.0M245.6 500.0l-0.4 0.6M223.2 508.1l-0.0 0.2M241.4 496.8l0.6 0.8M227.4 497.9l-0.4 0.5M230.0 518.8l0.4 0.0M270.1 512.2l-0.8 0.2M257.9 526.2l0.6 0.7M232.6 489.0l-0.2 0.2M254.4 488.9l-0.7 0.7M244.1 522.6l0.0 0.1M260.1 490.3l0.0 0.7M249.7 500.9l0.4 0.7M226.4 501.7l0.2 0.2M237.2 492.2l-1.1 0.2M258.2 503.1l-0.0 0.1M240.0 511.3l-0.0 1.1M245.8 489.8l0.7 0.9M267.6 513.6l-0.1 0.0M264.8 499.3l0.2 0.5M229.7 493.6l-1.0 0.4M243.5 507.9l-0.6 0.5M240.6 499.7l1.0 0.3M232.7 519.4l-0.2 0.0M240.3 500.8l-0.2 0.9M257.2 524.9l-1.0 0.1M251.1 480.8l-0.4 0.5M255.3 484.5l-0.3 0.7M251.3 519.5l0.5 0.9M247.4 491.7l-0.1 0.0M258.6 511.4l1.1 0.3M234.2 518.5l-0.6 0.3M232.7 492.9l0.1 1.1M241.3 524.6l0.0 0.2M256.0 520.6l-0.4 0.3M268.4 515.0l1.0 0.4M265.0 511.7l0.3 0.1M224.4 516.6l0.1 0.5M229.0 516.7l0.7 0.9M248.1 514.6l-0.1 0.4M243.7 500.5l-0.2 0.4M257.6 499.3l0.1 0.4M230.9 502.8l-0.3 0.4M240.9 491.9l0.1 0.7M240.4 484.8l0.0 0.1M252.3 512.3l0.2 0.1M236.5 492.6l-0.3 0.1M244.9 517.0l0.7 0.4M232.9 499.4l-0.7 0.5M226.1 514.6l-0.2 0.5M258.0 514.4l-0.4 0.1M239.6 499.7l-0.8 0.7M233.3 517.2l-0.0 0.3M247.0 514.9l-0.3 0.5M269.5 498.7l-1.0 0.4M246.8 502.2l1.1 0.5M259.1 490.9l-0.2 0.5M235.6 510.3l-0.0 0.3M262.4 522.8l-0.2 1.0M239.1 525.0l0.6 0.8M250.0 526.2l-0.1 0.4M260.7 514.6l-0.1 1.0M247.9 516.6l0.6 0.8M247.0 526.6l0.1 0.0M239.8 487.7l0.5 0.2M260.0 499.7l-0.1 0.5M239.1 505.5l-0.6 0.3M236.5 517.2l0.9 0.6M253.4 492.0l-0.2 0.6M246.1 510.3l-0.1 0.1M241.4 504.3l0.2 0.0M232.8 488.7l-0.8 0.0M241.6 505.3l-0.6 0.1M248.0 501.5l-0.5 0.3M248.1 522.2l0.7 0.2M248.9 527.4l0.7 0.4M228.1 490.7l-0.4 0.1M237.8 490.5l-0.9 0.3M246.3 485.3l0.7 0.8M269.8 500.7l0.5 0.9M234.1 483.9l-0.4 0.3M226.0 520.1l-0.3 0.6M247.9 502.3l0.6 0.0M264.4 519.6l1.0 0.3M246.1 515.2l-0.6 0.6M227.4 516.6l-0.2 1.1M225.2 504.8l0.1 0.5M241.4 497.5l-0.6 0.9M246.0 486.3l0.1 0.1M260.8 516.3l-1.0 0.4M253.9 526.6l-0.5 0.3M251.8 496.8l0.3 0.5M242.0 488.2l0.6 0.8M231.3 516.4l0.4 0.4M240.3 490.4l-0.3 0.5M270.4 507.6l0.4 0.5M256.2 502.6l0.2 0.0M258.5 525.7l-0.0 0.1M242.0 524.4l0.3 0.2M259.1 495.8l0.5 0.5M259.1 518.1l-0.0 0.1M230.6 501.3l-0.5 0.5M261.9 494.6l0.2 0.1M237.8 482.9l0.5 0.1M240.9 523.4l-0.6 0.3M243.8 482.6l0.5 0.6M231.7 518.5l-0.1 0.8M256.5 526.8l0.3 0.2M259.9 484.4l0.5 1.0M269.7 511.7l0.0 0.0M245.4 495.1l-0.0 0.0M255.8 516.8l0.5 0.1M231.7 524.4l0.0 1.2M250.7 496.6l-1.0 0.3M227.0 498.1l0.3 0.2M246.8 517.2l-0.1 0.4" stroke="#3a2cc0" stroke-width="1.1" stroke-linecap="round" fill="none"/>
<circle cx="56.2" cy="573.8" r="29.5" fill="#d8d8ee"/>
<circle cx="56.2" cy="573.8" r="26.7" fill="#fafafd"/>
<path d="M58.5 553.6l-0.0 0.0M67.2 558.1l-0.0 0.1M50.5 557.6l-0.1 0.2M65.6 585.2l-0.0 0.0M42.8 559.2l-0.1 0.1M37.8 576.5l-0.0 0.0M42.5 572.9l-0.0 0.1M59.7 586.3l-0.1 0.0M73.0 558.0l0.1 0.2M82.1 575.2l-0.0 0.0M37.4 571.6l-0.1 0.1M74.1 562.4l0.3 0.1M67.3 564.0l-0.2 0.3M61.5 569.0l-0.1 0.0M63.3 552.7l0.0 0.4M65.0 548.5l-0.2 0.0M54.1 551.9l0.1 0.2M43.7 573.2l0.2 0.2M69.0 555.3l-0.1 0.2M36.5 564.1l0.2 0.0M68.2 571.5l0.0 0.0M55.4 598.2l0.3 0.0M63.6 549.9l0.3 0.3M43.7 586.8l-0.2 0.0M52.4 565.7l0.1 0.0M75.4 588.9l0.3 0.3M51.1 563.2l-0.1 0.1M48.9 572.6l-0.3 0.2M36.7 562.9l0.0 0.0M45.7 594.4l-0.0 0.1M57.3 592.3l0.0 0.0M46.8 576.9l-0.0 0.0M56.1 549.8l0.1 0.2M77.3 572.7l0.1 0.4M54.6 600.0l0.1 0.1M47.5 593.7l-0.3 0.1M67.3 598.2l-0.1 0.2M61.4 566.7l-0.1 0.3M59.9 552.0l0.2 0.0M53.7 594.6l0.1 0.2M36.1 568.9l-0.1 0.0M54.4 585.2l0.3 0.1M64.6 569.2l0.2 0.3M73.7 553.7l-0.1 0.0M68.5 579.3l-0.0 0.0M55.8 592.3l-0.0 0.1M67.3 584.6l0.0 0.0M75.4 588.3l-0.0 0.0M64.5 550.5l-0.1 0.1M59.5 566.9l0.4 0.1M60.8 599.1l-0.0 0.0M74.1 585.9l0.2 0.1M50.1 562.4l0.0 0.1M70.9 558.3l-0.1 0.2M79.7 583.3l-0.2 0.1M40.3 563.6l-0.2 0.1M52.9 592.8l0.0 0.0M31.3 570.5l-0.1 0.1M35.7 572.7l-0.0 0.2M33.9 572.5l-0.2 0.1M60.9 552.1l0.1 0.0M50.0 588.5l0.0 0.1M79.2 573.5l0.1 0.3M65.8 568.9l-0.2 0.4M38.3 591.6l-0.1 0.1M71.1 592.8l0.0 0.1M33.8 579.0l-0.3 0.1M57.4 562.6l0.0 0.0M61.0 588.7l0.2 0.1M70.9 589.8l0.0 0.1M50.2 559.6l0.3 0.0M56.8 548.6l0.1 0.1M52.8 564.1l-0.3 0.0M50.4 572.0l0.1 0.1M66.4 572.6l-0.0 0.0M79.1 569.6l-0.2 0.2M61.8 585.7l0.2 0.0M66.4 579.5l0.3 0.2M59.7 559.9l-0.1 0.0M66.7 586.6l-0.0 0.0M61.0 554.5l-0.1 0.1M64.4 576.0l-0.1 0.2M57.2 561.9l0.1 0.1M69.5 555.6l0.3 0.1M74.0 578.2l0.2 0.2M51.9 552.0l0.0 0.0M41.9 556.5l0.3 0.0M69.1 564.1l-0.0 0.3M75.6 564.0l-0.0 0.3M51.3 574.1l-0.0 0.2M47.6 588.3l0.1 0.1M55.7 548.5l0.0 0.3M69.8 587.5l-0.2 0.2M47.8 581.0l-0.2 0.0M47.2 560.8l0.2 0.1M35.2 588.1l-0.1 0.3M35.1 563.9l0.4 0.2M38.0 563.7l0.0 0.0M49.8 551.8l-0.1 0.1M32.7 575.7l-0.2 0.3M76.3 586.4l0.2 0.0M49.0 572.2l0.1 0.3M61.2 568.3l-0.0 0.3M75.1 590.8l-0.1 0.0M58.8 583.7l0.1 0.1M49.3 548.7l-0.1 0.4M36.7 583.5l0.2 0.0M65.9 575.2l-0.0 0.0M50.2 592.4l-0.0 0.0M73.2 588.0l0.0 0.0M39.9 576.0l-0.0 0.0M59.3 580.5l-0.1 0.4M57.8 564.9l-0.0 0.1M78.6 570.6l-0.0 0.1M38.2 581.4l0.1 0.2M70.9 583.2l-0.2 0.0M32.9 572.9l-0.2 0.2M39.5 589.2l0.2 0.1M67.9 575.0l0.1 0.1M55.9 569.9l-0.0 0.0M81.1 565.8l-0.1 0.3M73.0 567.3l-0.0 0.0M60.4 552.5l-0.0 0.0M73.1 583.5l-0.1 0.3M64.9 592.1l-0.1 0.0M67.4 549.9l-0.1 0.2M40.2 582.8l0.0 0.0M54.1 584.8l-0.1 0.0M70.5 559.6l-0.3 0.1M51.9 556.3l0.2 0.2M46.9 596.5l0.3 0.0M46.9 588.6l-0.1 0.4M72.3 573.1l-0.4 0.1M36.3 570.5l0.3 0.2M32.8 575.9l-0.2 0.1M49.5 555.0l0.2 0.1M66.8 578.2l-0.2 0.0M67.9 587.1l0.2 0.0M57.9 586.2l-0.2 0.3M78.9 575.7l-0.0 0.2" stroke="#b6b2e0" stroke-width="0.9" stroke-linecap="round" fill="none"/>
<path d="M31.4 570.1l0.4 0.7M63.7 555.0l0.0 0.4M70.9 551.7l0.0 0.0M32.2 575.1l-0.4 0.1M30.1 570.7l0.2 0.0M47.4 556.9l-0.7 0.1M38.4 576.9l0.2 0.1M47.6 593.8l0.4 0.1M67.7 555.4l-0.5 0.1M41.5 563.7l-0.2 0.2M34.9 559.1l0.6 0.2M53.8 599.3l-0.2 0.6M66.1 551.7l0.1 0.4M43.4 589.8l0.4 0.5M60.3 549.0l-0.6 0.0M47.3 592.4l0.7 0.4M47.9 550.7l-0.0 0.0M83.0 574.4l-0.1 0.0M43.1 554.3l-0.1 0.8M44.6 559.6l-0.4 0.7M74.0 564.1l-0.3 0.2M40.3 588.4l0.2 0.4M53.2 549.6l0.3 0.0M32.2 562.2l-0.1 0.4M40.7 552.6l0.0 0.2M56.2 551.5l0.6 0.2M35.6 575.9l0.3 0.7M67.1 552.3l0.1 0.4M37.5 554.6l0.6 0.6M43.5 586.9l0.2 0.1M47.5 556.9l0.0 0.0M39.8 553.1l-0.3 0.7M76.0 556.3l0.7 0.4M49.5 554.3l0.5 0.1M46.7 591.4l0.1 0.2M48.3 593.4l0.1 0.8M36.5 588.0l-0.7 0.1M50.6 554.8l-0.8 0.2M81.5 572.7l0.3 0.0M60.8 552.6l-0.2 0.4M33.5 577.0l0.0 0.4M44.8 551.9l-0.8 0.3" stroke="#5e58b8" stroke-width="1.1" stroke-linecap="round" fill="none"/>
<path d="M73.9 559.4l-0.4 0.0M70.6 586.9l-0.1 0.1M32.3 575.4l-0.2 0.5M78.2 559.5l-0.2 0.2M81.7 573.2l0.5 0.0M34.5 570.4l-0.2 0.1M80.7 571.8l-0.3 0.4M42.8 594.2l0.6 0.1M49.9 593.4l0.1 0.3M61.2 599.0l-0.1 0.2M47.1 552.6l0.6 0.0M38.0 557.5l-0.3 0.1M78.4 575.1l0.1 0.3M69.0 550.7l0.1 0.1M82.0 580.0l0.2 0.2M80.6 564.1l0.1 0.2M43.1 550.5l-0.1 0.1M44.8 589.2l-0.3 0.3M31.7 574.3l0.1 0.2" stroke="#6e68c0" stroke-width="1.0" stroke-linecap="round" fill="none"/>
<circle cx="119.3" cy="573.6" r="29.2" fill="#5244c6"/>
<circle cx="119.3" cy="573.6" r="27.599999999999998" fill="#d4d2f8"/>
<path d="M108.1 550.0l0.4 0.7M109.3 580.6l0.6 1.3M126.3 590.6l0.7 0.8M120.6 564.7l0.0 0.3M106.0 556.2l0.3 0.3M114.3 588.0l-1.5 0.5M123.6 557.5l0.0 0.4M94.2 580.0l0.7 0.2M127.5 596.6l0.5 0.7M140.2 580.7l-0.1 1.4M115.2 551.0l0.3 0.3M114.5 570.2l-1.3 0.3M103.3 574.3l1.0 0.2M120.6 564.6l1.2 0.4M96.1 578.0l0.5 1.7M129.8 562.8l-0.1 1.0M96.4 581.0l-0.9 1.2M119.0 592.5l-0.1 1.0M143.2 576.0l0.0 0.3M131.5 557.9l-0.9 1.0M101.1 555.9l0.6 0.1M130.2 591.8l0.0 0.0M126.6 582.0l-0.1 0.8M116.4 574.2l-0.0 0.5M124.6 577.0l0.6 0.3M128.3 589.3l1.2 0.7M130.1 563.0l1.7 0.4M137.8 584.4l-0.6 0.6M127.2 567.1l-1.0 1.3M138.9 558.8l0.2 0.9M128.8 560.3l0.0 0.0M122.1 583.2l-0.5 0.1M103.5 594.6l-0.4 0.6M132.0 583.5l1.0 1.4M96.3 586.1l0.1 0.1M125.2 569.3l-0.8 0.7M114.2 597.3l0.4 1.7M95.2 564.4l-0.7 0.1M111.1 552.4l-0.0 0.0M110.5 552.1l0.1 0.1M137.2 581.7l1.4 0.5M96.4 587.1l-0.5 0.6M126.4 589.4l-0.5 1.5M131.1 564.1l1.2 0.1M111.1 553.8l-1.2 0.8M102.3 556.5l1.6 0.7M115.2 566.5l1.0 0.6M110.4 597.8l0.6 0.7M93.5 573.0l0.9 1.3M116.0 553.8l-1.6 0.3M119.2 554.0l0.4 0.1M114.0 566.2l-0.3 0.6M101.0 589.3l-1.2 0.6M100.9 580.0l-1.7 0.1M113.5 568.9l-0.1 0.0M135.3 588.1l1.1 0.8M115.1 563.6l-1.7 0.5M104.7 551.6l-0.7 0.5M130.9 550.6l-0.1 0.1M103.8 589.6l0.1 0.3M109.7 576.3l0.0 0.2M117.5 561.5l-0.2 0.0M104.8 557.9l0.9 0.7M99.4 567.3l0.7 0.5M130.1 555.7l0.4 0.4M123.7 569.4l0.1 0.9M118.1 574.2l1.4 0.5M105.5 577.6l0.0 0.1M140.4 585.4l-0.3 0.2M116.3 580.3l0.5 0.8M119.6 554.7l-1.6 0.8M114.2 571.3l1.1 0.5M136.5 592.0l0.1 0.0M136.3 573.2l-0.2 1.1M130.6 584.0l0.5 1.2M123.8 551.9l0.7 0.4M128.9 568.0l0.5 1.0M123.5 573.5l-0.5 0.7M95.3 569.2l1.0 0.3M109.9 594.7l-0.5 0.6M132.7 592.6l-0.6 0.8M118.6 547.7l0.9 0.9M124.1 560.7l-0.5 0.2M138.8 568.1l-1.6 0.1M122.5 557.7l0.1 1.0M125.1 557.5l-0.4 0.1M109.3 572.3l0.4 0.3M138.5 579.5l-0.3 0.7M125.1 554.8l-0.1 0.1M117.4 577.0l1.3 0.7M132.8 589.0l0.5 1.1M136.1 556.1l-1.7 0.2M98.0 589.3l-0.4 0.3M110.2 590.6l-0.2 0.1M136.2 559.8l-0.2 0.7M106.8 585.1l-0.5 0.6M113.7 549.3l0.0 0.0M130.2 569.4l-0.6 0.4M119.8 576.5l0.2 1.1M122.0 574.6l1.0 1.2M119.3 560.1l0.2 0.7M115.6 559.9l0.4 0.8M120.7 591.0l-0.6 0.6M134.1 579.0l-0.1 0.4M104.2 586.5l0.1 0.3M124.1 568.8l-0.2 0.0M100.8 567.1l0.3 1.1M130.5 563.5l0.4 0.1M134.2 559.4l-0.5 0.5M109.4 593.4l-0.3 1.6M127.6 586.8l-0.9 1.3M96.2 578.5l1.1 0.4M108.7 593.1l0.2 0.3M116.6 596.1l-1.0 1.3M113.5 577.1l-0.4 0.3M115.6 555.4l0.0 0.1M122.6 596.4l0.2 1.6M126.1 555.4l-0.0 0.0M103.5 584.9l1.5 0.3M131.2 590.0l0.5 0.5M105.3 576.7l1.0 0.6M114.0 568.2l-0.2 0.0M121.7 587.5l0.4 0.8M126.2 568.8l-0.3 1.1M118.5 589.4l0.3 1.6M122.4 555.4l0.6 0.1M126.4 557.6l0.4 1.1M140.0 579.0l-0.1 0.2M97.9 585.8l0.6 0.7M108.1 589.9l0.2 0.6M139.0 563.5l-0.6 0.0M103.6 577.0l-0.6 0.3M114.5 563.5l-0.1 0.5M133.1 565.3l-1.0 0.2M108.6 590.2l-1.2 0.3M128.3 555.7l-0.1 0.2M129.8 555.1l-0.2 0.5M120.9 554.4l1.0 1.5M122.4 551.9l-1.1 0.6M99.8 590.8l-1.2 0.4M102.0 581.1l1.6 0.2M129.3 555.7l0.2 1.4M136.0 575.8l0.8 0.8M106.7 590.0l-0.7 0.2M121.6 575.6l-0.7 0.4M115.0 575.3l0.0 0.0M123.9 570.1l0.5 0.7M108.1 568.0l-0.5 1.0M127.4 572.8l0.1 0.1M116.3 585.5l1.4 0.1M115.7 596.3l-1.2 0.8M139.4 576.8l-1.0 0.5M105.5 563.1l-0.8 0.5M108.1 588.6l0.0 0.3M108.0 552.1l-0.0 0.0M100.0 586.7l0.8 0.4M111.4 555.8l0.0 0.0M116.2 563.2l-0.3 0.9M117.8 564.8l-1.3 0.1M127.3 565.4l-0.4 0.5M112.5 552.5l0.5 1.6M102.5 580.5l-0.2 0.2M131.5 564.3l-0.2 0.1M133.9 587.9l0.6 0.5M126.3 595.1l-0.8 0.9M123.1 577.9l-0.0 0.1M115.1 554.4l-1.4 0.3M105.7 553.6l-0.0 0.5M140.0 582.0l-0.6 1.0M101.4 572.3l-0.7 0.2M135.9 593.6l-1.2 1.1M136.8 572.0l0.8 0.4M102.8 574.6l-0.4 0.3M131.3 571.3l0.9 1.2M121.6 596.1l0.5 0.6M106.3 576.1l-1.4 0.9M128.7 568.8l0.8 0.1M118.1 554.0l-1.8 0.2M113.7 561.2l0.0 0.1M101.2 587.9l0.2 0.3M94.9 567.5l-0.1 0.2M107.7 578.9l-0.6 0.4M95.9 582.3l0.5 0.6M133.9 571.8l-0.1 1.2M108.6 591.8l0.4 1.5M98.1 565.7l-0.3 1.2M111.4 580.1l0.2 0.5M142.5 575.7l-0.1 0.9M117.4 567.0l1.2 0.5M143.3 579.9l-0.0 1.7M130.1 560.4l0.4 0.7M121.5 555.7l-1.1 1.4M119.2 554.5l-0.6 0.6M104.2 565.2l-1.7 0.4M101.2 565.4l1.0 0.3M131.1 568.0l-0.3 0.3M116.1 559.8l-0.4 1.3M143.2 578.5l-0.0 0.4M112.3 592.1l-0.2 0.2M130.9 579.1l-0.3 0.7M121.1 551.0l0.4 1.0M131.9 590.1l-0.2 0.4M114.3 565.0l-1.0 0.1M138.5 563.4l1.0 0.8M107.0 562.8l-0.8 1.1M114.0 562.4l-1.6 0.2M95.9 583.9l-0.6 0.0M124.0 585.9l0.0 0.3M121.1 596.3l1.1 0.1M100.5 585.9l0.6 0.6M120.1 576.8l-0.6 0.3M112.1 598.3l0.4 0.9M130.1 586.8l-1.4 0.6M129.8 550.4l0.1 0.1M134.0 589.3l-0.1 0.7M116.4 561.5l-0.2 0.7M134.3 591.6l1.2 0.8M120.5 556.1l0.1 0.4M133.5 590.6l0.4 0.9M110.0 583.7l1.2 0.7M109.8 577.9l-0.3 0.1M120.7 584.1l-0.3 1.4M144.4 578.6l-0.9 1.2M103.8 581.9l0.5 0.1M129.1 563.3l-1.4 0.5M128.1 568.8l0.4 1.5M114.4 585.8l1.0 0.1M107.7 569.8l0.8 0.8M130.3 594.5l-0.7 0.3M133.0 588.3l0.1 0.2M114.3 554.4l0.3 0.3M115.1 548.5l0.5 0.9M122.6 591.4l-0.1 0.5M103.8 561.6l0.2 0.0M110.5 578.8l-0.2 1.1M101.6 555.9l-0.5 1.3M137.9 590.1l-1.0 0.2M128.5 556.2l0.1 0.3M97.0 576.3l-1.3 1.0M93.6 570.7l0.0 0.0M101.8 582.4l-0.3 0.3M141.6 577.2l1.3 0.9M110.3 569.6l-0.1 1.4M123.6 599.3l0.3 0.0M101.2 561.4l-0.5 1.6M121.0 579.0l-0.1 0.6M106.0 583.8l-0.5 0.2M112.2 554.9l1.0 1.3M118.8 588.2l1.0 0.7M113.7 558.5l1.0 0.4M109.0 590.4l-0.0 0.0M142.4 580.4l-0.1 0.1M122.2 590.7l-0.5 0.3M127.0 571.4l-0.1 0.0M98.3 557.9l-1.1 1.3M103.8 594.5l-0.5 0.1M122.7 548.4l0.6 0.4M121.9 553.6l-0.8 0.2M109.0 577.1l1.0 1.2M117.5 598.7l-0.8 0.6M119.0 574.6l1.4 0.5M144.5 566.9l1.1 1.3M104.3 579.5l-1.4 0.4M113.1 560.8l0.3 0.1M118.3 585.2l-0.1 0.6M124.7 597.9l0.0 0.0M139.0 574.8l1.0 0.1M137.3 576.5l-0.4 0.9M124.4 597.4l-1.5 0.1M143.2 562.7l0.4 0.9M99.1 585.8l0.4 0.2M100.6 579.5l-0.6 0.0M135.9 574.0l-0.2 0.1M98.8 571.2l-0.5 0.3M99.0 557.4l-1.0 0.1M108.0 591.8l-0.8 0.9M111.8 558.9l-0.4 0.5M120.2 582.0l-0.1 0.3M116.4 587.8l0.3 0.7M138.4 570.5l-0.1 0.7" stroke="#5040cc" stroke-width="1.5" stroke-linecap="round" fill="none"/>
<path d="M96.4 566.5l-0.1 0.9M112.5 582.8l0.1 0.1M118.1 578.8l0.3 0.9M136.7 588.9l0.2 1.0M97.8 583.7l-0.1 0.2M106.3 569.5l-0.4 0.5M120.1 578.4l-0.2 0.0M119.1 599.3l0.7 0.1M99.3 582.6l-1.3 1.0M116.1 580.6l0.0 0.0M116.8 594.4l-0.2 0.1M116.5 598.5l-0.2 0.7M125.0 576.4l0.8 0.7M136.9 580.3l-0.0 0.0M115.3 590.2l-0.4 1.2M111.7 557.8l0.5 0.9M94.5 580.0l-0.1 1.0M110.0 557.6l0.0 1.1M97.8 558.0l0.5 0.7M143.0 569.8l-0.1 0.5M126.7 589.1l0.2 0.7M118.6 592.0l-0.0 0.2M107.2 554.8l0.3 0.2M137.0 577.9l-0.4 0.6M101.8 562.6l0.1 0.0M93.7 572.5l-0.5 0.6M118.7 583.2l-0.6 1.2M113.2 578.4l0.8 0.9M121.5 556.9l-0.6 0.2M131.2 575.4l-1.1 0.4M131.5 581.0l0.3 0.8M144.5 577.6l-0.0 0.4M139.0 577.6l-1.2 0.3M135.0 554.3l-0.0 0.1M111.7 592.4l0.1 0.4M141.8 583.8l-0.3 0.4M94.9 578.2l1.0 0.5M122.0 598.8l-1.3 0.9M105.3 586.3l0.3 0.5M144.4 566.0l-1.5 0.0M97.7 575.0l-0.7 0.2M140.0 562.0l0.4 0.5M115.4 563.6l0.2 0.2M139.2 589.4l-1.4 0.0M96.3 573.0l-0.4 0.6M109.9 572.4l0.4 0.4M105.8 590.5l0.3 0.3M135.9 556.9l-1.3 0.3M125.6 591.1l-1.2 0.7M121.8 591.9l-0.0 0.0M120.2 596.5l-0.4 0.7M101.9 565.3l0.1 0.1M118.1 550.2l0.3 1.3M129.7 554.1l-1.4 0.9M144.3 580.0l0.2 1.3M118.6 565.3l-0.0 0.1M117.5 558.2l0.2 0.4M127.1 553.8l0.7 1.0M128.7 595.5l-0.4 1.2M99.6 556.0l-0.5 0.6M102.4 562.8l0.3 0.4M126.6 550.7l-1.2 0.1M102.6 573.1l-0.7 0.9M140.9 565.6l0.2 0.4M141.9 580.1l0.2 0.7M137.0 579.7l-0.4 0.1M118.3 550.4l-0.5 0.9M119.4 595.4l-0.4 1.6M103.5 572.1l-1.0 0.3M107.7 591.6l0.3 0.1M132.8 561.6l-0.3 0.2M106.6 576.0l-0.8 0.6M106.4 583.8l0.3 0.2M113.9 559.8l0.6 0.2M94.0 581.3l0.2 0.6M141.5 569.6l0.1 0.7M120.9 583.9l0.1 1.1M133.7 584.9l0.9 0.5M107.2 591.6l-0.5 0.4M113.8 578.6l0.8 0.7M122.8 564.3l-1.5 0.1M106.3 588.2l-0.3 0.5M104.2 590.4l0.0 0.7M110.9 570.1l0.0 0.5M128.9 590.3l-0.5 0.7M97.5 573.7l0.4 1.6M119.8 576.0l-0.3 1.2M106.9 584.9l0.2 0.4M125.7 549.7l0.6 0.7M110.0 576.0l-0.6 0.7M144.6 572.1l-0.4 0.1M137.8 588.8l1.1 0.4M129.4 593.5l0.1 0.0M132.2 559.5l0.3 1.6M122.0 561.3l-0.4 0.5M104.8 576.9l0.4 0.3M117.7 585.0l-0.6 0.2M97.1 564.7l-0.1 0.2M143.9 566.1l-0.5 0.3M129.6 554.9l0.6 0.1M113.0 555.0l-1.3 0.2M132.9 551.0l0.7 1.4M143.1 574.0l0.8 0.2M112.7 576.2l-0.6 1.2M121.5 586.6l-0.7 0.6M133.9 575.3l-0.5 0.1M114.9 590.9l-1.3 0.5M103.0 588.0l0.1 0.0M104.6 588.9l0.1 0.0M126.2 564.5l0.1 0.0M131.8 580.4l-0.3 1.1M115.0 592.2l0.5 0.9M135.6 586.9l1.6 0.0M124.3 592.8l0.6 0.4M117.4 594.8l-1.1 0.9M137.0 570.7l-0.1 0.6M114.8 592.0l-0.1 0.0M119.0 558.5l-0.1 0.4M115.7 555.2l0.4 0.6M127.6 573.8l-0.1 0.0M101.9 586.7l1.6 0.2M126.3 598.7l0.2 1.0M113.0 568.8l-0.0 1.3M124.9 551.5l-0.1 0.2M103.3 583.9l1.3 0.2M135.3 585.6l0.2 0.2M139.3 567.5l-0.7 0.8M96.5 563.8l0.6 0.1M123.3 593.8l0.5 1.5M120.8 587.3l-1.2 0.3M104.6 580.6l-0.2 0.2M117.1 561.1l-0.1 0.1M140.5 560.9l0.3 0.0M140.0 561.3l0.8 1.1M107.7 567.2l-0.4 0.6M134.7 592.7l-0.3 0.3M99.6 583.3l0.2 0.4M93.7 569.3l0.4 0.1M93.1 576.4l-0.0 0.0M113.1 565.9l0.2 0.1M92.8 573.6l-0.6 0.1M137.0 560.4l1.5 0.4M115.4 599.6l1.4 0.6M100.3 572.1l0.7 0.5M120.5 553.8l-0.9 0.1M127.3 568.1l-0.7 0.8M130.7 563.2l0.2 1.4M118.7 589.8l-1.0 0.5M116.0 573.8l-0.5 0.5M120.6 590.1l1.3 0.6M127.0 548.6l-0.1 0.2M95.8 586.0l0.6 0.0M125.8 582.5l0.7 0.8M141.9 583.8l0.1 0.3M134.8 585.0l0.4 0.8M131.6 583.5l-0.0 0.1M94.9 573.4l-0.1 0.2M114.1 568.0l0.0 0.0M108.3 571.5l0.1 0.2M127.3 567.4l-0.7 1.2M100.0 580.0l0.7 1.2M116.4 566.8l-0.1 0.2M108.0 575.0l0.1 1.1M117.7 558.5l0.8 0.1M136.3 563.5l-0.5 1.2M102.5 553.8l-1.2 0.2M122.8 564.2l0.8 0.9M97.7 561.6l-0.4 0.4M129.5 592.6l0.8 0.3M116.6 590.2l-0.5 1.0M114.5 569.2l-1.1 0.4M136.7 562.1l-0.7 1.4M118.8 552.4l0.0 0.0M114.2 549.6l0.1 0.3M96.5 582.4l-0.2 0.2M122.9 585.2l-0.3 0.3M132.4 562.6l0.6 0.4M135.2 592.8l0.7 0.1M115.5 577.2l1.3 1.1M130.2 560.2l-1.4 0.6M133.5 555.9l-0.2 0.9M115.0 553.4l-0.3 0.0M137.9 559.8l0.3 1.4M115.5 589.8l-0.4 1.6M120.5 598.1l-0.7 1.4M112.6 594.2l-1.4 0.5M111.5 550.5l-0.4 0.9M126.1 591.5l-1.6 0.1M133.4 577.4l1.0 1.0M128.9 594.8l0.5 0.3M128.6 572.0l-0.1 0.5M119.6 566.7l-0.2 0.4M134.0 569.6l-0.0 0.0M139.0 565.7l-1.2 0.3M140.6 582.1l0.1 0.3M136.0 559.8l0.1 0.1M115.5 568.4l0.1 0.1M130.1 593.9l1.1 1.2M115.0 597.0l-0.7 0.8M111.4 567.5l-1.3 0.8M108.0 571.4l0.4 0.1M134.0 571.0l0.6 0.7M142.4 578.7l-0.4 0.3M144.1 578.3l-1.1 0.7M125.7 598.8l-0.0 0.0M141.4 571.0l1.3 0.8M101.9 561.4l0.4 0.0M120.1 570.6l0.1 0.1M110.7 568.7l-0.6 0.5M124.4 548.7l-0.3 0.0M103.7 591.4l0.8 1.4M108.4 591.6l0.9 0.9M115.7 590.5l-0.9 1.1M126.3 582.1l1.0 0.8M108.9 553.6l-0.3 0.2M117.4 573.6l0.5 0.9M117.8 597.3l0.6 0.5M114.3 562.1l-0.3 0.6M127.5 576.2l-0.6 1.2M108.8 551.3l-0.7 1.1M130.1 556.1l-0.0 0.3M120.0 581.4l0.6 0.2M114.1 592.9l-0.4 0.2M138.4 558.6l0.8 0.6M121.5 580.0l0.3 0.2M123.6 573.8l-1.2 0.8M124.0 568.2l1.5 0.1M108.3 584.7l-0.5 0.7M114.4 582.7l1.1 0.4M123.6 570.7l0.7 0.6M117.4 592.1l-0.0 0.4M132.1 585.2l-0.2 0.1M96.0 567.9l-0.1 0.6M140.5 563.4l-0.5 0.0M101.5 575.4l-0.9 0.5M101.2 567.7l-0.6 0.2M126.9 581.8l0.1 0.1M138.9 570.7l-0.6 0.5M106.8 571.9l-0.7 0.2M100.3 586.4l-1.6 0.7M102.1 575.6l-0.6 0.4M124.7 591.2l0.3 0.4M121.5 558.0l-0.2 0.5M137.0 589.1l-0.9 0.8M110.7 566.5l-0.0 1.4M123.7 553.6l-0.1 0.3M142.3 581.9l0.4 0.0M101.3 586.7l-0.9 1.2M131.8 567.7l0.1 0.1M115.2 581.1l-1.0 0.1M112.9 574.0l-0.4 0.1M120.8 561.7l0.2 0.2M105.5 570.5l-0.3 1.2M120.8 583.1l-0.0 0.7M104.0 578.9l0.2 0.1M116.3 552.6l-0.6 0.9M107.5 572.6l-0.9 0.2M106.2 577.1l0.6 1.5M99.5 586.9l0.9 0.4M117.5 586.3l0.4 0.5" stroke="#2e18b8" stroke-width="1.3" stroke-linecap="round" fill="none"/>
<circle cx="182.6" cy="573.6" r="29.2" fill="#dcdaf0"/>
<circle cx="182.6" cy="573.6" r="26.8" fill="#f8f7fc"/>
<path d="M172.1 560.3l-0.1 0.0M193.4 559.7l-0.1 0.1M181.5 598.7l-0.1 0.3M160.4 570.4l-0.3 0.0M198.0 570.6l0.2 0.3M195.2 551.9l0.0 0.2M193.9 569.7l0.1 0.0M177.0 589.9l0.1 0.2M197.8 577.0l-0.0 0.0M157.5 576.5l-0.2 0.3M194.5 559.2l0.0 0.0M160.9 562.4l0.0 0.0M183.7 554.1l0.0 0.1M163.6 566.9l-0.2 0.3M204.1 584.7l0.1 0.1M169.3 593.5l0.0 0.0M172.5 575.3l0.0 0.0M169.5 585.8l0.1 0.0M198.6 562.3l-0.2 0.0M203.8 567.3l0.0 0.0M196.8 592.6l-0.1 0.1M193.6 591.8l-0.1 0.0M202.0 573.2l0.1 0.0M176.5 548.7l0.1 0.1M190.2 583.1l0.1 0.1M184.3 595.2l0.1 0.1M173.1 578.9l0.0 0.0M204.4 574.3l0.2 0.0M198.6 560.2l0.1 0.1M169.1 580.2l0.1 0.0M190.1 583.1l0.0 0.0M173.7 565.7l-0.0 0.3M159.7 574.0l-0.1 0.1M183.9 578.9l-0.1 0.1M180.6 581.0l0.3 0.2M158.5 577.9l-0.1 0.0M186.4 598.4l0.2 0.2M199.3 566.5l0.1 0.4M199.3 554.2l-0.1 0.1M186.3 574.8l-0.2 0.1M201.9 556.2l0.3 0.3M180.9 584.7l0.3 0.3M197.3 567.8l0.0 0.3M191.0 549.8l0.0 0.1M157.0 571.5l-0.1 0.3M188.9 591.5l-0.2 0.1M189.1 550.6l0.0 0.3M176.3 557.1l-0.0 0.3M202.0 555.7l0.1 0.2M159.3 565.9l0.1 0.1M181.7 597.4l-0.0 0.0M190.4 579.9l-0.1 0.3M178.4 579.8l-0.1 0.2M170.1 579.5l0.0 0.1M188.9 558.4l-0.1 0.2M184.4 587.5l-0.2 0.3M191.7 568.4l0.0 0.0M188.8 588.9l-0.2 0.3M174.1 568.1l0.0 0.1M178.9 593.4l-0.0 0.1M178.5 598.4l-0.1 0.2M176.2 586.7l-0.0 0.0M167.8 552.2l-0.0 0.0M205.6 578.6l0.1 0.1M169.9 555.8l0.2 0.2M198.2 564.2l0.1 0.3M198.0 557.8l-0.3 0.1M195.4 570.0l-0.0 0.1M194.1 584.1l-0.1 0.0M173.3 597.5l-0.3 0.0M168.1 592.9l0.0 0.0M196.8 579.6l0.2 0.2M159.4 581.7l0.0 0.1M179.5 578.5l0.1 0.4M207.9 569.1l0.2 0.1M187.9 564.6l0.1 0.0M202.4 585.1l-0.2 0.3M203.8 580.6l-0.1 0.0M205.7 586.2l-0.0 0.0M190.9 593.5l0.1 0.1M187.3 580.1l0.0 0.2M183.6 572.2l0.0 0.0M172.4 570.1l0.2 0.3M169.8 556.1l-0.0 0.1M172.2 549.6l0.3 0.1M176.0 583.5l-0.2 0.3M188.5 583.8l-0.0 0.1M156.2 572.5l0.2 0.0M185.8 584.0l-0.1 0.4M163.1 577.4l-0.2 0.3M197.6 570.4l0.3 0.2M162.9 558.3l0.3 0.1M189.7 580.1l0.1 0.1M164.0 584.5l-0.2 0.0M167.6 565.5l0.0 0.1M196.0 574.0l-0.2 0.2M175.7 557.3l0.0 0.1M183.8 600.1l-0.0 0.2M164.4 569.5l0.1 0.1M159.8 584.3l-0.1 0.0M170.6 577.1l-0.1 0.0M179.7 573.9l0.0 0.2M192.9 574.5l0.0 0.2M180.6 579.4l0.1 0.1M199.0 586.1l0.2 0.1M181.8 570.5l0.0 0.3M200.0 560.0l-0.2 0.1M186.5 597.3l-0.1 0.1M187.8 570.9l-0.1 0.0M159.7 567.3l0.2 0.1M187.6 574.1l-0.1 0.0M174.3 577.7l-0.2 0.0M191.1 562.6l0.0 0.1M163.7 561.7l-0.1 0.2M173.0 597.7l0.1 0.0M169.6 550.8l-0.1 0.0M199.4 567.3l-0.1 0.3M164.1 556.8l-0.1 0.0M194.2 564.2l-0.0 0.1M173.1 562.5l-0.3 0.0M162.8 590.6l0.3 0.1M180.5 570.8l0.0 0.0M191.0 573.6l-0.1 0.2M200.8 591.8l-0.1 0.2M181.7 584.0l0.0 0.0M188.2 591.5l0.1 0.3M190.2 583.0l-0.0 0.3M177.8 584.7l0.1 0.1M165.4 589.9l0.1 0.1M182.2 561.5l0.4 0.0M195.4 565.9l0.1 0.1M188.4 596.5l-0.3 0.1M162.9 588.0l-0.1 0.0M177.2 564.0l-0.3 0.0M163.3 585.9l0.0 0.0M175.3 573.0l0.0 0.3M170.5 567.2l0.2 0.1M157.4 572.1l0.2 0.1M167.1 578.9l0.1 0.1M171.3 570.5l0.1 0.2M199.8 566.8l0.0 0.0M167.1 571.8l0.2 0.1M170.8 563.1l-0.2 0.2M188.1 575.9l-0.0 0.2M170.7 569.1l0.1 0.3M167.2 585.3l0.2 0.2M181.2 573.8l-0.2 0.2M208.3 571.5l-0.1 0.2M180.4 595.8l0.0 0.1M198.0 587.5l-0.2 0.2M189.5 583.5l-0.0 0.0M202.0 556.8l-0.0 0.1M161.1 564.7l0.1 0.2M162.2 558.5l-0.2 0.2M158.5 566.6l-0.1 0.3M179.4 581.7l-0.0 0.1M194.9 571.2l-0.1 0.0M189.8 592.5l0.2 0.3M176.4 567.9l0.0 0.0M163.3 574.4l0.1 0.2M159.9 581.8l-0.1 0.1M184.8 569.6l0.0 0.0M201.2 567.8l-0.3 0.2M203.8 587.3l0.3 0.0M187.0 557.7l-0.3 0.1M168.5 573.8l0.0 0.0M164.0 568.6l0.2 0.1M195.4 580.6l-0.0 0.1M173.0 572.2l-0.1 0.0M205.8 563.0l-0.1 0.0M179.7 567.2l-0.3 0.0M192.2 575.9l0.1 0.0M204.4 564.5l0.2 0.3M202.2 574.9l0.0 0.0M201.5 563.1l-0.3 0.0M175.7 567.1l0.0 0.4M162.8 565.9l0.0 0.1M195.0 574.5l0.0 0.0M204.4 581.3l-0.3 0.0M188.5 563.0l-0.1 0.1M190.5 563.3l0.1 0.2M184.8 586.9l-0.2 0.2M204.0 571.3l0.1 0.2M165.0 563.1l-0.2 0.1M200.5 569.2l0.0 0.0M174.3 590.1l0.2 0.0M192.9 582.8l-0.3 0.1M197.9 587.0l0.0 0.0M176.9 592.2l0.1 0.2M201.7 582.0l-0.0 0.1M159.1 563.1l-0.2 0.1M159.8 570.6l0.0 0.3M168.8 587.8l-0.2 0.2M169.4 563.7l0.1 0.2M165.9 579.5l0.0 0.1M165.1 555.9l0.2 0.1M161.8 569.4l-0.1 0.1M198.6 574.7l-0.0 0.3M201.9 564.0l-0.1 0.1M185.2 564.4l-0.2 0.1" stroke="#b0acdc" stroke-width="0.9" stroke-linecap="round" fill="none"/>
<path d="M208.8 572.9l0.6 0.1M186.4 598.9l-0.0 0.3M194.3 586.8l-0.2 0.3M196.3 584.7l-0.1 0.0M198.1 556.9l-0.4 0.0M201.0 557.0l-0.6 0.4M203.2 564.4l0.1 0.2M173.6 549.5l-0.1 0.1M200.6 556.3l0.1 0.0M206.7 569.1l0.2 0.7M206.2 585.4l-0.3 0.1M206.6 570.2l-0.3 0.4M204.1 568.6l-0.1 0.2M188.2 592.2l0.8 0.0M198.6 584.5l-0.3 0.1M196.8 591.9l-0.0 0.0M175.2 548.5l0.1 0.2M202.6 584.8l0.5 0.7M199.8 561.8l-0.0 0.6M161.6 584.9l-0.7 0.0M198.4 554.2l0.2 0.1M200.0 563.3l0.0 0.0M157.9 576.4l-0.5 0.2M185.7 553.0l-0.0 0.4M201.7 567.8l-0.2 1.0M194.7 589.9l-0.1 0.3M198.3 589.7l-0.2 0.1M196.6 563.2l0.5 0.3M180.6 591.6l-0.5 0.1M167.5 565.1l0.6 0.1M199.5 578.7l0.6 0.4M165.5 554.4l0.1 0.4M177.9 556.5l-0.1 0.4M173.1 549.1l0.0 0.1M174.5 548.3l-0.1 0.0M195.8 551.4l-0.1 0.7M200.2 566.5l0.6 0.3M207.2 563.5l-0.3 0.4M200.0 557.7l0.6 0.6M199.1 587.0l0.0 0.0M205.3 560.8l-0.1 0.0M170.2 554.3l-0.3 0.9M191.8 549.9l-0.7 0.0M157.4 578.2l-0.2 1.0M197.9 559.9l-0.1 0.1M192.7 555.2l0.1 0.0M203.2 588.9l-0.6 0.5M174.3 550.5l-0.1 0.0M180.9 554.2l-0.2 0.2M160.7 561.6l-0.1 0.5M193.7 589.5l-0.6 0.4M204.0 587.5l-0.6 0.6M169.1 561.3l0.1 0.2M187.6 549.2l-0.4 0.5M205.6 576.8l-0.6 0.3M195.6 556.0l-0.0 0.0M204.6 576.0l0.1 0.2M169.2 556.2l0.6 0.4M206.2 585.6l-0.9 0.3M199.0 567.9l-0.4 0.4M160.0 569.4l-1.0 0.2M165.0 582.8l-0.0 0.1M157.0 568.0l-0.1 0.8M171.6 552.7l0.8 0.4M198.8 556.7l0.7 0.1M162.5 565.8l-0.3 0.7M192.9 558.9l-0.7 0.4M161.1 560.0l0.5 0.7M208.7 576.5l0.6 0.5M188.4 547.9l0.9 0.5M192.7 590.8l-0.2 0.8M180.4 547.4l-0.5 0.5M200.1 578.3l0.3 0.4M200.2 581.3l-0.0 0.1M178.7 553.5l0.3 0.1M204.1 569.3l0.5 0.3M202.5 590.5l-0.5 0.8M201.3 582.2l0.1 0.0M209.0 576.4l-0.6 0.7M208.6 575.7l0.4 0.1M171.3 596.8l0.6 0.2M196.0 590.6l0.2 0.1M207.9 571.9l0.1 0.7M205.4 573.5l0.6 0.2M173.5 553.1l0.3 0.8M203.7 582.4l-0.1 0.9M187.3 548.5l0.2 0.6M163.3 591.7l0.0 0.1M197.9 595.4l-0.1 0.0M166.0 566.6l-0.4 0.4M178.0 594.5l0.2 0.1M163.7 585.4l-0.1 0.3M178.6 547.9l0.0 0.0M162.6 563.2l0.1 0.6M163.4 586.9l0.1 0.7M204.3 582.3l0.2 0.0M205.6 563.5l0.0 0.1M199.9 559.9l-0.2 0.4M194.8 553.1l0.2 0.1M190.3 548.3l0.5 0.3M172.9 552.1l-0.2 0.4M160.2 559.4l0.3 0.9M160.6 562.3l-0.4 0.9M159.1 578.8l-0.2 0.1M170.3 551.7l0.4 0.7M200.2 554.2l0.0 0.0M194.4 559.0l0.0 0.5M206.5 569.1l0.1 0.1M200.0 563.9l-0.1 0.7M193.6 555.1l0.6 0.2M198.9 556.6l0.1 0.6M208.8 572.5l-0.2 0.4M207.9 579.7l0.4 0.6M199.0 591.7l-0.3 0.7M202.1 573.1l0.5 0.3M164.7 559.5l-0.1 0.4M184.2 595.1l-0.4 0.6M207.1 566.9l-0.2 0.8M167.3 551.8l-0.0 0.8M189.7 596.8l0.1 0.5M166.8 562.5l0.1 0.9M175.8 550.3l-0.1 0.3M204.8 581.1l0.3 0.0M192.4 558.9l0.1 0.1M191.7 549.2l-0.0 0.3M166.7 552.7l0.0 0.8M208.3 576.3l0.8 0.2" stroke="#6a60c0" stroke-width="1.1" stroke-linecap="round" fill="none"/>
<path d="M176.3 562.1l-0.1 0.0M159.9 575.2l-0.0 0.1M193.5 576.9l-0.7 0.1M180.8 579.1l-0.1 0.1M202.4 557.6l-0.5 0.4M186.9 549.7l0.2 0.5M204.7 575.4l0.1 0.8M186.6 556.1l-0.3 0.4M180.8 572.0l0.2 0.1M175.2 549.2l-0.2 0.6M175.9 565.9l0.3 0.3M183.0 556.4l-0.2 0.2M178.3 583.6l0.1 0.4M202.4 589.9l0.6 0.0M167.9 594.7l0.0 0.0M176.6 558.4l-0.4 0.3M162.4 581.4l-0.1 0.2M189.9 593.8l-0.0 0.0M191.8 588.4l0.4 0.1M171.2 582.4l-0.4 0.4M201.4 582.0l-0.5 0.0M195.4 572.4l0.2 0.2M183.6 584.2l0.3 0.3M191.4 551.9l0.6 0.1M173.7 563.1l0.7 0.0M191.5 583.6l0.4 0.5M206.6 565.0l-0.6 0.3M176.4 574.7l0.1 0.1M189.9 580.1l0.0 0.0M175.7 597.2l0.3 0.3M184.6 570.9l-0.3 0.3M207.3 578.3l-0.1 0.0M202.2 568.7l-0.1 0.2M204.5 577.9l-0.1 0.1M202.3 577.9l0.2 0.2M196.1 558.9l0.5 0.2M178.9 553.9l-0.4 0.1M178.9 568.5l0.1 0.2M165.4 581.7l0.5 0.2M195.2 578.1l-0.0 0.0M171.2 594.7l-0.2 0.2M194.1 593.6l-0.1 0.0M165.4 583.3l-0.1 0.1M191.7 554.9l-0.6 0.4M173.8 553.7l0.1 0.2M165.8 590.7l-0.1 0.2M198.2 562.6l-0.5 0.0M181.1 558.1l-0.4 0.0M174.8 558.6l-0.0 0.1M171.0 586.2l-0.1 0.1M189.5 593.8l0.1 0.7M200.2 575.8l-0.5 0.3M171.1 588.9l0.0 0.0M193.7 579.8l-0.1 0.1M178.2 593.0l-0.3 0.4M177.0 588.1l0.6 0.0M172.3 583.6l0.3 0.2M191.5 585.9l0.1 0.0M167.6 571.0l0.7 0.2M198.5 579.8l0.0 0.0" stroke="#5048a8" stroke-width="1.0" stroke-linecap="round" fill="none"/>
<circle cx="244.8" cy="573.6" r="29.2" fill="#6254cc"/>
<circle cx="244.8" cy="573.6" r="27.599999999999998" fill="#d6d4f8"/>
<path d="M239.8 590.5l-0.2 0.4M226.5 591.0l-0.3 0.7M250.4 596.5l-0.4 0.1M254.4 560.5l0.0 0.0M245.4 586.6l1.1 0.8M259.1 569.0l-0.4 0.3M234.6 567.9l-0.8 0.2M224.8 560.9l-0.1 0.8M240.4 555.8l-0.1 0.5M252.0 583.9l-1.0 0.1M256.2 574.9l-0.2 0.8M270.0 571.9l1.3 0.3M267.6 571.2l-0.6 0.1M229.6 557.6l-1.0 0.7M251.4 559.6l-0.8 0.6M259.5 569.9l-0.5 1.4M246.2 551.4l0.2 0.1M235.9 593.1l1.1 0.1M253.3 581.6l0.6 0.7M239.6 548.2l0.1 0.1M257.6 557.7l-1.2 0.3M255.7 585.3l0.6 0.5M239.3 597.7l-0.3 0.1M270.9 573.6l0.5 1.4M266.3 566.0l0.4 1.0M246.4 558.2l0.0 0.2M258.0 593.3l0.7 1.0M224.5 583.2l0.1 0.1M238.1 561.9l0.6 0.5M219.7 574.2l-0.4 0.6M225.6 581.1l0.5 0.2M224.3 558.0l-0.1 0.3M268.0 568.8l0.5 0.4M267.5 578.5l1.1 0.9M240.1 550.6l-0.1 0.4M264.8 578.2l0.9 0.0M246.3 563.7l0.2 0.9M251.8 583.3l-0.1 0.3M252.0 583.8l-1.5 0.3M260.2 586.6l0.0 0.1M244.6 595.1l1.6 0.1M241.3 588.9l-0.2 0.0M257.3 587.0l0.3 0.5M222.3 560.7l0.0 0.1M227.7 591.2l0.0 0.1M244.8 586.3l0.2 0.5M234.0 553.8l0.2 0.0M255.7 551.2l-0.2 0.2M242.2 566.8l-0.2 0.3M257.9 553.0l0.1 1.2M268.4 565.0l-0.5 0.9M231.1 590.8l0.7 0.3M251.7 577.7l-0.4 0.6M251.6 598.6l0.6 0.7M233.4 574.3l-1.3 0.0M256.1 564.5l-1.5 0.4M255.3 569.6l0.1 0.1M263.6 585.5l0.8 0.1M230.9 591.5l1.2 0.2M258.8 569.8l0.4 1.2M236.5 596.6l-0.4 0.0M234.8 575.5l-0.1 0.7M267.1 569.7l-1.4 0.0M252.3 558.9l-0.1 0.2M230.0 594.4l-0.3 0.0M227.9 574.2l-0.4 0.9M243.1 598.5l0.2 1.3M240.2 547.7l-0.0 1.0M246.6 561.0l1.4 0.2M236.9 552.0l-0.3 0.2M260.1 558.8l-0.9 0.2M249.0 568.9l0.8 0.5M236.6 559.2l1.5 0.3M267.4 584.5l0.9 0.8M234.0 566.5l0.2 0.4M231.1 570.7l-0.1 0.5M260.9 588.8l1.1 1.2M233.5 581.2l-1.0 1.2M229.2 590.2l0.9 1.5M243.2 578.4l0.9 0.0M234.7 563.6l0.2 0.7M237.2 582.4l-0.2 1.1M269.4 577.8l0.6 0.6M249.2 595.0l0.3 0.9M228.9 584.0l1.6 0.4M231.1 580.5l-0.4 0.2M249.2 556.9l0.9 0.3M242.5 585.3l-1.6 0.1M221.3 577.8l-0.3 0.4M258.7 588.3l1.1 0.7M234.5 566.6l-1.3 1.1M218.8 576.9l0.0 0.0M229.4 577.3l-0.9 0.2M255.2 571.0l0.0 0.0M266.1 580.7l0.4 0.0M221.4 583.8l0.0 0.0M238.1 552.4l1.4 0.7M261.9 554.3l-0.8 0.5M242.0 564.7l-0.3 0.5M237.2 586.4l1.3 0.3M245.0 571.0l-0.0 0.0M234.4 570.6l-0.5 0.1M231.3 571.6l-0.0 0.0M240.7 585.5l-0.4 0.5M254.6 562.0l0.7 0.3M253.7 579.0l-0.1 1.0M247.4 584.6l-0.1 0.8M223.2 576.1l0.0 0.0M266.6 583.0l-0.2 0.2M237.7 586.5l-0.7 0.2M243.1 566.0l0.4 0.0M233.6 559.8l-1.3 0.5M231.2 550.8l-1.5 0.2M259.0 582.6l0.9 0.5M236.7 573.3l0.8 0.2M232.8 561.6l0.1 1.1M237.6 552.4l0.1 0.3M248.5 569.7l0.3 0.2M227.4 561.9l0.8 0.3M225.1 563.6l1.2 0.3M242.7 590.0l1.3 0.5M227.1 557.4l-0.0 0.2M238.7 577.9l1.3 0.4M261.4 573.6l1.3 0.2M249.6 573.3l0.7 1.5M244.7 588.4l-1.6 0.1M228.3 587.9l-0.5 0.4M261.1 573.8l-0.9 1.3M228.9 579.7l0.4 1.0M270.0 577.1l-0.1 0.0M259.7 574.2l1.2 0.6M258.2 559.3l-0.4 0.1M250.3 589.1l0.1 0.3M265.1 562.6l0.2 0.3M241.3 590.0l-0.6 1.2M252.0 571.3l0.5 0.4M262.0 568.3l-0.9 1.1M229.0 577.6l-0.8 0.7M258.6 573.0l-0.8 0.1M259.3 558.0l-0.3 1.4M257.1 580.4l0.1 1.4M254.0 595.2l0.6 0.2M222.9 578.7l-0.1 1.4M239.0 558.2l-0.0 0.7M255.0 563.1l0.4 0.2M244.7 597.5l-0.2 0.3M222.8 585.7l-0.4 0.0M250.8 571.4l-0.5 0.0M249.3 572.3l-0.9 1.3M253.4 555.4l0.4 0.2M268.0 564.9l0.4 0.4M233.7 564.0l1.2 0.9M261.0 587.2l0.2 0.8M260.7 557.0l-0.0 0.0M253.5 551.6l0.4 0.0M241.8 549.0l-0.2 1.5M256.4 580.7l-1.1 0.7M248.2 593.4l0.2 1.2M232.7 582.6l-0.9 0.8M230.3 590.8l0.6 0.6M250.8 588.0l0.0 0.1M238.8 588.2l0.4 0.7M264.6 559.1l0.1 0.2M266.1 586.7l-0.9 0.9M258.9 564.4l0.1 0.1M226.0 587.4l0.7 0.2M255.5 579.6l-0.2 1.1M258.9 568.3l0.1 0.1M246.7 578.2l0.2 0.0M227.3 569.5l-0.8 0.2M253.5 578.9l-1.0 1.3M244.7 560.7l0.3 0.7M231.9 579.3l0.0 0.0M264.0 555.6l-0.6 0.0M240.2 562.4l0.0 0.0M233.0 594.2l-0.0 0.4M225.4 575.9l0.6 0.4M260.9 565.9l-1.2 0.0M262.4 592.0l-0.4 0.6M252.9 593.6l0.6 0.4M254.7 587.5l-1.0 0.1M223.9 571.9l-0.5 0.9M242.1 585.6l-0.5 1.5M257.7 560.2l0.6 0.8M262.7 579.0l-1.3 1.0M254.8 580.0l0.1 1.0M253.3 571.6l0.8 0.3M246.0 569.3l0.4 1.1M234.9 579.0l1.3 0.3M225.3 572.3l-0.7 1.1M231.7 582.9l-0.1 0.0M247.8 555.8l-0.0 0.4M258.5 568.4l0.1 0.1M263.6 558.3l0.2 0.0M243.7 578.0l0.0 1.4M241.3 555.1l-0.5 0.0M239.1 586.1l-0.3 0.8M258.0 586.8l-1.5 0.2M227.2 556.3l0.0 0.8M240.8 562.3l-0.2 0.8M239.2 591.5l0.9 0.6M258.2 585.3l0.9 0.2M264.6 587.4l1.4 0.1M236.9 598.4l0.1 0.2M238.4 562.1l-0.7 0.5M242.6 593.9l0.3 0.3M256.1 580.0l0.2 0.2M229.4 582.6l-0.3 0.9M236.2 554.6l0.1 1.4M253.6 584.4l1.5 0.1M257.2 562.0l-0.8 0.5M267.7 563.0l0.2 0.4M222.4 586.7l0.1 0.6M261.1 576.1l-0.7 0.2M251.8 549.4l-1.2 0.2M230.2 573.9l-1.3 0.3M244.5 567.3l-0.5 1.0M254.9 585.0l0.1 0.4M252.9 580.1l0.0 0.0M249.4 557.1l0.3 0.3M236.5 592.4l-0.5 0.6M240.4 554.0l-1.0 0.7M245.2 569.5l0.1 0.2M250.0 564.2l-0.6 0.1M257.6 591.8l0.5 0.3M225.2 581.5l-0.1 1.1M251.7 548.4l-0.3 0.7M229.1 574.0l-0.8 0.5M236.9 550.9l-0.9 1.2M223.5 579.9l-0.8 0.3M250.9 560.9l1.3 0.7M220.1 565.3l-0.1 0.4M263.0 591.0l0.2 0.2M222.6 569.6l-0.0 0.1M249.1 552.2l0.8 1.3M221.5 574.4l0.5 0.1M245.6 551.6l-0.7 0.9M269.0 577.8l0.4 0.1M238.7 591.4l0.7 0.2M254.6 585.5l0.1 0.2M246.3 569.2l1.2 0.9M223.4 588.1l0.5 0.7M228.1 570.7l-0.7 0.0M250.3 555.5l0.7 1.3M247.7 572.1l-0.4 1.2M227.9 572.8l-0.2 0.2M233.0 575.5l-1.2 0.6M226.0 587.9l-0.1 1.1M246.4 596.9l-0.8 1.5M243.5 590.4l-0.3 0.3M247.2 549.2l1.1 0.6M241.3 587.1l0.6 1.2M234.1 561.0l-0.7 1.2M253.0 596.9l-0.1 1.1M252.7 564.1l0.1 1.2M261.4 575.3l-0.1 0.8M220.5 572.9l1.1 0.4M243.3 581.1l0.0 0.2M234.2 576.4l0.0 0.2M257.0 573.3l0.2 1.0M240.4 565.1l-0.6 0.3M259.9 582.3l-0.2 0.6M242.8 558.9l-1.3 0.9M247.5 567.5l0.2 0.9M236.3 581.3l-0.1 0.2M253.3 588.5l-0.7 0.0M266.1 568.9l-0.7 1.4M225.0 562.2l0.1 1.3M245.4 573.0l-0.1 0.0M240.2 568.1l-0.5 0.5" stroke="#5040cc" stroke-width="1.4" stroke-linecap="round" fill="none"/>
<path d="M260.8 592.1l1.0 1.0M230.0 586.9l0.2 1.2M233.2 588.7l0.4 0.4M255.3 582.3l0.7 0.8M251.2 581.9l-1.0 0.1M266.0 586.3l-0.7 0.7M263.7 569.0l0.0 0.0M260.1 583.3l-0.2 1.3M251.2 576.6l0.6 0.2M266.4 564.4l0.9 0.1M250.1 585.0l0.2 0.3M241.2 585.7l0.4 0.8M223.8 564.9l0.0 0.0M231.4 567.1l0.5 0.4M264.2 566.8l-0.0 0.1M223.4 567.6l-1.1 0.5M269.9 581.9l1.2 0.1M219.6 578.3l-1.2 0.2M263.4 584.3l0.6 0.2M254.8 584.2l0.9 0.1M255.8 580.8l-0.4 0.3M223.1 561.8l-0.5 1.2M256.8 568.2l1.3 0.9M257.9 566.1l-0.1 0.0M248.3 598.1l1.3 0.4M248.7 596.6l0.7 0.3M227.1 564.6l-0.1 0.0M238.5 549.9l-0.0 0.4M249.9 556.9l0.8 0.9M246.9 549.5l0.0 0.0M264.3 576.5l1.0 0.1M260.5 591.0l1.1 0.1M249.3 599.8l0.1 0.8M253.1 562.1l-0.5 0.0M258.5 576.8l0.4 0.9M267.9 583.9l-0.9 0.8M250.9 573.2l-0.8 1.1M252.2 589.0l1.2 0.9M221.0 578.0l0.7 0.7M244.4 558.1l0.1 0.1M233.0 561.3l0.4 0.3M240.8 582.1l-0.1 0.2M248.2 589.2l-1.1 0.0M250.5 597.4l-0.5 0.1M251.0 553.4l-0.2 1.4M234.6 554.8l-0.7 0.1M246.6 575.0l-0.5 0.6M263.5 555.2l0.2 0.2M241.3 571.9l0.1 0.0M239.6 590.5l0.9 0.6M246.1 549.4l-0.2 1.2M251.3 551.8l0.5 0.8M250.8 561.8l0.0 0.0M237.6 568.3l0.1 0.3M263.5 590.3l0.8 1.3M243.3 553.3l0.1 1.0M249.1 562.8l-0.1 0.4M249.6 585.1l-1.2 0.9M234.7 578.2l0.4 0.3M227.5 591.7l-0.1 0.8M237.0 565.6l0.3 0.6M258.3 579.5l-0.2 0.9M244.1 580.7l-0.1 0.2M270.9 574.3l-1.0 1.1M235.1 594.8l-0.9 0.5M258.4 576.5l0.3 0.6M234.5 568.6l0.0 0.0M237.4 578.9l0.0 0.0M251.8 563.0l-0.0 0.9M263.8 578.6l-0.3 0.2M229.4 557.0l-0.1 0.6M223.1 572.0l0.2 1.2M244.7 550.5l0.0 0.2M251.5 586.5l-0.0 0.1M241.0 583.1l-0.0 0.3M247.7 567.6l0.5 1.1M253.2 559.2l-1.4 0.3M230.7 567.7l0.9 0.6M264.7 581.5l0.2 0.2M232.4 562.5l0.2 0.0M248.9 557.5l-0.8 0.6M260.4 573.9l-0.1 0.4M262.7 593.3l0.6 0.9M220.1 583.1l0.0 0.0M231.7 555.7l-0.2 0.1M253.0 590.0l0.1 0.2M248.3 577.9l0.0 0.2M252.9 575.1l-0.6 0.8M231.4 593.4l0.7 0.1M250.4 571.1l0.7 0.3M240.7 579.2l-1.1 0.6M230.1 564.7l-0.1 0.8M231.1 567.3l-0.7 0.5M246.6 593.9l-0.6 0.5M236.0 591.1l-0.2 0.2M257.7 562.4l0.2 0.8M245.5 562.6l0.7 0.4M262.3 575.3l0.3 0.1M228.1 592.4l-0.2 0.4M232.5 559.1l0.7 0.0M237.7 550.8l-0.0 0.0M228.5 572.2l0.2 1.3M226.7 581.2l-1.0 1.0M228.1 563.9l0.6 0.2M253.3 595.4l-0.1 0.2M223.0 561.7l-0.5 0.3M231.9 588.0l0.4 1.5M259.8 553.4l-0.2 0.0M259.9 568.3l0.7 0.7M235.0 580.8l-0.3 0.0M259.2 582.0l-1.1 0.7M228.6 578.4l1.2 0.5M245.4 561.2l-0.7 1.2M236.7 583.5l-0.7 0.7M243.4 574.7l0.6 1.0M251.9 590.6l-0.4 0.4M260.2 589.1l-0.5 0.8M258.3 564.7l-0.0 0.7M254.2 561.6l0.4 0.4M255.1 553.1l1.1 0.7M260.2 572.4l-0.9 0.7M235.3 565.1l1.4 0.0M233.0 594.6l-1.2 0.6M242.4 551.1l-1.3 0.8M266.6 561.5l0.8 1.2M254.4 579.8l-0.8 0.4M259.5 569.2l0.2 0.0M262.6 557.6l0.2 1.0M269.9 579.4l0.2 0.2M226.5 575.2l0.0 1.1M254.3 595.3l0.3 0.5M263.0 559.8l-0.8 1.0M230.9 580.9l-0.1 1.4M255.0 593.4l0.1 1.5M238.4 548.9l0.2 0.7M244.8 585.7l0.2 0.3M230.7 559.3l-0.8 0.9M263.8 570.0l-0.3 0.8M229.4 575.8l0.3 0.4M227.1 572.6l-0.2 1.1M265.1 572.0l-0.5 0.0M229.1 560.8l0.1 0.7M247.1 599.9l1.3 0.3M229.3 575.6l0.9 1.2M234.5 591.0l0.3 1.0M226.7 566.7l0.0 0.0M244.1 572.6l-0.0 0.4M244.0 558.5l0.3 0.0M234.4 592.3l-0.8 1.1M263.9 568.1l1.1 0.2M232.2 590.0l0.5 0.3M245.6 595.5l-0.6 0.1M223.6 573.1l-0.4 0.4M242.4 595.0l0.4 0.7M231.2 559.2l-0.6 0.0M248.5 590.1l-1.3 0.4M255.1 577.7l0.9 0.8M240.9 563.5l-1.1 0.8M251.0 559.2l-0.4 0.2M253.9 569.4l0.2 0.5M254.8 552.6l-0.1 0.9M239.4 593.3l1.1 0.2M262.1 568.6l0.1 0.9M226.2 591.2l0.6 0.5M236.5 552.2l0.1 0.2M241.3 564.8l-0.0 0.0M262.4 557.2l-0.0 1.4M248.8 552.2l0.1 0.1M250.9 579.1l-0.6 1.0M260.3 568.1l0.6 1.3M251.6 548.2l1.5 0.0M224.5 585.9l0.7 0.5M245.1 551.0l-0.1 0.1M250.2 570.4l-0.8 0.5M235.8 564.9l-1.0 0.7M244.9 599.2l0.4 1.3M246.6 589.8l0.0 0.0M251.3 581.7l-0.0 0.8M264.9 589.3l-0.3 0.8M242.2 590.6l-0.7 0.2M219.3 573.1l0.4 1.3M265.2 582.9l0.4 0.2M266.3 586.4l-1.2 0.4M235.9 573.7l-0.1 1.4M244.6 572.5l-1.5 0.1M241.4 571.5l-0.6 0.8M262.5 574.0l0.1 0.0M234.7 552.6l0.1 0.2M242.9 586.2l-0.1 0.4M247.6 571.9l0.7 0.7M237.5 576.1l0.2 0.4M248.7 561.2l-0.5 1.0M239.9 576.4l-0.0 0.2M246.3 599.1l1.3 0.8M247.4 577.6l1.3 0.1M255.8 565.2l0.3 0.5M235.0 562.7l0.1 1.0M243.3 583.2l-0.5 0.9M262.3 574.0l-0.8 0.4M232.9 550.2l0.5 0.4M259.9 593.8l-0.4 1.3M236.3 560.7l-0.3 0.3M223.7 573.0l-0.3 0.3M245.3 554.0l-0.1 0.1M236.8 572.3l-0.5 1.2M231.8 585.3l-0.3 0.8M269.0 570.5l-0.3 0.5M265.4 581.0l0.9 0.7M230.6 553.4l0.8 0.1M236.4 586.7l0.9 1.0M225.8 579.0l0.8 0.3M238.5 566.6l0.2 0.4M237.7 571.2l-0.6 0.0M249.2 571.4l-1.0 1.0M229.7 579.6l-0.2 0.5M245.4 599.0l-0.3 0.7M221.8 579.5l-0.3 0.3M238.3 589.3l0.7 0.1M261.1 588.0l0.3 0.5M247.5 586.6l1.1 0.9M225.9 579.1l0.8 1.3M235.9 567.2l-0.0 0.0M267.7 572.9l0.5 0.4M264.5 561.0l-0.7 0.6M251.8 593.9l-0.1 0.2M262.9 580.3l-0.5 0.1M239.2 567.1l-1.3 0.5M237.7 595.0l-0.5 0.5M249.0 569.7l0.1 0.1M255.4 553.4l0.8 0.7M224.8 572.2l0.2 0.9M230.8 568.1l0.1 0.2M228.4 555.9l0.7 0.6M236.1 580.8l0.1 0.0M244.4 563.9l0.5 0.6M251.4 592.8l0.0 0.4M235.6 554.4l-0.5 0.1M248.3 552.9l-0.0 0.1M238.6 589.9l0.2 0.0M248.8 565.7l-0.1 0.4" stroke="#2e18b8" stroke-width="1.2" stroke-linecap="round" fill="none"/>
<line x1="323.00" y1="492.50" x2="323.00" y2="590.80" stroke="#000" stroke-width="1.15"/>
<line x1="323.00" y1="590.80" x2="470.50" y2="590.80" stroke="#000" stroke-width="1.15"/>
<line x1="319.70" y1="590.80" x2="323.00" y2="590.80" stroke="#000" stroke-width="1"/>
<text x="320.0" y="593.25" font-size="6.9" text-anchor="end">0</text>
<line x1="319.70" y1="566.35" x2="323.00" y2="566.35" stroke="#000" stroke-width="1"/>
<text x="320.0" y="568.8" font-size="6.9" text-anchor="end">2</text>
<line x1="319.70" y1="541.90" x2="323.00" y2="541.90" stroke="#000" stroke-width="1"/>
<text x="320.0" y="544.35" font-size="6.9" text-anchor="end">4</text>
<line x1="319.70" y1="517.45" x2="323.00" y2="517.45" stroke="#000" stroke-width="1"/>
<text x="320.0" y="519.9000000000001" font-size="6.9" text-anchor="end">6</text>
<line x1="319.70" y1="493.00" x2="323.00" y2="493.00" stroke="#000" stroke-width="1"/>
<text x="320.0" y="495.45" font-size="6.9" text-anchor="end">8</text>
<line x1="358.30" y1="590.80" x2="358.30" y2="593.30" stroke="#000" stroke-width="1"/>
<line x1="434.50" y1="590.80" x2="434.50" y2="593.30" stroke="#000" stroke-width="1"/>
<text x="362" y="601.2" font-size="6.9" text-anchor="middle">AsPC-1</text>
<text x="437.4" y="601.2" font-size="6.9" text-anchor="middle">BxPC-3</text>
<text x="301.8" y="541.9" font-size="6.7" text-anchor="middle" transform="rotate(-90 301.8 541.9)">Relative clone number</text>
<text x="310.3" y="541.8" font-size="6.7" text-anchor="middle" transform="rotate(-90 310.3 541.8)">(fold change versus to ctrl)</text>
<rect x="328.80" y="578.57" width="11.20" height="12.23" fill="#fff" stroke="#000" stroke-width="1.15"/>
<line x1="350.10" y1="525.40" x2="350.10" y2="528.45" stroke="#000" stroke-width="1.35"/>
<line x1="347.50" y1="525.40" x2="352.70" y2="525.40" stroke="#000" stroke-width="1.5"/>
<line x1="347.50" y1="528.45" x2="352.70" y2="528.45" stroke="#000" stroke-width="1.5"/>
<rect x="344.50" y="528.45" width="11.20" height="62.35" fill="#000" stroke="#000" stroke-width="1.15"/>
<line x1="366.60" y1="575.52" x2="366.60" y2="578.57" stroke="#000" stroke-width="1.35"/>
<line x1="364.00" y1="575.52" x2="369.20" y2="575.52" stroke="#000" stroke-width="1.5"/>
<line x1="364.00" y1="578.57" x2="369.20" y2="578.57" stroke="#000" stroke-width="1.5"/>
<rect x="361.00" y="578.57" width="11.20" height="12.23" fill="#e0e0e0" stroke="#000" stroke-width="1.15"/>
<line x1="382.90" y1="526.01" x2="382.90" y2="534.56" stroke="#000" stroke-width="1.35"/>
<line x1="380.30" y1="526.01" x2="385.50" y2="526.01" stroke="#000" stroke-width="1.5"/>
<line x1="380.30" y1="534.56" x2="385.50" y2="534.56" stroke="#000" stroke-width="1.5"/>
<rect x="377.30" y="534.56" width="11.20" height="56.24" fill="#666" stroke="#000" stroke-width="1.15"/>
<line x1="409.90" y1="577.96" x2="409.90" y2="578.57" stroke="#000" stroke-width="1.35"/>
<line x1="407.30" y1="577.96" x2="412.50" y2="577.96" stroke="#000" stroke-width="1.5"/>
<line x1="407.30" y1="578.57" x2="412.50" y2="578.57" stroke="#000" stroke-width="1.5"/>
<rect x="404.30" y="578.57" width="11.20" height="12.23" fill="#fff" stroke="#000" stroke-width="1.15"/>
<line x1="426.40" y1="518.06" x2="426.40" y2="524.78" stroke="#000" stroke-width="1.35"/>
<line x1="423.80" y1="518.06" x2="429.00" y2="518.06" stroke="#000" stroke-width="1.5"/>
<line x1="423.80" y1="524.78" x2="429.00" y2="524.78" stroke="#000" stroke-width="1.5"/>
<rect x="420.80" y="524.78" width="11.20" height="66.01" fill="#000" stroke="#000" stroke-width="1.15"/>
<rect x="437.50" y="576.13" width="11.20" height="14.67" fill="#e0e0e0" stroke="#000" stroke-width="1.15"/>
<line x1="459.40" y1="522.34" x2="459.40" y2="532.73" stroke="#000" stroke-width="1.35"/>
<line x1="456.80" y1="522.34" x2="462.00" y2="522.34" stroke="#000" stroke-width="1.5"/>
<line x1="456.80" y1="532.73" x2="462.00" y2="532.73" stroke="#000" stroke-width="1.5"/>
<rect x="453.80" y="532.73" width="11.20" height="58.07" fill="#666" stroke="#000" stroke-width="1.15"/>
<line x1="334.50" y1="518.00" x2="350.00" y2="518.00" stroke="#000" stroke-width="1.15"/>
<line x1="334.50" y1="516.00" x2="334.50" y2="520.00" stroke="#000" stroke-width="1.15"/>
<line x1="350.00" y1="516.00" x2="350.00" y2="520.00" stroke="#000" stroke-width="1.15"/>
<text x="342.25" y="518.3" font-size="7.2" text-anchor="middle">***</text>
<line x1="367.50" y1="520.50" x2="382.50" y2="520.50" stroke="#000" stroke-width="1.15"/>
<line x1="367.50" y1="518.50" x2="367.50" y2="522.50" stroke="#000" stroke-width="1.15"/>
<line x1="382.50" y1="518.50" x2="382.50" y2="522.50" stroke="#000" stroke-width="1.15"/>
<text x="375.0" y="520.8" font-size="7.2" text-anchor="middle">***</text>
<line x1="411.30" y1="514.70" x2="426.50" y2="514.70" stroke="#000" stroke-width="1.15"/>
<line x1="411.30" y1="512.70" x2="411.30" y2="516.70" stroke="#000" stroke-width="1.15"/>
<line x1="426.50" y1="512.70" x2="426.50" y2="516.70" stroke="#000" stroke-width="1.15"/>
<text x="418.9" y="515.0" font-size="7.2" text-anchor="middle">***</text>
<line x1="443.80" y1="518.00" x2="460.00" y2="518.00" stroke="#000" stroke-width="1.15"/>
<line x1="443.80" y1="516.00" x2="443.80" y2="520.00" stroke="#000" stroke-width="1.15"/>
<line x1="460.00" y1="516.00" x2="460.00" y2="520.00" stroke="#000" stroke-width="1.15"/>
<text x="451.9" y="518.3" font-size="7.2" text-anchor="middle">***</text>
<rect x="336.6" y="492" width="6" height="3.4" rx="1.2" fill="#fff" stroke="#000" stroke-width="1.1"/>
<text x="345" y="496.1" font-size="6.6">Ctrl</text>
<rect x="336.6" y="499.5" width="6" height="3.4" rx="1.2" fill="#000" stroke="#000" stroke-width="1.1"/>
<text x="345" y="503.6" font-size="6.6">AT<tspan font-size="72%" dy="0.9">γ</tspan><tspan dy="-0.9">P</tspan></text>
<rect x="368" y="492" width="6" height="3.4" rx="1.2" fill="#e0e0e0" stroke="#000" stroke-width="1.1"/>
<text x="376" y="496.1" font-size="6.6">shP2RY2+AT<tspan font-size="72%" dy="0.9">γ</tspan><tspan dy="-0.9">P</tspan></text>
<rect x="368" y="499.5" width="6" height="3.4" rx="1.2" fill="#666" stroke="#000" stroke-width="1.1"/>
<text x="376" y="503.6" font-size="6.6">shP2RY2+mutP2RY2+AT<tspan font-size="72%" dy="0.9">γ</tspan><tspan dy="-0.9">P</tspan></text></svg>
</body></html>
